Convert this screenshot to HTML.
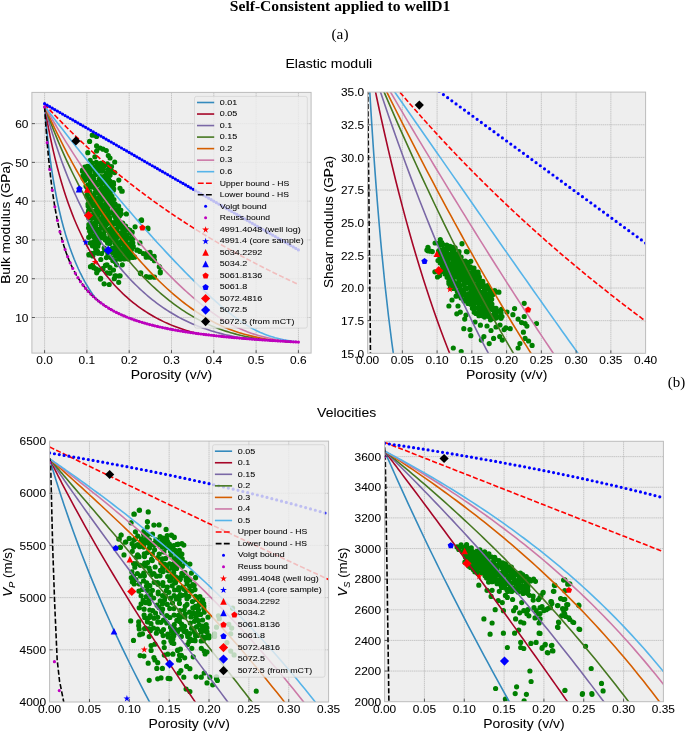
<!DOCTYPE html><html><head><meta charset="utf-8"><style>html,body{margin:0;padding:0;background:#fff;overflow:hidden}svg{display:block}text.s{stroke:#000;stroke-width:0.05px}svg{will-change:transform}</style></head><body><svg width="685" height="731" viewBox="0 0 685 731">
<rect width="685" height="731" fill="#fff"/>
<text x="229.80" y="10.80" font-size="15.5" font-family='"Liberation Serif", serif' text-anchor="start" fill="#000" font-weight="bold" textLength="220.50" lengthAdjust="spacingAndGlyphs">Self-Consistent applied to wellD1</text>
<text x="331.50" y="38.70" font-size="15.1" font-family='"Liberation Serif", serif' text-anchor="start" fill="#000" textLength="17.00" lengthAdjust="spacingAndGlyphs">(a)</text>
<text x="285.50" y="67.90" font-size="13.3" font-family='"Liberation Sans", sans-serif' text-anchor="start" fill="#000" textLength="86.70" lengthAdjust="spacingAndGlyphs" class="s">Elastic moduli</text>
<text x="667.70" y="386.50" font-size="15.1" font-family='"Liberation Serif", serif' text-anchor="start" fill="#000" textLength="17.50" lengthAdjust="spacingAndGlyphs">(b)</text>
<text x="317.10" y="416.80" font-size="13.3" font-family='"Liberation Sans", sans-serif' text-anchor="start" fill="#000" textLength="59.20" lengthAdjust="spacingAndGlyphs" class="s">Velocities</text>
<clipPath id="cTL"><rect x="31.9" y="92.4" width="279.20" height="260.70"/></clipPath>
<rect x="31.9" y="92.4" width="279.20" height="260.70" fill="#eeeeee"/>
<path d="M44.59 92.4V353.1M86.89 92.4V353.1M129.20 92.4V353.1M171.50 92.4V353.1M213.80 92.4V353.1M256.11 92.4V353.1M298.41 92.4V353.1M31.9 317.50H311.1M31.9 278.73H311.1M31.9 239.95H311.1M31.9 201.17H311.1M31.9 162.39H311.1M31.9 123.62H311.1" stroke="#b4b4b4" stroke-width="0.7" stroke-dasharray="1.5 0.6" fill="none"/>
<g clip-path="url(#cTL)">
<path d="M89.7 135.2a2.6 2.6 0 1 0 5.2 0a2.6 2.6 0 1 0 -5.2 0M94.0 136.4a2.6 2.6 0 1 0 5.2 0a2.6 2.6 0 1 0 -5.2 0M87.0 141.4a2.6 2.6 0 1 0 5.2 0a2.6 2.6 0 1 0 -5.2 0M94.0 145.9a2.6 2.6 0 1 0 5.2 0a2.6 2.6 0 1 0 -5.2 0M97.5 148.0a2.6 2.6 0 1 0 5.2 0a2.6 2.6 0 1 0 -5.2 0M100.4 149.2a2.6 2.6 0 1 0 5.2 0a2.6 2.6 0 1 0 -5.2 0M103.7 150.6a2.6 2.6 0 1 0 5.2 0a2.6 2.6 0 1 0 -5.2 0M85.2 152.7a2.6 2.6 0 1 0 5.2 0a2.6 2.6 0 1 0 -5.2 0M94.0 151.0a2.6 2.6 0 1 0 5.2 0a2.6 2.6 0 1 0 -5.2 0M105.7 155.6a2.6 2.6 0 1 0 5.2 0a2.6 2.6 0 1 0 -5.2 0M107.4 158.0a2.6 2.6 0 1 0 5.2 0a2.6 2.6 0 1 0 -5.2 0M92.3 156.8a2.6 2.6 0 1 0 5.2 0a2.6 2.6 0 1 0 -5.2 0M87.6 160.3a2.6 2.6 0 1 0 5.2 0a2.6 2.6 0 1 0 -5.2 0M112.1 162.0a2.6 2.6 0 1 0 5.2 0a2.6 2.6 0 1 0 -5.2 0M116.2 180.1a2.6 2.6 0 1 0 5.2 0a2.6 2.6 0 1 0 -5.2 0M117.4 188.3a2.6 2.6 0 1 0 5.2 0a2.6 2.6 0 1 0 -5.2 0M119.1 191.2a2.6 2.6 0 1 0 5.2 0a2.6 2.6 0 1 0 -5.2 0M112.1 172.6a2.6 2.6 0 1 0 5.2 0a2.6 2.6 0 1 0 -5.2 0M119.6 191.2a2.6 2.6 0 1 0 5.2 0a2.6 2.6 0 1 0 -5.2 0M123.7 214.0a2.6 2.6 0 1 0 5.2 0a2.6 2.6 0 1 0 -5.2 0M138.9 219.8a2.6 2.6 0 1 0 5.2 0a2.6 2.6 0 1 0 -5.2 0M145.3 228.0a2.6 2.6 0 1 0 5.2 0a2.6 2.6 0 1 0 -5.2 0M132.5 226.8a2.6 2.6 0 1 0 5.2 0a2.6 2.6 0 1 0 -5.2 0M86.4 254.9a2.6 2.6 0 1 0 5.2 0a2.6 2.6 0 1 0 -5.2 0M107.4 273.0a2.6 2.6 0 1 0 5.2 0a2.6 2.6 0 1 0 -5.2 0M113.3 275.9a2.6 2.6 0 1 0 5.2 0a2.6 2.6 0 1 0 -5.2 0M116.8 275.9a2.6 2.6 0 1 0 5.2 0a2.6 2.6 0 1 0 -5.2 0M137.8 273.0a2.6 2.6 0 1 0 5.2 0a2.6 2.6 0 1 0 -5.2 0M143.6 276.5a2.6 2.6 0 1 0 5.2 0a2.6 2.6 0 1 0 -5.2 0M148.3 277.1a2.6 2.6 0 1 0 5.2 0a2.6 2.6 0 1 0 -5.2 0M139.0 220.4a2.6 2.6 0 1 0 5.2 0a2.6 2.6 0 1 0 -5.2 0M123.8 214.0a2.6 2.6 0 1 0 5.2 0a2.6 2.6 0 1 0 -5.2 0M98.1 278.3a2.6 2.6 0 1 0 5.2 0a2.6 2.6 0 1 0 -5.2 0M94.6 271.2a2.6 2.6 0 1 0 5.2 0a2.6 2.6 0 1 0 -5.2 0M89.9 265.4a2.6 2.6 0 1 0 5.2 0a2.6 2.6 0 1 0 -5.2 0M93.4 268.9a2.6 2.6 0 1 0 5.2 0a2.6 2.6 0 1 0 -5.2 0M95.8 270.0a2.6 2.6 0 1 0 5.2 0a2.6 2.6 0 1 0 -5.2 0M100.4 268.9a2.6 2.6 0 1 0 5.2 0a2.6 2.6 0 1 0 -5.2 0M102.8 265.4a2.6 2.6 0 1 0 5.2 0a2.6 2.6 0 1 0 -5.2 0M107.4 267.7a2.6 2.6 0 1 0 5.2 0a2.6 2.6 0 1 0 -5.2 0M110.9 270.0a2.6 2.6 0 1 0 5.2 0a2.6 2.6 0 1 0 -5.2 0M91.1 267.7a2.6 2.6 0 1 0 5.2 0a2.6 2.6 0 1 0 -5.2 0M128.5 254.9a2.6 2.6 0 1 0 5.2 0a2.6 2.6 0 1 0 -5.2 0M132.0 257.2a2.6 2.6 0 1 0 5.2 0a2.6 2.6 0 1 0 -5.2 0M134.9 250.2a2.6 2.6 0 1 0 5.2 0a2.6 2.6 0 1 0 -5.2 0M137.2 251.4a2.6 2.6 0 1 0 5.2 0a2.6 2.6 0 1 0 -5.2 0M140.7 253.7a2.6 2.6 0 1 0 5.2 0a2.6 2.6 0 1 0 -5.2 0M143.6 257.2a2.6 2.6 0 1 0 5.2 0a2.6 2.6 0 1 0 -5.2 0M147.1 257.2a2.6 2.6 0 1 0 5.2 0a2.6 2.6 0 1 0 -5.2 0M149.5 258.4a2.6 2.6 0 1 0 5.2 0a2.6 2.6 0 1 0 -5.2 0M151.8 260.7a2.6 2.6 0 1 0 5.2 0a2.6 2.6 0 1 0 -5.2 0M147.5 252.3a2.6 2.6 0 1 0 5.2 0a2.6 2.6 0 1 0 -5.2 0M151.6 256.4a2.6 2.6 0 1 0 5.2 0a2.6 2.6 0 1 0 -5.2 0M156.7 266.7a2.6 2.6 0 1 0 5.2 0a2.6 2.6 0 1 0 -5.2 0M157.7 271.8a2.6 2.6 0 1 0 5.2 0a2.6 2.6 0 1 0 -5.2 0M138.2 272.8a2.6 2.6 0 1 0 5.2 0a2.6 2.6 0 1 0 -5.2 0M145.4 228.7a2.6 2.6 0 1 0 5.2 0a2.6 2.6 0 1 0 -5.2 0M138.2 220.5a2.6 2.6 0 1 0 5.2 0a2.6 2.6 0 1 0 -5.2 0M104.4 272.8a2.6 2.6 0 1 0 5.2 0a2.6 2.6 0 1 0 -5.2 0M94.1 272.8a2.6 2.6 0 1 0 5.2 0a2.6 2.6 0 1 0 -5.2 0M87.9 266.7a2.6 2.6 0 1 0 5.2 0a2.6 2.6 0 1 0 -5.2 0M86.9 254.4a2.6 2.6 0 1 0 5.2 0a2.6 2.6 0 1 0 -5.2 0M97.8 279.1a2.6 2.6 0 1 0 5.2 0a2.6 2.6 0 1 0 -5.2 0M101.5 283.8a2.6 2.6 0 1 0 5.2 0a2.6 2.6 0 1 0 -5.2 0M106.6 284.5a2.6 2.6 0 1 0 5.2 0a2.6 2.6 0 1 0 -5.2 0M116.1 282.3a2.6 2.6 0 1 0 5.2 0a2.6 2.6 0 1 0 -5.2 0M112.4 275.8a2.6 2.6 0 1 0 5.2 0a2.6 2.6 0 1 0 -5.2 0M117.5 275.8a2.6 2.6 0 1 0 5.2 0a2.6 2.6 0 1 0 -5.2 0M107.3 273.3a2.6 2.6 0 1 0 5.2 0a2.6 2.6 0 1 0 -5.2 0M111.7 278.7a2.6 2.6 0 1 0 5.2 0a2.6 2.6 0 1 0 -5.2 0M90.5 266.3a2.6 2.6 0 1 0 5.2 0a2.6 2.6 0 1 0 -5.2 0M94.9 270.7a2.6 2.6 0 1 0 5.2 0a2.6 2.6 0 1 0 -5.2 0M100.0 268.5a2.6 2.6 0 1 0 5.2 0a2.6 2.6 0 1 0 -5.2 0M104.4 264.8a2.6 2.6 0 1 0 5.2 0a2.6 2.6 0 1 0 -5.2 0M113.9 264.8a2.6 2.6 0 1 0 5.2 0a2.6 2.6 0 1 0 -5.2 0M119.7 264.8a2.6 2.6 0 1 0 5.2 0a2.6 2.6 0 1 0 -5.2 0M86.2 254.6a2.6 2.6 0 1 0 5.2 0a2.6 2.6 0 1 0 -5.2 0M89.8 245.8a2.6 2.6 0 1 0 5.2 0a2.6 2.6 0 1 0 -5.2 0M138.0 273.6a2.6 2.6 0 1 0 5.2 0a2.6 2.6 0 1 0 -5.2 0M146.7 277.2a2.6 2.6 0 1 0 5.2 0a2.6 2.6 0 1 0 -5.2 0M151.9 277.2a2.6 2.6 0 1 0 5.2 0a2.6 2.6 0 1 0 -5.2 0M157.7 272.8a2.6 2.6 0 1 0 5.2 0a2.6 2.6 0 1 0 -5.2 0M157.0 267.0a2.6 2.6 0 1 0 5.2 0a2.6 2.6 0 1 0 -5.2 0M151.9 260.4a2.6 2.6 0 1 0 5.2 0a2.6 2.6 0 1 0 -5.2 0M148.9 256.1a2.6 2.6 0 1 0 5.2 0a2.6 2.6 0 1 0 -5.2 0M144.6 253.1a2.6 2.6 0 1 0 5.2 0a2.6 2.6 0 1 0 -5.2 0M134.3 250.2a2.6 2.6 0 1 0 5.2 0a2.6 2.6 0 1 0 -5.2 0M137.3 242.9a2.6 2.6 0 1 0 5.2 0a2.6 2.6 0 1 0 -5.2 0M130.0 257.5a2.6 2.6 0 1 0 5.2 0a2.6 2.6 0 1 0 -5.2 0M125.6 259.0a2.6 2.6 0 1 0 5.2 0a2.6 2.6 0 1 0 -5.2 0M119.7 258.2a2.6 2.6 0 1 0 5.2 0a2.6 2.6 0 1 0 -5.2 0M116.8 254.6a2.6 2.6 0 1 0 5.2 0a2.6 2.6 0 1 0 -5.2 0M79.9 170.0a2.6 2.6 0 1 0 5.2 0a2.6 2.6 0 1 0 -5.2 0M80.4 178.0a2.6 2.6 0 1 0 5.2 0a2.6 2.6 0 1 0 -5.2 0M83.4 186.0a2.6 2.6 0 1 0 5.2 0a2.6 2.6 0 1 0 -5.2 0M84.4 195.0a2.6 2.6 0 1 0 5.2 0a2.6 2.6 0 1 0 -5.2 0M89.7 163.0a2.6 2.6 0 1 0 5.2 0a2.6 2.6 0 1 0 -5.2 0M93.7 162.3a2.6 2.6 0 1 0 5.2 0a2.6 2.6 0 1 0 -5.2 0M98.1 163.3a2.6 2.6 0 1 0 5.2 0a2.6 2.6 0 1 0 -5.2 0M100.4 163.0a2.6 2.6 0 1 0 5.2 0a2.6 2.6 0 1 0 -5.2 0M104.7 163.8a2.6 2.6 0 1 0 5.2 0a2.6 2.6 0 1 0 -5.2 0M82.1 167.1a2.6 2.6 0 1 0 5.2 0a2.6 2.6 0 1 0 -5.2 0M84.7 166.3a2.6 2.6 0 1 0 5.2 0a2.6 2.6 0 1 0 -5.2 0M87.3 166.4a2.6 2.6 0 1 0 5.2 0a2.6 2.6 0 1 0 -5.2 0M92.4 167.2a2.6 2.6 0 1 0 5.2 0a2.6 2.6 0 1 0 -5.2 0M96.4 165.4a2.6 2.6 0 1 0 5.2 0a2.6 2.6 0 1 0 -5.2 0M98.9 166.4a2.6 2.6 0 1 0 5.2 0a2.6 2.6 0 1 0 -5.2 0M101.6 165.8a2.6 2.6 0 1 0 5.2 0a2.6 2.6 0 1 0 -5.2 0M105.6 165.0a2.6 2.6 0 1 0 5.2 0a2.6 2.6 0 1 0 -5.2 0M108.9 166.6a2.6 2.6 0 1 0 5.2 0a2.6 2.6 0 1 0 -5.2 0M84.2 168.2a2.6 2.6 0 1 0 5.2 0a2.6 2.6 0 1 0 -5.2 0M85.8 168.4a2.6 2.6 0 1 0 5.2 0a2.6 2.6 0 1 0 -5.2 0M89.5 169.0a2.6 2.6 0 1 0 5.2 0a2.6 2.6 0 1 0 -5.2 0M94.0 168.5a2.6 2.6 0 1 0 5.2 0a2.6 2.6 0 1 0 -5.2 0M96.2 168.8a2.6 2.6 0 1 0 5.2 0a2.6 2.6 0 1 0 -5.2 0M100.7 169.2a2.6 2.6 0 1 0 5.2 0a2.6 2.6 0 1 0 -5.2 0M105.7 169.5a2.6 2.6 0 1 0 5.2 0a2.6 2.6 0 1 0 -5.2 0M108.2 169.3a2.6 2.6 0 1 0 5.2 0a2.6 2.6 0 1 0 -5.2 0M79.9 171.3a2.6 2.6 0 1 0 5.2 0a2.6 2.6 0 1 0 -5.2 0M83.8 171.8a2.6 2.6 0 1 0 5.2 0a2.6 2.6 0 1 0 -5.2 0M87.2 173.1a2.6 2.6 0 1 0 5.2 0a2.6 2.6 0 1 0 -5.2 0M92.3 171.3a2.6 2.6 0 1 0 5.2 0a2.6 2.6 0 1 0 -5.2 0M95.0 171.8a2.6 2.6 0 1 0 5.2 0a2.6 2.6 0 1 0 -5.2 0M98.9 171.2a2.6 2.6 0 1 0 5.2 0a2.6 2.6 0 1 0 -5.2 0M103.7 173.4a2.6 2.6 0 1 0 5.2 0a2.6 2.6 0 1 0 -5.2 0M106.3 172.1a2.6 2.6 0 1 0 5.2 0a2.6 2.6 0 1 0 -5.2 0M109.0 171.2a2.6 2.6 0 1 0 5.2 0a2.6 2.6 0 1 0 -5.2 0M80.3 175.8a2.6 2.6 0 1 0 5.2 0a2.6 2.6 0 1 0 -5.2 0M82.4 175.0a2.6 2.6 0 1 0 5.2 0a2.6 2.6 0 1 0 -5.2 0M85.8 176.0a2.6 2.6 0 1 0 5.2 0a2.6 2.6 0 1 0 -5.2 0M90.3 176.0a2.6 2.6 0 1 0 5.2 0a2.6 2.6 0 1 0 -5.2 0M93.4 174.6a2.6 2.6 0 1 0 5.2 0a2.6 2.6 0 1 0 -5.2 0M98.2 176.5a2.6 2.6 0 1 0 5.2 0a2.6 2.6 0 1 0 -5.2 0M101.9 176.1a2.6 2.6 0 1 0 5.2 0a2.6 2.6 0 1 0 -5.2 0M105.4 175.9a2.6 2.6 0 1 0 5.2 0a2.6 2.6 0 1 0 -5.2 0M107.5 175.3a2.6 2.6 0 1 0 5.2 0a2.6 2.6 0 1 0 -5.2 0M81.5 179.4a2.6 2.6 0 1 0 5.2 0a2.6 2.6 0 1 0 -5.2 0M85.7 178.4a2.6 2.6 0 1 0 5.2 0a2.6 2.6 0 1 0 -5.2 0M88.8 179.2a2.6 2.6 0 1 0 5.2 0a2.6 2.6 0 1 0 -5.2 0M91.0 178.8a2.6 2.6 0 1 0 5.2 0a2.6 2.6 0 1 0 -5.2 0M96.6 179.1a2.6 2.6 0 1 0 5.2 0a2.6 2.6 0 1 0 -5.2 0M99.8 178.4a2.6 2.6 0 1 0 5.2 0a2.6 2.6 0 1 0 -5.2 0M102.0 179.1a2.6 2.6 0 1 0 5.2 0a2.6 2.6 0 1 0 -5.2 0M106.0 179.2a2.6 2.6 0 1 0 5.2 0a2.6 2.6 0 1 0 -5.2 0M82.1 180.3a2.6 2.6 0 1 0 5.2 0a2.6 2.6 0 1 0 -5.2 0M87.8 181.9a2.6 2.6 0 1 0 5.2 0a2.6 2.6 0 1 0 -5.2 0M90.3 182.6a2.6 2.6 0 1 0 5.2 0a2.6 2.6 0 1 0 -5.2 0M93.6 182.5a2.6 2.6 0 1 0 5.2 0a2.6 2.6 0 1 0 -5.2 0M98.2 180.8a2.6 2.6 0 1 0 5.2 0a2.6 2.6 0 1 0 -5.2 0M100.4 181.0a2.6 2.6 0 1 0 5.2 0a2.6 2.6 0 1 0 -5.2 0M103.9 181.7a2.6 2.6 0 1 0 5.2 0a2.6 2.6 0 1 0 -5.2 0M107.6 181.3a2.6 2.6 0 1 0 5.2 0a2.6 2.6 0 1 0 -5.2 0M110.9 182.6a2.6 2.6 0 1 0 5.2 0a2.6 2.6 0 1 0 -5.2 0M85.4 184.8a2.6 2.6 0 1 0 5.2 0a2.6 2.6 0 1 0 -5.2 0M88.0 184.7a2.6 2.6 0 1 0 5.2 0a2.6 2.6 0 1 0 -5.2 0M92.1 185.4a2.6 2.6 0 1 0 5.2 0a2.6 2.6 0 1 0 -5.2 0M94.6 184.8a2.6 2.6 0 1 0 5.2 0a2.6 2.6 0 1 0 -5.2 0M98.6 184.1a2.6 2.6 0 1 0 5.2 0a2.6 2.6 0 1 0 -5.2 0M103.5 184.7a2.6 2.6 0 1 0 5.2 0a2.6 2.6 0 1 0 -5.2 0M106.6 185.3a2.6 2.6 0 1 0 5.2 0a2.6 2.6 0 1 0 -5.2 0M111.0 184.5a2.6 2.6 0 1 0 5.2 0a2.6 2.6 0 1 0 -5.2 0M83.9 186.8a2.6 2.6 0 1 0 5.2 0a2.6 2.6 0 1 0 -5.2 0M85.6 187.6a2.6 2.6 0 1 0 5.2 0a2.6 2.6 0 1 0 -5.2 0M89.1 187.1a2.6 2.6 0 1 0 5.2 0a2.6 2.6 0 1 0 -5.2 0M92.7 188.2a2.6 2.6 0 1 0 5.2 0a2.6 2.6 0 1 0 -5.2 0M98.1 188.8a2.6 2.6 0 1 0 5.2 0a2.6 2.6 0 1 0 -5.2 0M100.1 188.3a2.6 2.6 0 1 0 5.2 0a2.6 2.6 0 1 0 -5.2 0M105.0 186.9a2.6 2.6 0 1 0 5.2 0a2.6 2.6 0 1 0 -5.2 0M109.2 188.9a2.6 2.6 0 1 0 5.2 0a2.6 2.6 0 1 0 -5.2 0M111.1 188.9a2.6 2.6 0 1 0 5.2 0a2.6 2.6 0 1 0 -5.2 0M85.1 190.9a2.6 2.6 0 1 0 5.2 0a2.6 2.6 0 1 0 -5.2 0M87.3 192.1a2.6 2.6 0 1 0 5.2 0a2.6 2.6 0 1 0 -5.2 0M92.7 192.1a2.6 2.6 0 1 0 5.2 0a2.6 2.6 0 1 0 -5.2 0M94.6 190.3a2.6 2.6 0 1 0 5.2 0a2.6 2.6 0 1 0 -5.2 0M98.0 191.6a2.6 2.6 0 1 0 5.2 0a2.6 2.6 0 1 0 -5.2 0M102.2 189.9a2.6 2.6 0 1 0 5.2 0a2.6 2.6 0 1 0 -5.2 0M106.2 191.9a2.6 2.6 0 1 0 5.2 0a2.6 2.6 0 1 0 -5.2 0M110.8 190.3a2.6 2.6 0 1 0 5.2 0a2.6 2.6 0 1 0 -5.2 0M86.5 193.6a2.6 2.6 0 1 0 5.2 0a2.6 2.6 0 1 0 -5.2 0M90.3 195.1a2.6 2.6 0 1 0 5.2 0a2.6 2.6 0 1 0 -5.2 0M93.2 193.1a2.6 2.6 0 1 0 5.2 0a2.6 2.6 0 1 0 -5.2 0M97.5 193.3a2.6 2.6 0 1 0 5.2 0a2.6 2.6 0 1 0 -5.2 0M100.0 193.1a2.6 2.6 0 1 0 5.2 0a2.6 2.6 0 1 0 -5.2 0M103.5 193.2a2.6 2.6 0 1 0 5.2 0a2.6 2.6 0 1 0 -5.2 0M107.7 193.5a2.6 2.6 0 1 0 5.2 0a2.6 2.6 0 1 0 -5.2 0M84.5 197.1a2.6 2.6 0 1 0 5.2 0a2.6 2.6 0 1 0 -5.2 0M88.9 198.3a2.6 2.6 0 1 0 5.2 0a2.6 2.6 0 1 0 -5.2 0M91.6 197.9a2.6 2.6 0 1 0 5.2 0a2.6 2.6 0 1 0 -5.2 0M96.1 197.5a2.6 2.6 0 1 0 5.2 0a2.6 2.6 0 1 0 -5.2 0M99.0 196.7a2.6 2.6 0 1 0 5.2 0a2.6 2.6 0 1 0 -5.2 0M101.7 196.2a2.6 2.6 0 1 0 5.2 0a2.6 2.6 0 1 0 -5.2 0M105.3 197.7a2.6 2.6 0 1 0 5.2 0a2.6 2.6 0 1 0 -5.2 0M109.4 196.3a2.6 2.6 0 1 0 5.2 0a2.6 2.6 0 1 0 -5.2 0M86.1 199.9a2.6 2.6 0 1 0 5.2 0a2.6 2.6 0 1 0 -5.2 0M88.9 199.9a2.6 2.6 0 1 0 5.2 0a2.6 2.6 0 1 0 -5.2 0M93.7 200.2a2.6 2.6 0 1 0 5.2 0a2.6 2.6 0 1 0 -5.2 0M96.6 200.2a2.6 2.6 0 1 0 5.2 0a2.6 2.6 0 1 0 -5.2 0M99.8 199.6a2.6 2.6 0 1 0 5.2 0a2.6 2.6 0 1 0 -5.2 0M103.6 200.0a2.6 2.6 0 1 0 5.2 0a2.6 2.6 0 1 0 -5.2 0M107.0 199.0a2.6 2.6 0 1 0 5.2 0a2.6 2.6 0 1 0 -5.2 0M111.3 199.6a2.6 2.6 0 1 0 5.2 0a2.6 2.6 0 1 0 -5.2 0M85.4 204.1a2.6 2.6 0 1 0 5.2 0a2.6 2.6 0 1 0 -5.2 0M87.5 203.4a2.6 2.6 0 1 0 5.2 0a2.6 2.6 0 1 0 -5.2 0M92.0 204.2a2.6 2.6 0 1 0 5.2 0a2.6 2.6 0 1 0 -5.2 0M96.4 204.2a2.6 2.6 0 1 0 5.2 0a2.6 2.6 0 1 0 -5.2 0M99.4 204.3a2.6 2.6 0 1 0 5.2 0a2.6 2.6 0 1 0 -5.2 0M103.3 203.8a2.6 2.6 0 1 0 5.2 0a2.6 2.6 0 1 0 -5.2 0M105.7 202.2a2.6 2.6 0 1 0 5.2 0a2.6 2.6 0 1 0 -5.2 0M109.1 203.0a2.6 2.6 0 1 0 5.2 0a2.6 2.6 0 1 0 -5.2 0M112.6 204.2a2.6 2.6 0 1 0 5.2 0a2.6 2.6 0 1 0 -5.2 0M85.5 205.9a2.6 2.6 0 1 0 5.2 0a2.6 2.6 0 1 0 -5.2 0M90.8 205.7a2.6 2.6 0 1 0 5.2 0a2.6 2.6 0 1 0 -5.2 0M94.4 207.7a2.6 2.6 0 1 0 5.2 0a2.6 2.6 0 1 0 -5.2 0M97.4 206.2a2.6 2.6 0 1 0 5.2 0a2.6 2.6 0 1 0 -5.2 0M100.9 206.9a2.6 2.6 0 1 0 5.2 0a2.6 2.6 0 1 0 -5.2 0M105.3 206.8a2.6 2.6 0 1 0 5.2 0a2.6 2.6 0 1 0 -5.2 0M108.6 205.4a2.6 2.6 0 1 0 5.2 0a2.6 2.6 0 1 0 -5.2 0M110.9 205.8a2.6 2.6 0 1 0 5.2 0a2.6 2.6 0 1 0 -5.2 0M116.0 206.0a2.6 2.6 0 1 0 5.2 0a2.6 2.6 0 1 0 -5.2 0M86.0 210.7a2.6 2.6 0 1 0 5.2 0a2.6 2.6 0 1 0 -5.2 0M87.2 209.5a2.6 2.6 0 1 0 5.2 0a2.6 2.6 0 1 0 -5.2 0M92.8 210.8a2.6 2.6 0 1 0 5.2 0a2.6 2.6 0 1 0 -5.2 0M95.5 209.0a2.6 2.6 0 1 0 5.2 0a2.6 2.6 0 1 0 -5.2 0M98.5 210.7a2.6 2.6 0 1 0 5.2 0a2.6 2.6 0 1 0 -5.2 0M102.1 209.8a2.6 2.6 0 1 0 5.2 0a2.6 2.6 0 1 0 -5.2 0M105.5 209.6a2.6 2.6 0 1 0 5.2 0a2.6 2.6 0 1 0 -5.2 0M111.1 208.7a2.6 2.6 0 1 0 5.2 0a2.6 2.6 0 1 0 -5.2 0M114.4 209.6a2.6 2.6 0 1 0 5.2 0a2.6 2.6 0 1 0 -5.2 0M118.2 210.1a2.6 2.6 0 1 0 5.2 0a2.6 2.6 0 1 0 -5.2 0M85.3 213.3a2.6 2.6 0 1 0 5.2 0a2.6 2.6 0 1 0 -5.2 0M91.1 211.7a2.6 2.6 0 1 0 5.2 0a2.6 2.6 0 1 0 -5.2 0M94.9 213.2a2.6 2.6 0 1 0 5.2 0a2.6 2.6 0 1 0 -5.2 0M98.4 212.2a2.6 2.6 0 1 0 5.2 0a2.6 2.6 0 1 0 -5.2 0M100.7 212.4a2.6 2.6 0 1 0 5.2 0a2.6 2.6 0 1 0 -5.2 0M105.9 212.9a2.6 2.6 0 1 0 5.2 0a2.6 2.6 0 1 0 -5.2 0M107.8 212.5a2.6 2.6 0 1 0 5.2 0a2.6 2.6 0 1 0 -5.2 0M111.2 211.6a2.6 2.6 0 1 0 5.2 0a2.6 2.6 0 1 0 -5.2 0M114.4 213.5a2.6 2.6 0 1 0 5.2 0a2.6 2.6 0 1 0 -5.2 0M118.5 213.8a2.6 2.6 0 1 0 5.2 0a2.6 2.6 0 1 0 -5.2 0M85.4 214.7a2.6 2.6 0 1 0 5.2 0a2.6 2.6 0 1 0 -5.2 0M89.0 215.7a2.6 2.6 0 1 0 5.2 0a2.6 2.6 0 1 0 -5.2 0M92.6 216.2a2.6 2.6 0 1 0 5.2 0a2.6 2.6 0 1 0 -5.2 0M95.1 214.7a2.6 2.6 0 1 0 5.2 0a2.6 2.6 0 1 0 -5.2 0M100.3 214.9a2.6 2.6 0 1 0 5.2 0a2.6 2.6 0 1 0 -5.2 0M102.7 215.4a2.6 2.6 0 1 0 5.2 0a2.6 2.6 0 1 0 -5.2 0M105.9 216.4a2.6 2.6 0 1 0 5.2 0a2.6 2.6 0 1 0 -5.2 0M111.2 215.2a2.6 2.6 0 1 0 5.2 0a2.6 2.6 0 1 0 -5.2 0M114.0 215.3a2.6 2.6 0 1 0 5.2 0a2.6 2.6 0 1 0 -5.2 0M117.3 215.6a2.6 2.6 0 1 0 5.2 0a2.6 2.6 0 1 0 -5.2 0M86.2 217.9a2.6 2.6 0 1 0 5.2 0a2.6 2.6 0 1 0 -5.2 0M89.5 218.3a2.6 2.6 0 1 0 5.2 0a2.6 2.6 0 1 0 -5.2 0M94.0 219.9a2.6 2.6 0 1 0 5.2 0a2.6 2.6 0 1 0 -5.2 0M98.0 218.7a2.6 2.6 0 1 0 5.2 0a2.6 2.6 0 1 0 -5.2 0M100.8 219.0a2.6 2.6 0 1 0 5.2 0a2.6 2.6 0 1 0 -5.2 0M104.3 218.5a2.6 2.6 0 1 0 5.2 0a2.6 2.6 0 1 0 -5.2 0M107.1 218.4a2.6 2.6 0 1 0 5.2 0a2.6 2.6 0 1 0 -5.2 0M113.0 218.0a2.6 2.6 0 1 0 5.2 0a2.6 2.6 0 1 0 -5.2 0M115.4 219.3a2.6 2.6 0 1 0 5.2 0a2.6 2.6 0 1 0 -5.2 0M88.1 223.1a2.6 2.6 0 1 0 5.2 0a2.6 2.6 0 1 0 -5.2 0M92.8 222.9a2.6 2.6 0 1 0 5.2 0a2.6 2.6 0 1 0 -5.2 0M96.8 221.4a2.6 2.6 0 1 0 5.2 0a2.6 2.6 0 1 0 -5.2 0M98.2 221.2a2.6 2.6 0 1 0 5.2 0a2.6 2.6 0 1 0 -5.2 0M102.9 222.5a2.6 2.6 0 1 0 5.2 0a2.6 2.6 0 1 0 -5.2 0M107.5 222.6a2.6 2.6 0 1 0 5.2 0a2.6 2.6 0 1 0 -5.2 0M110.4 222.7a2.6 2.6 0 1 0 5.2 0a2.6 2.6 0 1 0 -5.2 0M113.5 222.2a2.6 2.6 0 1 0 5.2 0a2.6 2.6 0 1 0 -5.2 0M116.0 222.8a2.6 2.6 0 1 0 5.2 0a2.6 2.6 0 1 0 -5.2 0M120.1 223.1a2.6 2.6 0 1 0 5.2 0a2.6 2.6 0 1 0 -5.2 0M86.3 224.5a2.6 2.6 0 1 0 5.2 0a2.6 2.6 0 1 0 -5.2 0M90.5 223.9a2.6 2.6 0 1 0 5.2 0a2.6 2.6 0 1 0 -5.2 0M93.3 225.1a2.6 2.6 0 1 0 5.2 0a2.6 2.6 0 1 0 -5.2 0M98.6 225.5a2.6 2.6 0 1 0 5.2 0a2.6 2.6 0 1 0 -5.2 0M102.0 225.1a2.6 2.6 0 1 0 5.2 0a2.6 2.6 0 1 0 -5.2 0M103.9 224.5a2.6 2.6 0 1 0 5.2 0a2.6 2.6 0 1 0 -5.2 0M109.4 225.7a2.6 2.6 0 1 0 5.2 0a2.6 2.6 0 1 0 -5.2 0M111.3 224.0a2.6 2.6 0 1 0 5.2 0a2.6 2.6 0 1 0 -5.2 0M115.4 225.6a2.6 2.6 0 1 0 5.2 0a2.6 2.6 0 1 0 -5.2 0M118.8 224.6a2.6 2.6 0 1 0 5.2 0a2.6 2.6 0 1 0 -5.2 0M123.0 226.2a2.6 2.6 0 1 0 5.2 0a2.6 2.6 0 1 0 -5.2 0M86.0 227.8a2.6 2.6 0 1 0 5.2 0a2.6 2.6 0 1 0 -5.2 0M89.2 227.6a2.6 2.6 0 1 0 5.2 0a2.6 2.6 0 1 0 -5.2 0M91.3 228.9a2.6 2.6 0 1 0 5.2 0a2.6 2.6 0 1 0 -5.2 0M95.1 229.4a2.6 2.6 0 1 0 5.2 0a2.6 2.6 0 1 0 -5.2 0M99.2 227.5a2.6 2.6 0 1 0 5.2 0a2.6 2.6 0 1 0 -5.2 0M102.1 228.1a2.6 2.6 0 1 0 5.2 0a2.6 2.6 0 1 0 -5.2 0M106.8 229.4a2.6 2.6 0 1 0 5.2 0a2.6 2.6 0 1 0 -5.2 0M109.1 228.0a2.6 2.6 0 1 0 5.2 0a2.6 2.6 0 1 0 -5.2 0M112.9 229.5a2.6 2.6 0 1 0 5.2 0a2.6 2.6 0 1 0 -5.2 0M116.3 227.2a2.6 2.6 0 1 0 5.2 0a2.6 2.6 0 1 0 -5.2 0M119.7 228.0a2.6 2.6 0 1 0 5.2 0a2.6 2.6 0 1 0 -5.2 0M125.4 229.3a2.6 2.6 0 1 0 5.2 0a2.6 2.6 0 1 0 -5.2 0M87.0 231.1a2.6 2.6 0 1 0 5.2 0a2.6 2.6 0 1 0 -5.2 0M89.9 231.0a2.6 2.6 0 1 0 5.2 0a2.6 2.6 0 1 0 -5.2 0M93.0 230.2a2.6 2.6 0 1 0 5.2 0a2.6 2.6 0 1 0 -5.2 0M96.8 231.0a2.6 2.6 0 1 0 5.2 0a2.6 2.6 0 1 0 -5.2 0M102.1 230.5a2.6 2.6 0 1 0 5.2 0a2.6 2.6 0 1 0 -5.2 0M105.8 230.7a2.6 2.6 0 1 0 5.2 0a2.6 2.6 0 1 0 -5.2 0M107.8 232.2a2.6 2.6 0 1 0 5.2 0a2.6 2.6 0 1 0 -5.2 0M112.6 231.2a2.6 2.6 0 1 0 5.2 0a2.6 2.6 0 1 0 -5.2 0M114.3 231.3a2.6 2.6 0 1 0 5.2 0a2.6 2.6 0 1 0 -5.2 0M118.7 232.5a2.6 2.6 0 1 0 5.2 0a2.6 2.6 0 1 0 -5.2 0M121.8 231.1a2.6 2.6 0 1 0 5.2 0a2.6 2.6 0 1 0 -5.2 0M127.2 230.2a2.6 2.6 0 1 0 5.2 0a2.6 2.6 0 1 0 -5.2 0M129.6 232.2a2.6 2.6 0 1 0 5.2 0a2.6 2.6 0 1 0 -5.2 0M88.0 233.9a2.6 2.6 0 1 0 5.2 0a2.6 2.6 0 1 0 -5.2 0M93.2 234.8a2.6 2.6 0 1 0 5.2 0a2.6 2.6 0 1 0 -5.2 0M95.0 235.1a2.6 2.6 0 1 0 5.2 0a2.6 2.6 0 1 0 -5.2 0M98.7 234.0a2.6 2.6 0 1 0 5.2 0a2.6 2.6 0 1 0 -5.2 0M101.5 235.2a2.6 2.6 0 1 0 5.2 0a2.6 2.6 0 1 0 -5.2 0M107.4 234.9a2.6 2.6 0 1 0 5.2 0a2.6 2.6 0 1 0 -5.2 0M111.1 233.3a2.6 2.6 0 1 0 5.2 0a2.6 2.6 0 1 0 -5.2 0M112.9 234.5a2.6 2.6 0 1 0 5.2 0a2.6 2.6 0 1 0 -5.2 0M118.4 235.7a2.6 2.6 0 1 0 5.2 0a2.6 2.6 0 1 0 -5.2 0M120.5 233.9a2.6 2.6 0 1 0 5.2 0a2.6 2.6 0 1 0 -5.2 0M124.2 234.5a2.6 2.6 0 1 0 5.2 0a2.6 2.6 0 1 0 -5.2 0M129.1 233.7a2.6 2.6 0 1 0 5.2 0a2.6 2.6 0 1 0 -5.2 0M86.1 237.3a2.6 2.6 0 1 0 5.2 0a2.6 2.6 0 1 0 -5.2 0M90.9 236.6a2.6 2.6 0 1 0 5.2 0a2.6 2.6 0 1 0 -5.2 0M93.0 238.3a2.6 2.6 0 1 0 5.2 0a2.6 2.6 0 1 0 -5.2 0M96.8 236.5a2.6 2.6 0 1 0 5.2 0a2.6 2.6 0 1 0 -5.2 0M99.8 237.8a2.6 2.6 0 1 0 5.2 0a2.6 2.6 0 1 0 -5.2 0M104.2 238.9a2.6 2.6 0 1 0 5.2 0a2.6 2.6 0 1 0 -5.2 0M109.2 238.9a2.6 2.6 0 1 0 5.2 0a2.6 2.6 0 1 0 -5.2 0M111.2 236.6a2.6 2.6 0 1 0 5.2 0a2.6 2.6 0 1 0 -5.2 0M114.4 237.6a2.6 2.6 0 1 0 5.2 0a2.6 2.6 0 1 0 -5.2 0M119.5 237.5a2.6 2.6 0 1 0 5.2 0a2.6 2.6 0 1 0 -5.2 0M121.9 237.4a2.6 2.6 0 1 0 5.2 0a2.6 2.6 0 1 0 -5.2 0M126.5 238.1a2.6 2.6 0 1 0 5.2 0a2.6 2.6 0 1 0 -5.2 0M130.4 238.5a2.6 2.6 0 1 0 5.2 0a2.6 2.6 0 1 0 -5.2 0M91.1 241.7a2.6 2.6 0 1 0 5.2 0a2.6 2.6 0 1 0 -5.2 0M95.8 240.3a2.6 2.6 0 1 0 5.2 0a2.6 2.6 0 1 0 -5.2 0M102.8 240.1a2.6 2.6 0 1 0 5.2 0a2.6 2.6 0 1 0 -5.2 0M107.2 241.1a2.6 2.6 0 1 0 5.2 0a2.6 2.6 0 1 0 -5.2 0M111.2 239.8a2.6 2.6 0 1 0 5.2 0a2.6 2.6 0 1 0 -5.2 0M113.5 241.6a2.6 2.6 0 1 0 5.2 0a2.6 2.6 0 1 0 -5.2 0M118.1 241.8a2.6 2.6 0 1 0 5.2 0a2.6 2.6 0 1 0 -5.2 0M119.6 240.2a2.6 2.6 0 1 0 5.2 0a2.6 2.6 0 1 0 -5.2 0M123.4 240.0a2.6 2.6 0 1 0 5.2 0a2.6 2.6 0 1 0 -5.2 0M129.2 241.0a2.6 2.6 0 1 0 5.2 0a2.6 2.6 0 1 0 -5.2 0M87.7 242.9a2.6 2.6 0 1 0 5.2 0a2.6 2.6 0 1 0 -5.2 0M93.1 243.5a2.6 2.6 0 1 0 5.2 0a2.6 2.6 0 1 0 -5.2 0M96.5 243.1a2.6 2.6 0 1 0 5.2 0a2.6 2.6 0 1 0 -5.2 0M105.0 243.1a2.6 2.6 0 1 0 5.2 0a2.6 2.6 0 1 0 -5.2 0M107.0 243.4a2.6 2.6 0 1 0 5.2 0a2.6 2.6 0 1 0 -5.2 0M112.2 243.1a2.6 2.6 0 1 0 5.2 0a2.6 2.6 0 1 0 -5.2 0M114.9 243.1a2.6 2.6 0 1 0 5.2 0a2.6 2.6 0 1 0 -5.2 0M119.7 244.0a2.6 2.6 0 1 0 5.2 0a2.6 2.6 0 1 0 -5.2 0M121.5 242.9a2.6 2.6 0 1 0 5.2 0a2.6 2.6 0 1 0 -5.2 0M125.9 244.0a2.6 2.6 0 1 0 5.2 0a2.6 2.6 0 1 0 -5.2 0M130.2 242.8a2.6 2.6 0 1 0 5.2 0a2.6 2.6 0 1 0 -5.2 0M92.9 248.2a2.6 2.6 0 1 0 5.2 0a2.6 2.6 0 1 0 -5.2 0M95.3 246.2a2.6 2.6 0 1 0 5.2 0a2.6 2.6 0 1 0 -5.2 0M101.6 248.0a2.6 2.6 0 1 0 5.2 0a2.6 2.6 0 1 0 -5.2 0M109.8 248.0a2.6 2.6 0 1 0 5.2 0a2.6 2.6 0 1 0 -5.2 0M113.5 246.1a2.6 2.6 0 1 0 5.2 0a2.6 2.6 0 1 0 -5.2 0M116.0 247.1a2.6 2.6 0 1 0 5.2 0a2.6 2.6 0 1 0 -5.2 0M121.2 248.0a2.6 2.6 0 1 0 5.2 0a2.6 2.6 0 1 0 -5.2 0M123.4 247.3a2.6 2.6 0 1 0 5.2 0a2.6 2.6 0 1 0 -5.2 0M127.7 247.0a2.6 2.6 0 1 0 5.2 0a2.6 2.6 0 1 0 -5.2 0M130.7 246.4a2.6 2.6 0 1 0 5.2 0a2.6 2.6 0 1 0 -5.2 0M94.9 251.3a2.6 2.6 0 1 0 5.2 0a2.6 2.6 0 1 0 -5.2 0M102.1 249.8a2.6 2.6 0 1 0 5.2 0a2.6 2.6 0 1 0 -5.2 0M109.0 249.3a2.6 2.6 0 1 0 5.2 0a2.6 2.6 0 1 0 -5.2 0M112.5 249.4a2.6 2.6 0 1 0 5.2 0a2.6 2.6 0 1 0 -5.2 0M115.2 251.0a2.6 2.6 0 1 0 5.2 0a2.6 2.6 0 1 0 -5.2 0M119.8 249.3a2.6 2.6 0 1 0 5.2 0a2.6 2.6 0 1 0 -5.2 0M121.9 249.9a2.6 2.6 0 1 0 5.2 0a2.6 2.6 0 1 0 -5.2 0M126.2 249.8a2.6 2.6 0 1 0 5.2 0a2.6 2.6 0 1 0 -5.2 0M128.9 249.5a2.6 2.6 0 1 0 5.2 0a2.6 2.6 0 1 0 -5.2 0M88.7 253.4a2.6 2.6 0 1 0 5.2 0a2.6 2.6 0 1 0 -5.2 0M92.3 252.7a2.6 2.6 0 1 0 5.2 0a2.6 2.6 0 1 0 -5.2 0M95.4 253.4a2.6 2.6 0 1 0 5.2 0a2.6 2.6 0 1 0 -5.2 0M99.0 253.6a2.6 2.6 0 1 0 5.2 0a2.6 2.6 0 1 0 -5.2 0M105.2 253.5a2.6 2.6 0 1 0 5.2 0a2.6 2.6 0 1 0 -5.2 0M110.0 252.6a2.6 2.6 0 1 0 5.2 0a2.6 2.6 0 1 0 -5.2 0M114.3 253.9a2.6 2.6 0 1 0 5.2 0a2.6 2.6 0 1 0 -5.2 0M117.1 252.4a2.6 2.6 0 1 0 5.2 0a2.6 2.6 0 1 0 -5.2 0M120.7 252.2a2.6 2.6 0 1 0 5.2 0a2.6 2.6 0 1 0 -5.2 0M123.5 253.1a2.6 2.6 0 1 0 5.2 0a2.6 2.6 0 1 0 -5.2 0M127.0 253.1a2.6 2.6 0 1 0 5.2 0a2.6 2.6 0 1 0 -5.2 0M90.2 256.0a2.6 2.6 0 1 0 5.2 0a2.6 2.6 0 1 0 -5.2 0M103.8 257.6a2.6 2.6 0 1 0 5.2 0a2.6 2.6 0 1 0 -5.2 0M108.2 257.5a2.6 2.6 0 1 0 5.2 0a2.6 2.6 0 1 0 -5.2 0M112.8 255.5a2.6 2.6 0 1 0 5.2 0a2.6 2.6 0 1 0 -5.2 0M116.1 257.4a2.6 2.6 0 1 0 5.2 0a2.6 2.6 0 1 0 -5.2 0M117.9 256.0a2.6 2.6 0 1 0 5.2 0a2.6 2.6 0 1 0 -5.2 0M123.2 255.5a2.6 2.6 0 1 0 5.2 0a2.6 2.6 0 1 0 -5.2 0M127.2 255.8a2.6 2.6 0 1 0 5.2 0a2.6 2.6 0 1 0 -5.2 0M98.2 259.5a2.6 2.6 0 1 0 5.2 0a2.6 2.6 0 1 0 -5.2 0M110.2 260.4a2.6 2.6 0 1 0 5.2 0a2.6 2.6 0 1 0 -5.2 0M112.6 260.7a2.6 2.6 0 1 0 5.2 0a2.6 2.6 0 1 0 -5.2 0M117.5 259.2a2.6 2.6 0 1 0 5.2 0a2.6 2.6 0 1 0 -5.2 0M121.6 258.9a2.6 2.6 0 1 0 5.2 0a2.6 2.6 0 1 0 -5.2 0M112.2 261.4a2.6 2.6 0 1 0 5.2 0a2.6 2.6 0 1 0 -5.2 0" fill="#008000"/>
<path d="M44.59,106.17 L45.01,111.20 L45.44,116.02 L45.86,120.64 L46.28,125.07 L46.71,129.33 L47.13,133.43 L47.55,137.37 L47.98,141.17 L48.40,144.84 L48.82,148.39 L49.24,151.81 L49.67,155.13 L50.09,158.35 L50.51,161.46 L50.94,164.48 L51.36,167.42 L51.78,170.27 L52.21,173.04 L52.63,175.74 L53.05,178.36 L55.17,190.51 L57.28,201.30 L59.40,210.97 L61.51,219.72 L63.63,227.70 L65.74,235.01 L67.86,241.76 L69.97,248.01 L72.09,253.81 L74.20,259.23 L76.32,264.29 L78.43,269.03 L80.55,273.48 L82.66,277.66 L84.78,281.59 L86.89,285.28 L89.01,288.75 L91.12,292.01 L93.24,295.08 L95.35,297.96 L97.47,300.18 L99.58,301.87 L101.70,303.46 L103.82,304.96 L105.93,306.37 L108.05,307.71 L110.16,308.98 L112.28,310.19 L114.39,311.34 L116.51,312.43 L118.62,313.46 L120.74,314.45 L122.85,315.40 L124.97,316.30 L127.08,317.17 L129.20,318.00 L131.31,318.79 L133.43,319.55 L135.54,320.28 L137.66,320.99 L139.77,321.66 L141.89,322.31 L144.00,322.94 L146.12,323.54 L148.23,324.12 L150.35,324.69 L152.46,325.23 L154.58,325.75 L156.69,326.26 L158.81,326.75 L160.92,327.22 L163.04,327.68 L165.15,328.13 L167.27,328.56 L169.38,328.98 L171.50,329.39 L173.62,329.78 L175.73,330.16 L177.85,330.53 L179.96,330.90 L182.08,331.25 L184.19,331.59 L186.31,331.92 L188.42,332.25 L190.54,332.56 L192.65,332.87 L194.77,333.17 L196.88,333.46 L199.00,333.74 L201.11,334.02 L203.23,334.29 L205.34,334.56 L207.46,334.81 L209.57,335.07 L211.69,335.31 L213.80,335.55 L215.92,335.79 L218.03,336.02 L220.15,336.24 L222.26,336.46 L224.38,336.68 L226.49,336.89 L228.61,337.09 L230.72,337.29 L232.84,337.49 L234.95,337.68 L237.07,337.87 L239.18,338.06 L241.30,338.24 L243.42,338.42 L245.53,338.59 L247.65,338.76 L249.76,338.93 L251.88,339.10 L253.99,339.26 L256.11,339.42 L258.22,339.57 L260.34,339.73 L262.45,339.88 L264.57,340.02 L266.68,340.17 L268.80,340.31 L270.91,340.45 L273.03,340.59 L275.14,340.72 L277.26,340.86 L279.37,340.99 L281.49,341.12 L283.60,341.24 L285.72,341.37 L287.83,341.49 L289.95,341.61 L292.06,341.73 L294.18,341.84 L296.29,341.96 L298.41,342.07" stroke="#348ABD" stroke-width="1.6" fill="none" stroke-linejoin="round" stroke-linecap="butt"/>
<path d="M44.59,106.17 L45.01,108.71 L45.44,111.21 L45.86,113.66 L46.28,116.08 L46.71,118.45 L47.13,120.78 L47.55,123.08 L47.98,125.34 L48.40,127.56 L48.82,129.74 L49.24,131.90 L49.67,134.02 L50.09,136.10 L50.51,138.16 L50.94,140.18 L51.36,142.17 L51.78,144.14 L52.21,146.07 L52.63,147.98 L53.05,149.86 L55.17,158.86 L57.28,167.27 L59.40,175.14 L61.51,182.53 L63.63,189.49 L65.74,196.04 L67.86,202.24 L69.97,208.10 L72.09,213.66 L74.20,218.93 L76.32,223.95 L78.43,228.73 L80.55,233.28 L82.66,237.63 L84.78,241.78 L86.89,245.75 L89.01,249.55 L91.12,253.19 L93.24,256.68 L95.35,260.03 L97.47,263.25 L99.58,266.34 L101.70,269.31 L103.82,272.16 L105.93,274.91 L108.05,277.55 L110.16,280.10 L112.28,282.55 L114.39,284.92 L116.51,287.20 L118.62,289.40 L120.74,291.52 L122.85,293.57 L124.97,295.54 L127.08,297.45 L129.20,299.29 L131.31,301.07 L133.43,302.78 L135.54,304.44 L137.66,306.04 L139.77,307.58 L141.89,309.07 L144.00,310.51 L146.12,311.90 L148.23,313.24 L150.35,314.53 L152.46,315.77 L154.58,316.97 L156.69,318.13 L158.81,319.25 L160.92,320.32 L163.04,321.36 L165.15,322.35 L167.27,323.31 L169.38,324.24 L171.50,325.12 L173.62,325.98 L175.73,326.79 L177.85,327.58 L179.96,328.34 L182.08,329.06 L184.19,329.76 L186.31,330.43 L188.42,331.07 L190.54,331.68 L192.65,332.27 L194.77,332.83 L196.88,333.37 L199.00,333.74 L201.11,334.02 L203.23,334.29 L205.34,334.56 L207.46,334.81 L209.57,335.07 L211.69,335.31 L213.80,335.55 L215.92,335.79 L218.03,336.02 L220.15,336.24 L222.26,336.46 L224.38,336.68 L226.49,336.89 L228.61,337.09 L230.72,337.29 L232.84,337.49 L234.95,337.68 L237.07,337.87 L239.18,338.06 L241.30,338.24 L243.42,338.42 L245.53,338.59 L247.65,338.76 L249.76,338.93 L251.88,339.10 L253.99,339.26 L256.11,339.42 L258.22,339.57 L260.34,339.73 L262.45,339.88 L264.57,340.02 L266.68,340.17 L268.80,340.31 L270.91,340.45 L273.03,340.59 L275.14,340.72 L277.26,340.86 L279.37,340.99 L281.49,341.12 L283.60,341.24 L285.72,341.37 L287.83,341.49 L289.95,341.61 L292.06,341.73 L294.18,341.84 L296.29,341.96 L298.41,342.07" stroke="#A60628" stroke-width="1.6" fill="none" stroke-linejoin="round" stroke-linecap="butt"/>
<path d="M44.59,106.17 L45.01,107.76 L45.44,109.34 L45.86,110.91 L46.28,112.46 L46.71,114.00 L47.13,115.52 L47.55,117.04 L47.98,118.54 L48.40,120.03 L48.82,121.50 L49.24,122.96 L49.67,124.41 L50.09,125.85 L50.51,127.28 L50.94,128.69 L51.36,130.09 L51.78,131.49 L52.21,132.87 L52.63,134.24 L53.05,135.59 L55.17,142.23 L57.28,148.61 L59.40,154.75 L61.51,160.66 L63.63,166.37 L65.74,171.88 L67.86,177.20 L69.97,182.34 L72.09,187.31 L74.20,192.12 L76.32,196.78 L78.43,201.29 L80.55,205.66 L82.66,209.90 L84.78,214.01 L86.89,218.00 L89.01,221.88 L91.12,225.64 L93.24,229.30 L95.35,232.85 L97.47,236.30 L99.58,239.66 L101.70,242.92 L103.82,246.10 L105.93,249.19 L108.05,252.19 L110.16,255.12 L112.28,257.97 L114.39,260.74 L116.51,263.44 L118.62,266.07 L120.74,268.62 L122.85,271.11 L124.97,273.54 L127.08,275.90 L129.20,278.20 L131.31,280.44 L133.43,282.62 L135.54,284.74 L137.66,286.80 L139.77,288.81 L141.89,290.77 L144.00,292.67 L146.12,294.52 L148.23,296.32 L150.35,298.07 L152.46,299.77 L154.58,301.42 L156.69,303.02 L158.81,304.58 L160.92,306.10 L163.04,307.57 L165.15,309.00 L167.27,310.38 L169.38,311.72 L171.50,313.02 L173.62,314.28 L175.73,315.51 L177.85,316.69 L179.96,317.83 L182.08,318.94 L184.19,320.01 L186.31,321.05 L188.42,322.05 L190.54,323.01 L192.65,323.94 L194.77,324.84 L196.88,325.71 L199.00,326.55 L201.11,327.35 L203.23,328.13 L205.34,328.87 L207.46,329.59 L209.57,330.28 L211.69,330.95 L213.80,331.59 L215.92,332.20 L218.03,332.79 L220.15,333.36 L222.26,333.90 L224.38,334.42 L226.49,334.92 L228.61,335.40 L230.72,335.86 L232.84,336.31 L234.95,336.73 L237.07,337.14 L239.18,337.52 L241.30,337.90 L243.42,338.25 L245.53,338.59 L247.65,338.76 L249.76,338.93 L251.88,339.10 L253.99,339.26 L256.11,339.42 L258.22,339.57 L260.34,339.73 L262.45,339.88 L264.57,340.02 L266.68,340.17 L268.80,340.31 L270.91,340.45 L273.03,340.59 L275.14,340.72 L277.26,340.86 L279.37,340.99 L281.49,341.12 L283.60,341.24 L285.72,341.37 L287.83,341.49 L289.95,341.61 L292.06,341.73 L294.18,341.84 L296.29,341.96 L298.41,342.07" stroke="#7A68A6" stroke-width="1.6" fill="none" stroke-linejoin="round" stroke-linecap="butt"/>
<path d="M44.59,106.17 L45.01,107.35 L45.44,108.53 L45.86,109.70 L46.28,110.87 L46.71,112.03 L47.13,113.19 L47.55,114.33 L47.98,115.48 L48.40,116.61 L48.82,117.74 L49.24,118.87 L49.67,119.99 L50.09,121.10 L50.51,122.20 L50.94,123.31 L51.36,124.40 L51.78,125.49 L52.21,126.58 L52.63,127.65 L53.05,128.73 L55.17,134.01 L57.28,139.17 L59.40,144.20 L61.51,149.11 L63.63,153.90 L65.74,158.58 L67.86,163.15 L69.97,167.62 L72.09,171.99 L74.20,176.27 L76.32,180.45 L78.43,184.54 L80.55,188.54 L82.66,192.46 L84.78,196.29 L86.89,200.05 L89.01,203.73 L91.12,207.33 L93.24,210.86 L95.35,214.32 L97.47,217.71 L99.58,221.04 L101.70,224.29 L103.82,227.49 L105.93,230.62 L108.05,233.69 L110.16,236.70 L112.28,239.65 L114.39,242.55 L116.51,245.39 L118.62,248.17 L120.74,250.90 L122.85,253.58 L124.97,256.20 L127.08,258.78 L129.20,261.30 L131.31,263.78 L133.43,266.21 L135.54,268.59 L137.66,270.92 L139.77,273.21 L141.89,275.45 L144.00,277.64 L146.12,279.79 L148.23,281.90 L150.35,283.96 L152.46,285.97 L154.58,287.95 L156.69,289.88 L158.81,291.77 L160.92,293.62 L163.04,295.42 L165.15,297.18 L167.27,298.90 L169.38,300.58 L171.50,302.22 L173.62,303.82 L175.73,305.38 L177.85,306.89 L179.96,308.37 L182.08,309.81 L184.19,311.20 L186.31,312.56 L188.42,313.88 L190.54,315.16 L192.65,316.40 L194.77,317.60 L196.88,318.77 L199.00,319.89 L201.11,320.98 L203.23,322.03 L205.34,323.05 L207.46,324.03 L209.57,324.98 L211.69,325.89 L213.80,326.77 L215.92,327.62 L218.03,328.43 L220.15,329.21 L222.26,329.96 L224.38,330.68 L226.49,331.38 L228.61,332.04 L230.72,332.68 L232.84,333.29 L234.95,333.87 L237.07,334.43 L239.18,334.96 L241.30,335.48 L243.42,335.97 L245.53,336.43 L247.65,336.88 L249.76,337.31 L251.88,337.72 L253.99,338.11 L256.11,338.49 L258.22,338.84 L260.34,339.18 L262.45,339.51 L264.57,339.82 L266.68,340.12 L268.80,340.31 L270.91,340.45 L273.03,340.59 L275.14,340.72 L277.26,340.86 L279.37,340.99 L281.49,341.12 L283.60,341.24 L285.72,341.37 L287.83,341.49 L289.95,341.61 L292.06,341.73 L294.18,341.84 L296.29,341.96 L298.41,342.07" stroke="#467821" stroke-width="1.6" fill="none" stroke-linejoin="round" stroke-linecap="butt"/>
<path d="M44.59,106.17 L45.01,107.13 L45.44,108.09 L45.86,109.05 L46.28,110.00 L46.71,110.95 L47.13,111.90 L47.55,112.85 L47.98,113.79 L48.40,114.72 L48.82,115.66 L49.24,116.59 L49.67,117.51 L50.09,118.44 L50.51,119.36 L50.94,120.28 L51.36,121.19 L51.78,122.10 L52.21,123.01 L52.63,123.91 L53.05,124.82 L55.17,129.28 L57.28,133.66 L59.40,137.97 L61.51,142.21 L63.63,146.38 L65.74,150.48 L67.86,154.51 L69.97,158.48 L72.09,162.38 L74.20,166.23 L76.32,170.01 L78.43,173.73 L80.55,177.40 L82.66,181.01 L84.78,184.56 L86.89,188.06 L89.01,191.51 L91.12,194.90 L93.24,198.25 L95.35,201.54 L97.47,204.79 L99.58,207.98 L101.70,211.14 L103.82,214.24 L105.93,217.30 L108.05,220.32 L110.16,223.29 L112.28,226.21 L114.39,229.10 L116.51,231.94 L118.62,234.75 L120.74,237.51 L122.85,240.23 L124.97,242.91 L127.08,245.55 L129.20,248.16 L131.31,250.72 L133.43,253.25 L135.54,255.74 L137.66,258.19 L139.77,260.61 L141.89,262.99 L144.00,265.33 L146.12,267.64 L148.23,269.91 L150.35,272.14 L152.46,274.34 L154.58,276.50 L156.69,278.63 L158.81,280.72 L160.92,282.77 L163.04,284.79 L165.15,286.77 L167.27,288.72 L169.38,290.63 L171.50,292.51 L173.62,294.35 L175.73,296.15 L177.85,297.92 L179.96,299.65 L182.08,301.34 L184.19,303.00 L186.31,304.61 L188.42,306.20 L190.54,307.74 L192.65,309.24 L194.77,310.71 L196.88,312.13 L199.00,313.52 L201.11,314.87 L203.23,316.18 L205.34,317.45 L207.46,318.69 L209.57,319.88 L211.69,321.03 L213.80,322.15 L215.92,323.22 L218.03,324.26 L220.15,325.26 L222.26,326.22 L224.38,327.15 L226.49,328.03 L228.61,328.89 L230.72,329.70 L232.84,330.49 L234.95,331.24 L237.07,331.95 L239.18,332.64 L241.30,333.29 L243.42,333.92 L245.53,334.52 L247.65,335.08 L249.76,335.63 L251.88,336.14 L253.99,336.64 L256.11,337.11 L258.22,337.55 L260.34,337.98 L262.45,338.38 L264.57,338.77 L266.68,339.14 L268.80,339.49 L270.91,339.82 L273.03,340.14 L275.14,340.44 L277.26,340.73 L279.37,340.99 L281.49,341.12 L283.60,341.24 L285.72,341.37 L287.83,341.49 L289.95,341.61 L292.06,341.73 L294.18,341.84 L296.29,341.96 L298.41,342.07" stroke="#D55E00" stroke-width="1.6" fill="none" stroke-linejoin="round" stroke-linecap="butt"/>
<path d="M44.59,106.17 L45.01,106.91 L45.44,107.65 L45.86,108.39 L46.28,109.12 L46.71,109.86 L47.13,110.59 L47.55,111.32 L47.98,112.06 L48.40,112.79 L48.82,113.52 L49.24,114.24 L49.67,114.97 L50.09,115.69 L50.51,116.42 L50.94,117.14 L51.36,117.86 L51.78,118.58 L52.21,119.30 L52.63,120.01 L53.05,120.73 L55.17,124.28 L57.28,127.81 L59.40,131.30 L61.51,134.75 L63.63,138.18 L65.74,141.58 L67.86,144.94 L69.97,148.28 L72.09,151.58 L74.20,154.86 L76.32,158.10 L78.43,161.32 L80.55,164.50 L82.66,167.66 L84.78,170.80 L86.89,173.90 L89.01,176.97 L91.12,180.02 L93.24,183.04 L95.35,186.04 L97.47,189.01 L99.58,191.95 L101.70,194.87 L103.82,197.76 L105.93,200.62 L108.05,203.46 L110.16,206.28 L112.28,209.07 L114.39,211.83 L116.51,214.57 L118.62,217.29 L120.74,219.98 L122.85,222.65 L124.97,225.29 L127.08,227.91 L129.20,230.51 L131.31,233.08 L133.43,235.63 L135.54,238.15 L137.66,240.65 L139.77,243.13 L141.89,245.58 L144.00,248.01 L146.12,250.42 L148.23,252.80 L150.35,255.16 L152.46,257.49 L154.58,259.81 L156.69,262.09 L158.81,264.36 L160.92,266.60 L163.04,268.81 L165.15,271.00 L167.27,273.17 L169.38,275.31 L171.50,277.42 L173.62,279.51 L175.73,281.58 L177.85,283.62 L179.96,285.63 L182.08,287.61 L184.19,289.57 L186.31,291.49 L188.42,293.39 L190.54,295.26 L192.65,297.10 L194.77,298.91 L196.88,300.69 L199.00,302.44 L201.11,304.15 L203.23,305.83 L205.34,307.47 L207.46,309.08 L209.57,310.66 L211.69,312.19 L213.80,313.69 L215.92,315.15 L218.03,316.57 L220.15,317.94 L222.26,319.28 L224.38,320.57 L226.49,321.82 L228.61,323.03 L230.72,324.19 L232.84,325.31 L234.95,326.38 L237.07,327.41 L239.18,328.40 L241.30,329.34 L243.42,330.24 L245.53,331.10 L247.65,331.91 L249.76,332.69 L251.88,333.43 L253.99,334.12 L256.11,334.79 L258.22,335.41 L260.34,336.01 L262.45,336.57 L264.57,337.10 L266.68,337.60 L268.80,338.07 L270.91,338.52 L273.03,338.94 L275.14,339.34 L277.26,339.72 L279.37,340.08 L281.49,340.41 L283.60,340.73 L285.72,341.04 L287.83,341.32 L289.95,341.59 L292.06,341.73 L294.18,341.84 L296.29,341.96 L298.41,342.07" stroke="#CC79A7" stroke-width="1.6" fill="none" stroke-linejoin="round" stroke-linecap="butt"/>
<path d="M44.59,106.17 L45.01,106.72 L45.44,107.27 L45.86,107.83 L46.28,108.38 L46.71,108.94 L47.13,109.49 L47.55,110.04 L47.98,110.59 L48.40,111.15 L48.82,111.70 L49.24,112.25 L49.67,112.80 L50.09,113.35 L50.51,113.90 L50.94,114.45 L51.36,115.00 L51.78,115.55 L52.21,116.10 L52.63,116.65 L53.05,117.20 L55.17,119.94 L57.28,122.67 L59.40,125.40 L61.51,128.11 L63.63,130.82 L65.74,133.53 L67.86,136.22 L69.97,138.91 L72.09,141.59 L74.20,144.26 L76.32,146.92 L78.43,149.58 L80.55,152.23 L82.66,154.87 L84.78,157.50 L86.89,160.12 L89.01,162.74 L91.12,165.35 L93.24,167.95 L95.35,170.54 L97.47,173.13 L99.58,175.70 L101.70,178.27 L103.82,180.83 L105.93,183.38 L108.05,185.92 L110.16,188.46 L112.28,190.98 L114.39,193.50 L116.51,196.01 L118.62,198.51 L120.74,201.00 L122.85,203.48 L124.97,205.95 L127.08,208.42 L129.20,210.87 L131.31,213.32 L133.43,215.76 L135.54,218.18 L137.66,220.60 L139.77,223.01 L141.89,225.41 L144.00,227.80 L146.12,230.18 L148.23,232.54 L150.35,234.90 L152.46,237.25 L154.58,239.59 L156.69,241.92 L158.81,244.23 L160.92,246.54 L163.04,248.83 L165.15,251.11 L167.27,253.38 L169.38,255.64 L171.50,257.89 L173.62,260.12 L175.73,262.35 L177.85,264.56 L179.96,266.75 L182.08,268.93 L184.19,271.10 L186.31,273.26 L188.42,275.40 L190.54,277.52 L192.65,279.63 L194.77,281.72 L196.88,283.80 L199.00,285.85 L201.11,287.89 L203.23,289.91 L205.34,291.92 L207.46,293.90 L209.57,295.86 L211.69,297.79 L213.80,299.70 L215.92,301.59 L218.03,303.45 L220.15,305.29 L222.26,307.09 L224.38,308.87 L226.49,310.61 L228.61,312.32 L230.72,313.99 L232.84,315.62 L234.95,317.22 L237.07,318.77 L239.18,320.27 L241.30,321.73 L243.42,323.14 L245.53,324.49 L247.65,325.80 L249.76,327.05 L251.88,328.24 L253.99,329.37 L256.11,330.45 L258.22,331.47 L260.34,332.44 L262.45,333.34 L264.57,334.19 L266.68,334.99 L268.80,335.74 L270.91,336.43 L273.03,337.08 L275.14,337.69 L277.26,338.25 L279.37,338.77 L281.49,339.26 L283.60,339.71 L285.72,340.14 L287.83,340.53 L289.95,340.90 L292.06,341.24 L294.18,341.56 L296.29,341.86 L298.41,342.07" stroke="#56B4E9" stroke-width="1.6" fill="none" stroke-linejoin="round" stroke-linecap="butt"/>
<path d="M44.59,104.23 L45.87,105.62 L47.14,107.01 L48.42,108.39 L49.69,109.76 L50.97,111.13 L52.24,112.49 L53.52,113.84 L54.79,115.18 L56.07,116.52 L57.35,117.85 L58.62,119.17 L59.90,120.49 L61.17,121.79 L62.45,123.10 L63.72,124.39 L65.00,125.68 L66.27,126.96 L67.55,128.23 L68.82,129.50 L70.10,130.76 L71.38,132.02 L72.65,133.26 L73.93,134.51 L75.20,135.74 L76.48,136.97 L77.75,138.19 L79.03,139.41 L80.30,140.62 L81.58,141.82 L82.85,143.02 L84.13,144.21 L85.41,145.40 L86.68,146.58 L87.96,147.75 L89.23,148.92 L90.51,150.08 L91.78,151.24 L93.06,152.39 L94.33,153.54 L95.61,154.68 L96.89,155.81 L98.16,156.94 L99.44,158.06 L100.71,159.18 L101.99,160.29 L103.26,161.40 L104.54,162.50 L105.81,163.59 L107.09,164.68 L108.36,165.77 L109.64,166.85 L110.92,167.92 L112.19,168.99 L113.47,170.06 L114.74,171.12 L116.02,172.17 L117.29,173.22 L118.57,174.26 L119.84,175.30 L121.12,176.34 L122.39,177.37 L123.67,178.39 L124.95,179.41 L126.22,180.43 L127.50,181.44 L128.77,182.44 L130.05,183.44 L131.32,184.44 L132.60,185.43 L133.87,186.42 L135.15,187.40 L136.42,188.38 L137.70,189.36 L138.98,190.33 L140.25,191.29 L141.53,192.25 L142.80,193.21 L144.08,194.16 L145.35,195.11 L146.63,196.05 L147.90,196.99 L149.18,197.93 L150.45,198.86 L151.73,199.78 L153.01,200.71 L154.28,201.62 L155.56,202.54 L156.83,203.45 L158.11,204.36 L159.38,205.26 L160.66,206.16 L161.93,207.05 L163.21,207.94 L164.48,208.83 L165.76,209.71 L167.04,210.59 L168.31,211.47 L169.59,212.34 L170.86,213.20 L172.14,214.07 L173.41,214.93 L174.69,215.79 L175.96,216.64 L177.24,217.49 L178.52,218.33 L179.79,219.18 L181.07,220.01 L182.34,220.85 L183.62,221.68 L184.89,222.51 L186.17,223.33 L187.44,224.15 L188.72,224.97 L189.99,225.79 L191.27,226.60 L192.55,227.40 L193.82,228.21 L195.10,229.01 L196.37,229.81 L197.65,230.60 L198.92,231.39 L200.20,232.18 L201.47,232.96 L202.75,233.74 L204.02,234.52 L205.30,235.30 L206.58,236.07 L207.85,236.84 L209.13,237.60 L210.40,238.36 L211.68,239.12 L212.95,239.88 L214.23,240.63 L215.50,241.38 L216.78,242.13 L218.05,242.87 L219.33,243.62 L220.61,244.35 L221.88,245.09 L223.16,245.82 L224.43,246.55 L225.71,247.28 L226.98,248.00 L228.26,248.72 L229.53,249.44 L230.81,250.16 L232.08,250.87 L233.36,251.58 L234.64,252.28 L235.91,252.99 L237.19,253.69 L238.46,254.39 L239.74,255.08 L241.01,255.78 L242.29,256.47 L243.56,257.16 L244.84,257.84 L246.11,258.52 L247.39,259.20 L248.67,259.88 L249.94,260.56 L251.22,261.23 L252.49,261.90 L253.77,262.57 L255.04,263.23 L256.32,263.89 L257.59,264.55 L258.87,265.21 L260.15,265.87 L261.42,266.52 L262.70,267.17 L263.97,267.82 L265.25,268.46 L266.52,269.10 L267.80,269.74 L269.07,270.38 L270.35,271.02 L271.62,271.65 L272.90,272.28 L274.18,272.91 L275.45,273.54 L276.73,274.16 L278.00,274.78 L279.28,275.40 L280.55,276.02 L281.83,276.64 L283.10,277.25 L284.38,277.86 L285.65,278.47 L286.93,279.07 L288.21,279.68 L289.48,280.28 L290.76,280.88 L292.03,281.48 L293.31,282.07 L294.58,282.66 L295.86,283.26 L297.13,283.85 L298.41,284.43" stroke="#ff0000" stroke-width="1.6" fill="none" stroke-linejoin="round" stroke-linecap="butt" stroke-dasharray="5.1 2.2"/>
<path d="M44.59,106.94 L45.87,126.08 L47.14,142.49 L48.42,156.72 L49.69,169.17 L50.97,180.16 L52.24,189.93 L53.52,198.67 L54.79,206.54 L56.07,213.67 L57.35,220.14 L58.62,226.05 L59.90,231.47 L61.17,236.46 L62.45,241.06 L63.72,245.33 L65.00,249.29 L66.27,252.97 L67.55,256.41 L68.82,259.63 L70.10,262.65 L71.38,265.48 L72.65,268.15 L73.93,270.67 L75.20,273.04 L76.48,275.29 L77.75,277.42 L79.03,279.44 L80.30,281.36 L81.58,283.19 L82.85,284.93 L84.13,286.59 L85.41,288.17 L86.68,289.68 L87.96,291.13 L89.23,292.51 L90.51,293.84 L91.78,295.12 L93.06,296.34 L94.33,297.51 L95.61,298.64 L96.89,299.73 L98.16,300.78 L99.44,301.78 L100.71,302.76 L101.99,303.70 L103.26,304.60 L104.54,305.48 L105.81,306.32 L107.09,307.14 L108.36,307.93 L109.64,308.70 L110.92,309.44 L112.19,310.16 L113.47,310.86 L114.74,311.54 L116.02,312.20 L117.29,312.84 L118.57,313.46 L119.84,314.06 L121.12,314.65 L122.39,315.22 L123.67,315.77 L124.95,316.31 L126.22,316.84 L127.50,317.35 L128.77,317.85 L130.05,318.33 L131.32,318.81 L132.60,319.27 L133.87,319.72 L135.15,320.16 L136.42,320.59 L137.70,321.01 L138.98,321.42 L140.25,321.82 L141.53,322.21 L142.80,322.60 L144.08,322.97 L145.35,323.34 L146.63,323.69 L147.90,324.04 L149.18,324.39 L150.45,324.72 L151.73,325.05 L153.01,325.37 L154.28,325.69 L155.56,326.00 L156.83,326.30 L158.11,326.60 L159.38,326.89 L160.66,327.17 L161.93,327.45 L163.21,327.73 L164.48,328.00 L165.76,328.26 L167.04,328.52 L168.31,328.78 L169.59,329.03 L170.86,329.27 L172.14,329.51 L173.41,329.75 L174.69,329.98 L175.96,330.21 L177.24,330.43 L178.52,330.66 L179.79,330.87 L181.07,331.09 L182.34,331.30 L183.62,331.50 L184.89,331.71 L186.17,331.91 L187.44,332.10 L188.72,332.30 L189.99,332.49 L191.27,332.67 L192.55,332.86 L193.82,333.04 L195.10,333.22 L196.37,333.39 L197.65,333.57 L198.92,333.74 L200.20,333.91 L201.47,334.07 L202.75,334.23 L204.02,334.40 L205.30,334.55 L206.58,334.71 L207.85,334.86 L209.13,335.02 L210.40,335.17 L211.68,335.31 L212.95,335.46 L214.23,335.60 L215.50,335.74 L216.78,335.88 L218.05,336.02 L219.33,336.16 L220.61,336.29 L221.88,336.42 L223.16,336.55 L224.43,336.68 L225.71,336.81 L226.98,336.94 L228.26,337.06 L229.53,337.18 L230.81,337.30 L232.08,337.42 L233.36,337.54 L234.64,337.66 L235.91,337.77 L237.19,337.89 L238.46,338.00 L239.74,338.11 L241.01,338.22 L242.29,338.33 L243.56,338.43 L244.84,338.54 L246.11,338.64 L247.39,338.75 L248.67,338.85 L249.94,338.95 L251.22,339.05 L252.49,339.15 L253.77,339.24 L255.04,339.34 L256.32,339.44 L257.59,339.53 L258.87,339.62 L260.15,339.71 L261.42,339.81 L262.70,339.90 L263.97,339.98 L265.25,340.07 L266.52,340.16 L267.80,340.25 L269.07,340.33 L270.35,340.42 L271.62,340.50 L272.90,340.58 L274.18,340.66 L275.45,340.74 L276.73,340.82 L278.00,340.90 L279.28,340.98 L280.55,341.06 L281.83,341.14 L283.10,341.21 L284.38,341.29 L285.65,341.36 L286.93,341.44 L288.21,341.51 L289.48,341.58 L290.76,341.65 L292.03,341.72 L293.31,341.80 L294.58,341.86 L295.86,341.93 L297.13,342.00 L298.41,342.07" stroke="#000000" stroke-width="1.6" fill="none" stroke-linejoin="round" stroke-linecap="butt" stroke-dasharray="5.1 2.2"/>
<path d="M42.99 103.72a1.6 1.6 0 1 0 3.2 0a1.6 1.6 0 1 0 -3.2 0M45.55 105.20a1.6 1.6 0 1 0 3.2 0a1.6 1.6 0 1 0 -3.2 0M48.12 106.68a1.6 1.6 0 1 0 3.2 0a1.6 1.6 0 1 0 -3.2 0M50.68 108.15a1.6 1.6 0 1 0 3.2 0a1.6 1.6 0 1 0 -3.2 0M53.25 109.63a1.6 1.6 0 1 0 3.2 0a1.6 1.6 0 1 0 -3.2 0M55.81 111.11a1.6 1.6 0 1 0 3.2 0a1.6 1.6 0 1 0 -3.2 0M58.37 112.58a1.6 1.6 0 1 0 3.2 0a1.6 1.6 0 1 0 -3.2 0M60.94 114.06a1.6 1.6 0 1 0 3.2 0a1.6 1.6 0 1 0 -3.2 0M63.50 115.54a1.6 1.6 0 1 0 3.2 0a1.6 1.6 0 1 0 -3.2 0M66.07 117.01a1.6 1.6 0 1 0 3.2 0a1.6 1.6 0 1 0 -3.2 0M68.63 118.49a1.6 1.6 0 1 0 3.2 0a1.6 1.6 0 1 0 -3.2 0M71.19 119.97a1.6 1.6 0 1 0 3.2 0a1.6 1.6 0 1 0 -3.2 0M73.76 121.44a1.6 1.6 0 1 0 3.2 0a1.6 1.6 0 1 0 -3.2 0M76.32 122.92a1.6 1.6 0 1 0 3.2 0a1.6 1.6 0 1 0 -3.2 0M78.88 124.40a1.6 1.6 0 1 0 3.2 0a1.6 1.6 0 1 0 -3.2 0M81.45 125.87a1.6 1.6 0 1 0 3.2 0a1.6 1.6 0 1 0 -3.2 0M84.01 127.35a1.6 1.6 0 1 0 3.2 0a1.6 1.6 0 1 0 -3.2 0M86.58 128.83a1.6 1.6 0 1 0 3.2 0a1.6 1.6 0 1 0 -3.2 0M89.14 130.30a1.6 1.6 0 1 0 3.2 0a1.6 1.6 0 1 0 -3.2 0M91.70 131.78a1.6 1.6 0 1 0 3.2 0a1.6 1.6 0 1 0 -3.2 0M94.27 133.25a1.6 1.6 0 1 0 3.2 0a1.6 1.6 0 1 0 -3.2 0M96.83 134.73a1.6 1.6 0 1 0 3.2 0a1.6 1.6 0 1 0 -3.2 0M99.39 136.21a1.6 1.6 0 1 0 3.2 0a1.6 1.6 0 1 0 -3.2 0M101.96 137.68a1.6 1.6 0 1 0 3.2 0a1.6 1.6 0 1 0 -3.2 0M104.52 139.16a1.6 1.6 0 1 0 3.2 0a1.6 1.6 0 1 0 -3.2 0M107.09 140.64a1.6 1.6 0 1 0 3.2 0a1.6 1.6 0 1 0 -3.2 0M109.65 142.11a1.6 1.6 0 1 0 3.2 0a1.6 1.6 0 1 0 -3.2 0M112.21 143.59a1.6 1.6 0 1 0 3.2 0a1.6 1.6 0 1 0 -3.2 0M114.78 145.07a1.6 1.6 0 1 0 3.2 0a1.6 1.6 0 1 0 -3.2 0M117.34 146.54a1.6 1.6 0 1 0 3.2 0a1.6 1.6 0 1 0 -3.2 0M119.91 148.02a1.6 1.6 0 1 0 3.2 0a1.6 1.6 0 1 0 -3.2 0M122.47 149.50a1.6 1.6 0 1 0 3.2 0a1.6 1.6 0 1 0 -3.2 0M125.03 150.97a1.6 1.6 0 1 0 3.2 0a1.6 1.6 0 1 0 -3.2 0M127.60 152.45a1.6 1.6 0 1 0 3.2 0a1.6 1.6 0 1 0 -3.2 0M130.16 153.93a1.6 1.6 0 1 0 3.2 0a1.6 1.6 0 1 0 -3.2 0M132.72 155.40a1.6 1.6 0 1 0 3.2 0a1.6 1.6 0 1 0 -3.2 0M135.29 156.88a1.6 1.6 0 1 0 3.2 0a1.6 1.6 0 1 0 -3.2 0M137.85 158.36a1.6 1.6 0 1 0 3.2 0a1.6 1.6 0 1 0 -3.2 0M140.42 159.83a1.6 1.6 0 1 0 3.2 0a1.6 1.6 0 1 0 -3.2 0M142.98 161.31a1.6 1.6 0 1 0 3.2 0a1.6 1.6 0 1 0 -3.2 0M145.54 162.79a1.6 1.6 0 1 0 3.2 0a1.6 1.6 0 1 0 -3.2 0M148.11 164.26a1.6 1.6 0 1 0 3.2 0a1.6 1.6 0 1 0 -3.2 0M150.67 165.74a1.6 1.6 0 1 0 3.2 0a1.6 1.6 0 1 0 -3.2 0M153.24 167.22a1.6 1.6 0 1 0 3.2 0a1.6 1.6 0 1 0 -3.2 0M155.80 168.69a1.6 1.6 0 1 0 3.2 0a1.6 1.6 0 1 0 -3.2 0M158.36 170.17a1.6 1.6 0 1 0 3.2 0a1.6 1.6 0 1 0 -3.2 0M160.93 171.65a1.6 1.6 0 1 0 3.2 0a1.6 1.6 0 1 0 -3.2 0M163.49 173.12a1.6 1.6 0 1 0 3.2 0a1.6 1.6 0 1 0 -3.2 0M166.05 174.60a1.6 1.6 0 1 0 3.2 0a1.6 1.6 0 1 0 -3.2 0M168.62 176.08a1.6 1.6 0 1 0 3.2 0a1.6 1.6 0 1 0 -3.2 0M171.18 177.55a1.6 1.6 0 1 0 3.2 0a1.6 1.6 0 1 0 -3.2 0M173.75 179.03a1.6 1.6 0 1 0 3.2 0a1.6 1.6 0 1 0 -3.2 0M176.31 180.51a1.6 1.6 0 1 0 3.2 0a1.6 1.6 0 1 0 -3.2 0M178.87 181.98a1.6 1.6 0 1 0 3.2 0a1.6 1.6 0 1 0 -3.2 0M181.44 183.46a1.6 1.6 0 1 0 3.2 0a1.6 1.6 0 1 0 -3.2 0M184.00 184.94a1.6 1.6 0 1 0 3.2 0a1.6 1.6 0 1 0 -3.2 0M186.56 186.41a1.6 1.6 0 1 0 3.2 0a1.6 1.6 0 1 0 -3.2 0M189.13 187.89a1.6 1.6 0 1 0 3.2 0a1.6 1.6 0 1 0 -3.2 0M191.69 189.37a1.6 1.6 0 1 0 3.2 0a1.6 1.6 0 1 0 -3.2 0M194.26 190.84a1.6 1.6 0 1 0 3.2 0a1.6 1.6 0 1 0 -3.2 0M196.82 192.32a1.6 1.6 0 1 0 3.2 0a1.6 1.6 0 1 0 -3.2 0M199.38 193.80a1.6 1.6 0 1 0 3.2 0a1.6 1.6 0 1 0 -3.2 0M201.95 195.27a1.6 1.6 0 1 0 3.2 0a1.6 1.6 0 1 0 -3.2 0M204.51 196.75a1.6 1.6 0 1 0 3.2 0a1.6 1.6 0 1 0 -3.2 0M207.08 198.22a1.6 1.6 0 1 0 3.2 0a1.6 1.6 0 1 0 -3.2 0M209.64 199.70a1.6 1.6 0 1 0 3.2 0a1.6 1.6 0 1 0 -3.2 0M212.20 201.18a1.6 1.6 0 1 0 3.2 0a1.6 1.6 0 1 0 -3.2 0M214.77 202.65a1.6 1.6 0 1 0 3.2 0a1.6 1.6 0 1 0 -3.2 0M217.33 204.13a1.6 1.6 0 1 0 3.2 0a1.6 1.6 0 1 0 -3.2 0M219.89 205.61a1.6 1.6 0 1 0 3.2 0a1.6 1.6 0 1 0 -3.2 0M222.46 207.08a1.6 1.6 0 1 0 3.2 0a1.6 1.6 0 1 0 -3.2 0M225.02 208.56a1.6 1.6 0 1 0 3.2 0a1.6 1.6 0 1 0 -3.2 0M227.59 210.04a1.6 1.6 0 1 0 3.2 0a1.6 1.6 0 1 0 -3.2 0M230.15 211.51a1.6 1.6 0 1 0 3.2 0a1.6 1.6 0 1 0 -3.2 0M232.71 212.99a1.6 1.6 0 1 0 3.2 0a1.6 1.6 0 1 0 -3.2 0M235.28 214.47a1.6 1.6 0 1 0 3.2 0a1.6 1.6 0 1 0 -3.2 0M237.84 215.94a1.6 1.6 0 1 0 3.2 0a1.6 1.6 0 1 0 -3.2 0M240.41 217.42a1.6 1.6 0 1 0 3.2 0a1.6 1.6 0 1 0 -3.2 0M242.97 218.90a1.6 1.6 0 1 0 3.2 0a1.6 1.6 0 1 0 -3.2 0M245.53 220.37a1.6 1.6 0 1 0 3.2 0a1.6 1.6 0 1 0 -3.2 0M248.10 221.85a1.6 1.6 0 1 0 3.2 0a1.6 1.6 0 1 0 -3.2 0M250.66 223.33a1.6 1.6 0 1 0 3.2 0a1.6 1.6 0 1 0 -3.2 0M253.22 224.80a1.6 1.6 0 1 0 3.2 0a1.6 1.6 0 1 0 -3.2 0M255.79 226.28a1.6 1.6 0 1 0 3.2 0a1.6 1.6 0 1 0 -3.2 0M258.35 227.76a1.6 1.6 0 1 0 3.2 0a1.6 1.6 0 1 0 -3.2 0M260.92 229.23a1.6 1.6 0 1 0 3.2 0a1.6 1.6 0 1 0 -3.2 0M263.48 230.71a1.6 1.6 0 1 0 3.2 0a1.6 1.6 0 1 0 -3.2 0M266.04 232.19a1.6 1.6 0 1 0 3.2 0a1.6 1.6 0 1 0 -3.2 0M268.61 233.66a1.6 1.6 0 1 0 3.2 0a1.6 1.6 0 1 0 -3.2 0M271.17 235.14a1.6 1.6 0 1 0 3.2 0a1.6 1.6 0 1 0 -3.2 0M273.73 236.62a1.6 1.6 0 1 0 3.2 0a1.6 1.6 0 1 0 -3.2 0M276.30 238.09a1.6 1.6 0 1 0 3.2 0a1.6 1.6 0 1 0 -3.2 0M278.86 239.57a1.6 1.6 0 1 0 3.2 0a1.6 1.6 0 1 0 -3.2 0M281.43 241.05a1.6 1.6 0 1 0 3.2 0a1.6 1.6 0 1 0 -3.2 0M283.99 242.52a1.6 1.6 0 1 0 3.2 0a1.6 1.6 0 1 0 -3.2 0M286.55 244.00a1.6 1.6 0 1 0 3.2 0a1.6 1.6 0 1 0 -3.2 0M289.12 245.48a1.6 1.6 0 1 0 3.2 0a1.6 1.6 0 1 0 -3.2 0M291.68 246.95a1.6 1.6 0 1 0 3.2 0a1.6 1.6 0 1 0 -3.2 0M294.25 248.43a1.6 1.6 0 1 0 3.2 0a1.6 1.6 0 1 0 -3.2 0M296.81 249.91a1.6 1.6 0 1 0 3.2 0a1.6 1.6 0 1 0 -3.2 0" fill="#0000ff"/>
<path d="M42.99 106.94a1.6 1.6 0 1 0 3.2 0a1.6 1.6 0 1 0 -3.2 0M45.55 142.65a1.6 1.6 0 1 0 3.2 0a1.6 1.6 0 1 0 -3.2 0M48.12 169.41a1.6 1.6 0 1 0 3.2 0a1.6 1.6 0 1 0 -3.2 0M50.68 190.21a1.6 1.6 0 1 0 3.2 0a1.6 1.6 0 1 0 -3.2 0M53.25 206.85a1.6 1.6 0 1 0 3.2 0a1.6 1.6 0 1 0 -3.2 0M55.81 220.45a1.6 1.6 0 1 0 3.2 0a1.6 1.6 0 1 0 -3.2 0M58.37 231.79a1.6 1.6 0 1 0 3.2 0a1.6 1.6 0 1 0 -3.2 0M60.94 241.38a1.6 1.6 0 1 0 3.2 0a1.6 1.6 0 1 0 -3.2 0M63.50 249.59a1.6 1.6 0 1 0 3.2 0a1.6 1.6 0 1 0 -3.2 0M66.07 256.71a1.6 1.6 0 1 0 3.2 0a1.6 1.6 0 1 0 -3.2 0M68.63 262.94a1.6 1.6 0 1 0 3.2 0a1.6 1.6 0 1 0 -3.2 0M71.19 268.44a1.6 1.6 0 1 0 3.2 0a1.6 1.6 0 1 0 -3.2 0M73.76 273.32a1.6 1.6 0 1 0 3.2 0a1.6 1.6 0 1 0 -3.2 0M76.32 277.69a1.6 1.6 0 1 0 3.2 0a1.6 1.6 0 1 0 -3.2 0M78.88 281.63a1.6 1.6 0 1 0 3.2 0a1.6 1.6 0 1 0 -3.2 0M81.45 285.18a1.6 1.6 0 1 0 3.2 0a1.6 1.6 0 1 0 -3.2 0M84.01 288.42a1.6 1.6 0 1 0 3.2 0a1.6 1.6 0 1 0 -3.2 0M86.58 291.37a1.6 1.6 0 1 0 3.2 0a1.6 1.6 0 1 0 -3.2 0M89.14 294.08a1.6 1.6 0 1 0 3.2 0a1.6 1.6 0 1 0 -3.2 0M91.70 296.57a1.6 1.6 0 1 0 3.2 0a1.6 1.6 0 1 0 -3.2 0M94.27 298.87a1.6 1.6 0 1 0 3.2 0a1.6 1.6 0 1 0 -3.2 0M96.83 300.99a1.6 1.6 0 1 0 3.2 0a1.6 1.6 0 1 0 -3.2 0M99.39 302.97a1.6 1.6 0 1 0 3.2 0a1.6 1.6 0 1 0 -3.2 0M101.96 304.81a1.6 1.6 0 1 0 3.2 0a1.6 1.6 0 1 0 -3.2 0M104.52 306.52a1.6 1.6 0 1 0 3.2 0a1.6 1.6 0 1 0 -3.2 0M107.09 308.13a1.6 1.6 0 1 0 3.2 0a1.6 1.6 0 1 0 -3.2 0M109.65 309.64a1.6 1.6 0 1 0 3.2 0a1.6 1.6 0 1 0 -3.2 0M112.21 311.05a1.6 1.6 0 1 0 3.2 0a1.6 1.6 0 1 0 -3.2 0M114.78 312.38a1.6 1.6 0 1 0 3.2 0a1.6 1.6 0 1 0 -3.2 0M117.34 313.64a1.6 1.6 0 1 0 3.2 0a1.6 1.6 0 1 0 -3.2 0M119.91 314.82a1.6 1.6 0 1 0 3.2 0a1.6 1.6 0 1 0 -3.2 0M122.47 315.94a1.6 1.6 0 1 0 3.2 0a1.6 1.6 0 1 0 -3.2 0M125.03 317.00a1.6 1.6 0 1 0 3.2 0a1.6 1.6 0 1 0 -3.2 0M127.60 318.01a1.6 1.6 0 1 0 3.2 0a1.6 1.6 0 1 0 -3.2 0M130.16 318.97a1.6 1.6 0 1 0 3.2 0a1.6 1.6 0 1 0 -3.2 0M132.72 319.88a1.6 1.6 0 1 0 3.2 0a1.6 1.6 0 1 0 -3.2 0M135.29 320.75a1.6 1.6 0 1 0 3.2 0a1.6 1.6 0 1 0 -3.2 0M137.85 321.57a1.6 1.6 0 1 0 3.2 0a1.6 1.6 0 1 0 -3.2 0M140.42 322.36a1.6 1.6 0 1 0 3.2 0a1.6 1.6 0 1 0 -3.2 0M142.98 323.12a1.6 1.6 0 1 0 3.2 0a1.6 1.6 0 1 0 -3.2 0M145.54 323.84a1.6 1.6 0 1 0 3.2 0a1.6 1.6 0 1 0 -3.2 0M148.11 324.53a1.6 1.6 0 1 0 3.2 0a1.6 1.6 0 1 0 -3.2 0M150.67 325.19a1.6 1.6 0 1 0 3.2 0a1.6 1.6 0 1 0 -3.2 0M153.24 325.82a1.6 1.6 0 1 0 3.2 0a1.6 1.6 0 1 0 -3.2 0M155.80 326.43a1.6 1.6 0 1 0 3.2 0a1.6 1.6 0 1 0 -3.2 0M158.36 327.02a1.6 1.6 0 1 0 3.2 0a1.6 1.6 0 1 0 -3.2 0M160.93 327.58a1.6 1.6 0 1 0 3.2 0a1.6 1.6 0 1 0 -3.2 0M163.49 328.12a1.6 1.6 0 1 0 3.2 0a1.6 1.6 0 1 0 -3.2 0M166.05 328.64a1.6 1.6 0 1 0 3.2 0a1.6 1.6 0 1 0 -3.2 0M168.62 329.15a1.6 1.6 0 1 0 3.2 0a1.6 1.6 0 1 0 -3.2 0M171.18 329.63a1.6 1.6 0 1 0 3.2 0a1.6 1.6 0 1 0 -3.2 0M173.75 330.10a1.6 1.6 0 1 0 3.2 0a1.6 1.6 0 1 0 -3.2 0M176.31 330.55a1.6 1.6 0 1 0 3.2 0a1.6 1.6 0 1 0 -3.2 0M178.87 330.99a1.6 1.6 0 1 0 3.2 0a1.6 1.6 0 1 0 -3.2 0M181.44 331.41a1.6 1.6 0 1 0 3.2 0a1.6 1.6 0 1 0 -3.2 0M184.00 331.82a1.6 1.6 0 1 0 3.2 0a1.6 1.6 0 1 0 -3.2 0M186.56 332.21a1.6 1.6 0 1 0 3.2 0a1.6 1.6 0 1 0 -3.2 0M189.13 332.59a1.6 1.6 0 1 0 3.2 0a1.6 1.6 0 1 0 -3.2 0M191.69 332.96a1.6 1.6 0 1 0 3.2 0a1.6 1.6 0 1 0 -3.2 0M194.26 333.32a1.6 1.6 0 1 0 3.2 0a1.6 1.6 0 1 0 -3.2 0M196.82 333.67a1.6 1.6 0 1 0 3.2 0a1.6 1.6 0 1 0 -3.2 0M199.38 334.01a1.6 1.6 0 1 0 3.2 0a1.6 1.6 0 1 0 -3.2 0M201.95 334.34a1.6 1.6 0 1 0 3.2 0a1.6 1.6 0 1 0 -3.2 0M204.51 334.65a1.6 1.6 0 1 0 3.2 0a1.6 1.6 0 1 0 -3.2 0M207.08 334.96a1.6 1.6 0 1 0 3.2 0a1.6 1.6 0 1 0 -3.2 0M209.64 335.26a1.6 1.6 0 1 0 3.2 0a1.6 1.6 0 1 0 -3.2 0M212.20 335.56a1.6 1.6 0 1 0 3.2 0a1.6 1.6 0 1 0 -3.2 0M214.77 335.84a1.6 1.6 0 1 0 3.2 0a1.6 1.6 0 1 0 -3.2 0M217.33 336.12a1.6 1.6 0 1 0 3.2 0a1.6 1.6 0 1 0 -3.2 0M219.89 336.38a1.6 1.6 0 1 0 3.2 0a1.6 1.6 0 1 0 -3.2 0M222.46 336.65a1.6 1.6 0 1 0 3.2 0a1.6 1.6 0 1 0 -3.2 0M225.02 336.90a1.6 1.6 0 1 0 3.2 0a1.6 1.6 0 1 0 -3.2 0M227.59 337.15a1.6 1.6 0 1 0 3.2 0a1.6 1.6 0 1 0 -3.2 0M230.15 337.39a1.6 1.6 0 1 0 3.2 0a1.6 1.6 0 1 0 -3.2 0M232.71 337.63a1.6 1.6 0 1 0 3.2 0a1.6 1.6 0 1 0 -3.2 0M235.28 337.86a1.6 1.6 0 1 0 3.2 0a1.6 1.6 0 1 0 -3.2 0M237.84 338.08a1.6 1.6 0 1 0 3.2 0a1.6 1.6 0 1 0 -3.2 0M240.41 338.30a1.6 1.6 0 1 0 3.2 0a1.6 1.6 0 1 0 -3.2 0M242.97 338.52a1.6 1.6 0 1 0 3.2 0a1.6 1.6 0 1 0 -3.2 0M245.53 338.73a1.6 1.6 0 1 0 3.2 0a1.6 1.6 0 1 0 -3.2 0M248.10 338.93a1.6 1.6 0 1 0 3.2 0a1.6 1.6 0 1 0 -3.2 0M250.66 339.13a1.6 1.6 0 1 0 3.2 0a1.6 1.6 0 1 0 -3.2 0M253.22 339.32a1.6 1.6 0 1 0 3.2 0a1.6 1.6 0 1 0 -3.2 0M255.79 339.51a1.6 1.6 0 1 0 3.2 0a1.6 1.6 0 1 0 -3.2 0M258.35 339.70a1.6 1.6 0 1 0 3.2 0a1.6 1.6 0 1 0 -3.2 0M260.92 339.88a1.6 1.6 0 1 0 3.2 0a1.6 1.6 0 1 0 -3.2 0M263.48 340.06a1.6 1.6 0 1 0 3.2 0a1.6 1.6 0 1 0 -3.2 0M266.04 340.24a1.6 1.6 0 1 0 3.2 0a1.6 1.6 0 1 0 -3.2 0M268.61 340.41a1.6 1.6 0 1 0 3.2 0a1.6 1.6 0 1 0 -3.2 0M271.17 340.57a1.6 1.6 0 1 0 3.2 0a1.6 1.6 0 1 0 -3.2 0M273.73 340.74a1.6 1.6 0 1 0 3.2 0a1.6 1.6 0 1 0 -3.2 0M276.30 340.90a1.6 1.6 0 1 0 3.2 0a1.6 1.6 0 1 0 -3.2 0M278.86 341.05a1.6 1.6 0 1 0 3.2 0a1.6 1.6 0 1 0 -3.2 0M281.43 341.21a1.6 1.6 0 1 0 3.2 0a1.6 1.6 0 1 0 -3.2 0M283.99 341.36a1.6 1.6 0 1 0 3.2 0a1.6 1.6 0 1 0 -3.2 0M286.55 341.51a1.6 1.6 0 1 0 3.2 0a1.6 1.6 0 1 0 -3.2 0M289.12 341.65a1.6 1.6 0 1 0 3.2 0a1.6 1.6 0 1 0 -3.2 0M291.68 341.79a1.6 1.6 0 1 0 3.2 0a1.6 1.6 0 1 0 -3.2 0M294.25 341.93a1.6 1.6 0 1 0 3.2 0a1.6 1.6 0 1 0 -3.2 0M296.81 342.07a1.6 1.6 0 1 0 3.2 0a1.6 1.6 0 1 0 -3.2 0" fill="#bf00bf"/>
</g>
<rect x="31.9" y="92.4" width="279.20" height="260.70" fill="none" stroke="#bcbcbc" stroke-width="1"/>
<path d="M44.59 353.1v-3M86.89 353.1v-3M129.20 353.1v-3M171.50 353.1v-3M213.80 353.1v-3M256.11 353.1v-3M298.41 353.1v-3M31.9 317.50h3M31.9 278.73h3M31.9 239.95h3M31.9 201.17h3M31.9 162.39h3M31.9 123.62h3" stroke="#222" stroke-width="0.7" fill="none"/>
<text x="44.59" y="364.20" font-size="10.6" font-family='"Liberation Sans", sans-serif' text-anchor="middle" fill="#000" textLength="16.54" lengthAdjust="spacingAndGlyphs" class="s">0.0</text>
<text x="86.89" y="364.20" font-size="10.6" font-family='"Liberation Sans", sans-serif' text-anchor="middle" fill="#000" textLength="16.54" lengthAdjust="spacingAndGlyphs" class="s">0.1</text>
<text x="129.20" y="364.20" font-size="10.6" font-family='"Liberation Sans", sans-serif' text-anchor="middle" fill="#000" textLength="16.54" lengthAdjust="spacingAndGlyphs" class="s">0.2</text>
<text x="171.50" y="364.20" font-size="10.6" font-family='"Liberation Sans", sans-serif' text-anchor="middle" fill="#000" textLength="16.54" lengthAdjust="spacingAndGlyphs" class="s">0.3</text>
<text x="213.80" y="364.20" font-size="10.6" font-family='"Liberation Sans", sans-serif' text-anchor="middle" fill="#000" textLength="16.54" lengthAdjust="spacingAndGlyphs" class="s">0.4</text>
<text x="256.11" y="364.20" font-size="10.6" font-family='"Liberation Sans", sans-serif' text-anchor="middle" fill="#000" textLength="16.54" lengthAdjust="spacingAndGlyphs" class="s">0.5</text>
<text x="298.41" y="364.20" font-size="10.6" font-family='"Liberation Sans", sans-serif' text-anchor="middle" fill="#000" textLength="16.54" lengthAdjust="spacingAndGlyphs" class="s">0.6</text>
<text x="28.40" y="321.70" font-size="10.6" font-family='"Liberation Sans", sans-serif' text-anchor="end" fill="#000" textLength="13.23" lengthAdjust="spacingAndGlyphs" class="s">10</text>
<text x="28.40" y="282.93" font-size="10.6" font-family='"Liberation Sans", sans-serif' text-anchor="end" fill="#000" textLength="13.23" lengthAdjust="spacingAndGlyphs" class="s">20</text>
<text x="28.40" y="244.15" font-size="10.6" font-family='"Liberation Sans", sans-serif' text-anchor="end" fill="#000" textLength="13.23" lengthAdjust="spacingAndGlyphs" class="s">30</text>
<text x="28.40" y="205.37" font-size="10.6" font-family='"Liberation Sans", sans-serif' text-anchor="end" fill="#000" textLength="13.23" lengthAdjust="spacingAndGlyphs" class="s">40</text>
<text x="28.40" y="166.59" font-size="10.6" font-family='"Liberation Sans", sans-serif' text-anchor="end" fill="#000" textLength="13.23" lengthAdjust="spacingAndGlyphs" class="s">50</text>
<text x="28.40" y="127.82" font-size="10.6" font-family='"Liberation Sans", sans-serif' text-anchor="end" fill="#000" textLength="13.23" lengthAdjust="spacingAndGlyphs" class="s">60</text>
<rect x="194.5" y="96.4" width="112.80" height="231.70" rx="2" ry="2" fill="#eeeeee" fill-opacity="0.8" stroke="#cccccc" stroke-opacity="0.8" stroke-width="0.8"/>
<path d="M197.00 102.50H214.20" stroke="#348ABD" stroke-width="1.6"/>
<text x="219.80" y="104.80" font-size="7.95" font-family='"Liberation Sans", sans-serif' text-anchor="start" fill="#000" textLength="17.43" lengthAdjust="spacingAndGlyphs" class="s">0.01</text>
<path d="M197.00 114.03H214.20" stroke="#A60628" stroke-width="1.6"/>
<text x="219.80" y="116.33" font-size="7.95" font-family='"Liberation Sans", sans-serif' text-anchor="start" fill="#000" textLength="17.43" lengthAdjust="spacingAndGlyphs" class="s">0.05</text>
<path d="M197.00 125.56H214.20" stroke="#7A68A6" stroke-width="1.6"/>
<text x="219.80" y="127.86" font-size="7.95" font-family='"Liberation Sans", sans-serif' text-anchor="start" fill="#000" textLength="12.45" lengthAdjust="spacingAndGlyphs" class="s">0.1</text>
<path d="M197.00 137.09H214.20" stroke="#467821" stroke-width="1.6"/>
<text x="219.80" y="139.39" font-size="7.95" font-family='"Liberation Sans", sans-serif' text-anchor="start" fill="#000" textLength="17.43" lengthAdjust="spacingAndGlyphs" class="s">0.15</text>
<path d="M197.00 148.62H214.20" stroke="#D55E00" stroke-width="1.6"/>
<text x="219.80" y="150.92" font-size="7.95" font-family='"Liberation Sans", sans-serif' text-anchor="start" fill="#000" textLength="12.45" lengthAdjust="spacingAndGlyphs" class="s">0.2</text>
<path d="M197.00 160.15H214.20" stroke="#CC79A7" stroke-width="1.6"/>
<text x="219.80" y="162.45" font-size="7.95" font-family='"Liberation Sans", sans-serif' text-anchor="start" fill="#000" textLength="12.45" lengthAdjust="spacingAndGlyphs" class="s">0.3</text>
<path d="M197.00 171.68H214.20" stroke="#56B4E9" stroke-width="1.6"/>
<text x="219.80" y="173.98" font-size="7.95" font-family='"Liberation Sans", sans-serif' text-anchor="start" fill="#000" textLength="12.45" lengthAdjust="spacingAndGlyphs" class="s">0.6</text>
<path d="M197.80 183.21h5.85M205.95 183.21h5.85" stroke="#ff0000" stroke-width="1.6"/>
<text x="219.80" y="185.51" font-size="7.95" font-family='"Liberation Sans", sans-serif' text-anchor="start" fill="#000" textLength="69.52" lengthAdjust="spacingAndGlyphs" class="s">Upper bound - HS</text>
<path d="M197.80 194.74h5.85M205.95 194.74h5.85" stroke="#000000" stroke-width="1.6"/>
<text x="219.80" y="197.04" font-size="7.95" font-family='"Liberation Sans", sans-serif' text-anchor="start" fill="#000" textLength="69.26" lengthAdjust="spacingAndGlyphs" class="s">Lower bound - HS</text>
<circle cx="205.60" cy="206.27" r="1.5" fill="#0000ff"/>
<text x="219.80" y="208.57" font-size="7.95" font-family='"Liberation Sans", sans-serif' text-anchor="start" fill="#000" textLength="46.90" lengthAdjust="spacingAndGlyphs" class="s">Voigt bound</text>
<circle cx="205.60" cy="217.80" r="1.5" fill="#bf00bf"/>
<text x="219.80" y="220.10" font-size="7.95" font-family='"Liberation Sans", sans-serif' text-anchor="start" fill="#000" textLength="50.17" lengthAdjust="spacingAndGlyphs" class="s">Reuss bound</text>
<path d="M205.60,226.13 L206.41,228.62 L209.02,228.62 L206.91,230.15 L207.72,232.64 L205.60,231.11 L203.48,232.64 L204.29,230.15 L202.18,228.62 L204.79,228.62Z" fill="#ff0000"/>
<text x="219.80" y="231.63" font-size="7.95" font-family='"Liberation Sans", sans-serif' text-anchor="start" fill="#000" textLength="80.94" lengthAdjust="spacingAndGlyphs" class="s">4991.4048 (well log)</text>
<path d="M205.60,237.66 L206.41,240.15 L209.02,240.15 L206.91,241.68 L207.72,244.17 L205.60,242.64 L203.48,244.17 L204.29,241.68 L202.18,240.15 L204.79,240.15Z" fill="#0000ff"/>
<text x="219.80" y="243.16" font-size="7.95" font-family='"Liberation Sans", sans-serif' text-anchor="start" fill="#000" textLength="83.91" lengthAdjust="spacingAndGlyphs" class="s">4991.4 (core sample)</text>
<path d="M205.60,249.09 L202.30,255.69 L208.90,255.69Z" fill="#ff0000"/>
<text x="219.80" y="254.69" font-size="7.95" font-family='"Liberation Sans", sans-serif' text-anchor="start" fill="#000" textLength="42.34" lengthAdjust="spacingAndGlyphs" class="s">5034.2292</text>
<path d="M205.60,260.62 L202.30,267.22 L208.90,267.22Z" fill="#0000ff"/>
<text x="219.80" y="266.22" font-size="7.95" font-family='"Liberation Sans", sans-serif' text-anchor="start" fill="#000" textLength="27.40" lengthAdjust="spacingAndGlyphs" class="s">5034.2</text>
<path d="M205.60,272.45 L208.74,274.73 L207.54,278.42 L203.66,278.42 L202.46,274.73Z" fill="#ff0000"/>
<text x="219.80" y="277.75" font-size="7.95" font-family='"Liberation Sans", sans-serif' text-anchor="start" fill="#000" textLength="42.34" lengthAdjust="spacingAndGlyphs" class="s">5061.8136</text>
<path d="M205.60,283.98 L208.74,286.26 L207.54,289.95 L203.66,289.95 L202.46,286.26Z" fill="#0000ff"/>
<text x="219.80" y="289.28" font-size="7.95" font-family='"Liberation Sans", sans-serif' text-anchor="start" fill="#000" textLength="27.40" lengthAdjust="spacingAndGlyphs" class="s">5061.8</text>
<path d="M205.60,293.91 L210.20,298.51 L205.60,303.11 L201.00,298.51Z" fill="#ff0000"/>
<text x="219.80" y="300.81" font-size="7.95" font-family='"Liberation Sans", sans-serif' text-anchor="start" fill="#000" textLength="42.34" lengthAdjust="spacingAndGlyphs" class="s">5072.4816</text>
<path d="M205.60,305.44 L210.20,310.04 L205.60,314.64 L201.00,310.04Z" fill="#0000ff"/>
<text x="219.80" y="312.34" font-size="7.95" font-family='"Liberation Sans", sans-serif' text-anchor="start" fill="#000" textLength="27.40" lengthAdjust="spacingAndGlyphs" class="s">5072.5</text>
<path d="M205.60,316.97 L210.20,321.57 L205.60,326.17 L201.00,321.57Z" fill="#000000"/>
<text x="219.80" y="323.87" font-size="7.95" font-family='"Liberation Sans", sans-serif' text-anchor="start" fill="#000" textLength="74.58" lengthAdjust="spacingAndGlyphs" class="s">5072.5 (from mCT)</text>
<g clip-path="url(#cTL)">
<path d="M95.10,258.60 L95.91,261.09 L98.52,261.09 L96.41,262.62 L97.22,265.11 L95.10,263.58 L92.98,265.11 L93.79,262.62 L91.68,261.09 L94.29,261.09Z" fill="#ff0000"/>
<path d="M85.80,238.80 L86.61,241.29 L89.22,241.29 L87.11,242.82 L87.92,245.31 L85.80,243.78 L83.68,245.31 L84.49,242.82 L82.38,241.29 L84.99,241.29Z" fill="#0000ff"/>
<path d="M87.20,186.20 L83.90,192.80 L90.50,192.80Z" fill="#ff0000"/>
<path d="M79.00,186.00 L75.70,192.60 L82.30,192.60Z" fill="#0000ff"/>
<path d="M142.40,224.50 L145.54,226.78 L144.34,230.47 L140.46,230.47 L139.26,226.78Z" fill="#ff0000"/>
<path d="M79.40,185.60 L82.54,187.88 L81.34,191.57 L77.46,191.57 L76.26,187.88Z" fill="#0000ff"/>
<path d="M88.50,210.90 L93.10,215.50 L88.50,220.10 L83.90,215.50Z" fill="#ff0000"/>
<path d="M108.20,245.80 L112.80,250.40 L108.20,255.00 L103.60,250.40Z" fill="#0000ff"/>
<path d="M75.90,136.30 L80.50,140.90 L75.90,145.50 L71.30,140.90Z" fill="#000000"/>
</g>
<clipPath id="cTR"><rect x="367.6" y="92.1" width="278.00" height="261.20"/></clipPath>
<rect x="367.6" y="92.1" width="278.00" height="261.20" fill="#eeeeee"/>
<path d="M402.35 92.1V353.3M437.10 92.1V353.3M471.85 92.1V353.3M506.60 92.1V353.3M541.35 92.1V353.3M576.10 92.1V353.3M610.85 92.1V353.3M367.6 320.65H645.6M367.6 288.00H645.6M367.6 255.35H645.6M367.6 222.70H645.6M367.6 190.05H645.6M367.6 157.40H645.6M367.6 124.75H645.6" stroke="#b4b4b4" stroke-width="0.7" stroke-dasharray="1.5 0.6" fill="none"/>
<g clip-path="url(#cTR)">
<path d="M425.3 247.3a2.6 2.6 0 1 0 5.2 0a2.6 2.6 0 1 0 -5.2 0M425.3 250.8a2.6 2.6 0 1 0 5.2 0a2.6 2.6 0 1 0 -5.2 0M429.7 251.6a2.6 2.6 0 1 0 5.2 0a2.6 2.6 0 1 0 -5.2 0M459.4 243.8a2.6 2.6 0 1 0 5.2 0a2.6 2.6 0 1 0 -5.2 0M463.8 251.6a2.6 2.6 0 1 0 5.2 0a2.6 2.6 0 1 0 -5.2 0M468.2 261.3a2.6 2.6 0 1 0 5.2 0a2.6 2.6 0 1 0 -5.2 0M432.3 271.8a2.6 2.6 0 1 0 5.2 0a2.6 2.6 0 1 0 -5.2 0M434.9 277.0a2.6 2.6 0 1 0 5.2 0a2.6 2.6 0 1 0 -5.2 0M446.3 306.0a2.6 2.6 0 1 0 5.2 0a2.6 2.6 0 1 0 -5.2 0M454.2 313.8a2.6 2.6 0 1 0 5.2 0a2.6 2.6 0 1 0 -5.2 0M457.7 312.1a2.6 2.6 0 1 0 5.2 0a2.6 2.6 0 1 0 -5.2 0M462.1 319.1a2.6 2.6 0 1 0 5.2 0a2.6 2.6 0 1 0 -5.2 0M461.2 328.7a2.6 2.6 0 1 0 5.2 0a2.6 2.6 0 1 0 -5.2 0M467.3 329.6a2.6 2.6 0 1 0 5.2 0a2.6 2.6 0 1 0 -5.2 0M468.2 335.7a2.6 2.6 0 1 0 5.2 0a2.6 2.6 0 1 0 -5.2 0M477.8 325.2a2.6 2.6 0 1 0 5.2 0a2.6 2.6 0 1 0 -5.2 0M488.4 330.5a2.6 2.6 0 1 0 5.2 0a2.6 2.6 0 1 0 -5.2 0M481.3 336.6a2.6 2.6 0 1 0 5.2 0a2.6 2.6 0 1 0 -5.2 0M478.7 340.1a2.6 2.6 0 1 0 5.2 0a2.6 2.6 0 1 0 -5.2 0M486.6 343.6a2.6 2.6 0 1 0 5.2 0a2.6 2.6 0 1 0 -5.2 0M491.0 338.4a2.6 2.6 0 1 0 5.2 0a2.6 2.6 0 1 0 -5.2 0M497.1 336.6a2.6 2.6 0 1 0 5.2 0a2.6 2.6 0 1 0 -5.2 0M499.7 340.1a2.6 2.6 0 1 0 5.2 0a2.6 2.6 0 1 0 -5.2 0M503.2 327.9a2.6 2.6 0 1 0 5.2 0a2.6 2.6 0 1 0 -5.2 0M507.6 328.7a2.6 2.6 0 1 0 5.2 0a2.6 2.6 0 1 0 -5.2 0M510.3 314.7a2.6 2.6 0 1 0 5.2 0a2.6 2.6 0 1 0 -5.2 0M512.0 308.6a2.6 2.6 0 1 0 5.2 0a2.6 2.6 0 1 0 -5.2 0M515.5 319.1a2.6 2.6 0 1 0 5.2 0a2.6 2.6 0 1 0 -5.2 0M521.6 303.3a2.6 2.6 0 1 0 5.2 0a2.6 2.6 0 1 0 -5.2 0M521.6 316.5a2.6 2.6 0 1 0 5.2 0a2.6 2.6 0 1 0 -5.2 0M522.5 323.5a2.6 2.6 0 1 0 5.2 0a2.6 2.6 0 1 0 -5.2 0M519.0 322.6a2.6 2.6 0 1 0 5.2 0a2.6 2.6 0 1 0 -5.2 0M524.3 326.1a2.6 2.6 0 1 0 5.2 0a2.6 2.6 0 1 0 -5.2 0M533.9 323.5a2.6 2.6 0 1 0 5.2 0a2.6 2.6 0 1 0 -5.2 0M520.8 332.2a2.6 2.6 0 1 0 5.2 0a2.6 2.6 0 1 0 -5.2 0M522.5 338.4a2.6 2.6 0 1 0 5.2 0a2.6 2.6 0 1 0 -5.2 0M526.0 341.0a2.6 2.6 0 1 0 5.2 0a2.6 2.6 0 1 0 -5.2 0M529.5 345.4a2.6 2.6 0 1 0 5.2 0a2.6 2.6 0 1 0 -5.2 0M517.3 343.6a2.6 2.6 0 1 0 5.2 0a2.6 2.6 0 1 0 -5.2 0M515.5 348.0a2.6 2.6 0 1 0 5.2 0a2.6 2.6 0 1 0 -5.2 0M450.7 348.0a2.6 2.6 0 1 0 5.2 0a2.6 2.6 0 1 0 -5.2 0M458.6 351.5a2.6 2.6 0 1 0 5.2 0a2.6 2.6 0 1 0 -5.2 0M501.5 329.6a2.6 2.6 0 1 0 5.2 0a2.6 2.6 0 1 0 -5.2 0M425.5 247.7a2.6 2.6 0 1 0 5.2 0a2.6 2.6 0 1 0 -5.2 0M424.3 250.0a2.6 2.6 0 1 0 5.2 0a2.6 2.6 0 1 0 -5.2 0M427.8 251.2a2.6 2.6 0 1 0 5.2 0a2.6 2.6 0 1 0 -5.2 0M432.5 243.0a2.6 2.6 0 1 0 5.2 0a2.6 2.6 0 1 0 -5.2 0M464.6 251.8a2.6 2.6 0 1 0 5.2 0a2.6 2.6 0 1 0 -5.2 0M459.4 243.6a2.6 2.6 0 1 0 5.2 0a2.6 2.6 0 1 0 -5.2 0M435.4 260.5a2.6 2.6 0 1 0 5.2 0a2.6 2.6 0 1 0 -5.2 0M471.4 268.0a2.6 2.6 0 1 0 5.2 0a2.6 2.6 0 1 0 -5.2 0M475.4 272.0a2.6 2.6 0 1 0 5.2 0a2.6 2.6 0 1 0 -5.2 0M504.4 312.0a2.6 2.6 0 1 0 5.2 0a2.6 2.6 0 1 0 -5.2 0M497.4 325.0a2.6 2.6 0 1 0 5.2 0a2.6 2.6 0 1 0 -5.2 0M493.4 327.0a2.6 2.6 0 1 0 5.2 0a2.6 2.6 0 1 0 -5.2 0M484.4 326.0a2.6 2.6 0 1 0 5.2 0a2.6 2.6 0 1 0 -5.2 0M472.4 322.0a2.6 2.6 0 1 0 5.2 0a2.6 2.6 0 1 0 -5.2 0M463.4 315.0a2.6 2.6 0 1 0 5.2 0a2.6 2.6 0 1 0 -5.2 0M455.4 306.0a2.6 2.6 0 1 0 5.2 0a2.6 2.6 0 1 0 -5.2 0M449.4 300.0a2.6 2.6 0 1 0 5.2 0a2.6 2.6 0 1 0 -5.2 0M437.7 239.7a2.6 2.6 0 1 0 5.2 0a2.6 2.6 0 1 0 -5.2 0M436.3 243.4a2.6 2.6 0 1 0 5.2 0a2.6 2.6 0 1 0 -5.2 0M439.0 242.4a2.6 2.6 0 1 0 5.2 0a2.6 2.6 0 1 0 -5.2 0M437.9 244.4a2.6 2.6 0 1 0 5.2 0a2.6 2.6 0 1 0 -5.2 0M440.5 244.6a2.6 2.6 0 1 0 5.2 0a2.6 2.6 0 1 0 -5.2 0M444.2 245.1a2.6 2.6 0 1 0 5.2 0a2.6 2.6 0 1 0 -5.2 0M447.4 246.3a2.6 2.6 0 1 0 5.2 0a2.6 2.6 0 1 0 -5.2 0M437.3 249.5a2.6 2.6 0 1 0 5.2 0a2.6 2.6 0 1 0 -5.2 0M440.8 249.1a2.6 2.6 0 1 0 5.2 0a2.6 2.6 0 1 0 -5.2 0M444.2 248.9a2.6 2.6 0 1 0 5.2 0a2.6 2.6 0 1 0 -5.2 0M446.1 248.4a2.6 2.6 0 1 0 5.2 0a2.6 2.6 0 1 0 -5.2 0M449.9 247.3a2.6 2.6 0 1 0 5.2 0a2.6 2.6 0 1 0 -5.2 0M452.5 247.9a2.6 2.6 0 1 0 5.2 0a2.6 2.6 0 1 0 -5.2 0M436.0 251.1a2.6 2.6 0 1 0 5.2 0a2.6 2.6 0 1 0 -5.2 0M438.1 252.4a2.6 2.6 0 1 0 5.2 0a2.6 2.6 0 1 0 -5.2 0M442.2 250.5a2.6 2.6 0 1 0 5.2 0a2.6 2.6 0 1 0 -5.2 0M444.2 250.5a2.6 2.6 0 1 0 5.2 0a2.6 2.6 0 1 0 -5.2 0M449.5 252.1a2.6 2.6 0 1 0 5.2 0a2.6 2.6 0 1 0 -5.2 0M451.1 252.1a2.6 2.6 0 1 0 5.2 0a2.6 2.6 0 1 0 -5.2 0M456.4 251.7a2.6 2.6 0 1 0 5.2 0a2.6 2.6 0 1 0 -5.2 0M436.5 253.5a2.6 2.6 0 1 0 5.2 0a2.6 2.6 0 1 0 -5.2 0M438.8 255.0a2.6 2.6 0 1 0 5.2 0a2.6 2.6 0 1 0 -5.2 0M442.6 254.2a2.6 2.6 0 1 0 5.2 0a2.6 2.6 0 1 0 -5.2 0M447.3 254.4a2.6 2.6 0 1 0 5.2 0a2.6 2.6 0 1 0 -5.2 0M449.8 254.3a2.6 2.6 0 1 0 5.2 0a2.6 2.6 0 1 0 -5.2 0M453.7 254.9a2.6 2.6 0 1 0 5.2 0a2.6 2.6 0 1 0 -5.2 0M456.1 254.4a2.6 2.6 0 1 0 5.2 0a2.6 2.6 0 1 0 -5.2 0M437.3 257.6a2.6 2.6 0 1 0 5.2 0a2.6 2.6 0 1 0 -5.2 0M442.4 258.2a2.6 2.6 0 1 0 5.2 0a2.6 2.6 0 1 0 -5.2 0M444.3 257.7a2.6 2.6 0 1 0 5.2 0a2.6 2.6 0 1 0 -5.2 0M448.9 256.4a2.6 2.6 0 1 0 5.2 0a2.6 2.6 0 1 0 -5.2 0M452.8 258.3a2.6 2.6 0 1 0 5.2 0a2.6 2.6 0 1 0 -5.2 0M454.6 258.3a2.6 2.6 0 1 0 5.2 0a2.6 2.6 0 1 0 -5.2 0M458.5 257.2a2.6 2.6 0 1 0 5.2 0a2.6 2.6 0 1 0 -5.2 0M437.4 259.6a2.6 2.6 0 1 0 5.2 0a2.6 2.6 0 1 0 -5.2 0M439.2 261.2a2.6 2.6 0 1 0 5.2 0a2.6 2.6 0 1 0 -5.2 0M443.6 260.6a2.6 2.6 0 1 0 5.2 0a2.6 2.6 0 1 0 -5.2 0M445.8 259.1a2.6 2.6 0 1 0 5.2 0a2.6 2.6 0 1 0 -5.2 0M450.6 260.0a2.6 2.6 0 1 0 5.2 0a2.6 2.6 0 1 0 -5.2 0M452.6 261.2a2.6 2.6 0 1 0 5.2 0a2.6 2.6 0 1 0 -5.2 0M457.3 260.9a2.6 2.6 0 1 0 5.2 0a2.6 2.6 0 1 0 -5.2 0M459.4 261.0a2.6 2.6 0 1 0 5.2 0a2.6 2.6 0 1 0 -5.2 0M462.8 261.0a2.6 2.6 0 1 0 5.2 0a2.6 2.6 0 1 0 -5.2 0M437.6 263.0a2.6 2.6 0 1 0 5.2 0a2.6 2.6 0 1 0 -5.2 0M442.7 262.2a2.6 2.6 0 1 0 5.2 0a2.6 2.6 0 1 0 -5.2 0M445.9 262.9a2.6 2.6 0 1 0 5.2 0a2.6 2.6 0 1 0 -5.2 0M448.5 263.9a2.6 2.6 0 1 0 5.2 0a2.6 2.6 0 1 0 -5.2 0M451.6 263.1a2.6 2.6 0 1 0 5.2 0a2.6 2.6 0 1 0 -5.2 0M455.7 264.2a2.6 2.6 0 1 0 5.2 0a2.6 2.6 0 1 0 -5.2 0M458.3 263.9a2.6 2.6 0 1 0 5.2 0a2.6 2.6 0 1 0 -5.2 0M462.6 263.4a2.6 2.6 0 1 0 5.2 0a2.6 2.6 0 1 0 -5.2 0M465.3 262.7a2.6 2.6 0 1 0 5.2 0a2.6 2.6 0 1 0 -5.2 0M439.9 266.1a2.6 2.6 0 1 0 5.2 0a2.6 2.6 0 1 0 -5.2 0M442.7 266.1a2.6 2.6 0 1 0 5.2 0a2.6 2.6 0 1 0 -5.2 0M445.6 265.5a2.6 2.6 0 1 0 5.2 0a2.6 2.6 0 1 0 -5.2 0M449.2 265.8a2.6 2.6 0 1 0 5.2 0a2.6 2.6 0 1 0 -5.2 0M452.5 264.9a2.6 2.6 0 1 0 5.2 0a2.6 2.6 0 1 0 -5.2 0M456.5 265.4a2.6 2.6 0 1 0 5.2 0a2.6 2.6 0 1 0 -5.2 0M460.6 266.1a2.6 2.6 0 1 0 5.2 0a2.6 2.6 0 1 0 -5.2 0M464.4 266.4a2.6 2.6 0 1 0 5.2 0a2.6 2.6 0 1 0 -5.2 0M467.7 266.9a2.6 2.6 0 1 0 5.2 0a2.6 2.6 0 1 0 -5.2 0M440.8 268.7a2.6 2.6 0 1 0 5.2 0a2.6 2.6 0 1 0 -5.2 0M444.2 269.8a2.6 2.6 0 1 0 5.2 0a2.6 2.6 0 1 0 -5.2 0M448.6 269.3a2.6 2.6 0 1 0 5.2 0a2.6 2.6 0 1 0 -5.2 0M452.2 269.4a2.6 2.6 0 1 0 5.2 0a2.6 2.6 0 1 0 -5.2 0M455.3 267.8a2.6 2.6 0 1 0 5.2 0a2.6 2.6 0 1 0 -5.2 0M459.4 269.6a2.6 2.6 0 1 0 5.2 0a2.6 2.6 0 1 0 -5.2 0M462.1 269.1a2.6 2.6 0 1 0 5.2 0a2.6 2.6 0 1 0 -5.2 0M465.9 268.0a2.6 2.6 0 1 0 5.2 0a2.6 2.6 0 1 0 -5.2 0M469.5 268.4a2.6 2.6 0 1 0 5.2 0a2.6 2.6 0 1 0 -5.2 0M471.3 268.4a2.6 2.6 0 1 0 5.2 0a2.6 2.6 0 1 0 -5.2 0M437.0 272.4a2.6 2.6 0 1 0 5.2 0a2.6 2.6 0 1 0 -5.2 0M440.4 271.4a2.6 2.6 0 1 0 5.2 0a2.6 2.6 0 1 0 -5.2 0M443.4 271.8a2.6 2.6 0 1 0 5.2 0a2.6 2.6 0 1 0 -5.2 0M446.7 271.0a2.6 2.6 0 1 0 5.2 0a2.6 2.6 0 1 0 -5.2 0M451.1 271.2a2.6 2.6 0 1 0 5.2 0a2.6 2.6 0 1 0 -5.2 0M454.7 273.0a2.6 2.6 0 1 0 5.2 0a2.6 2.6 0 1 0 -5.2 0M455.9 271.8a2.6 2.6 0 1 0 5.2 0a2.6 2.6 0 1 0 -5.2 0M461.2 273.0a2.6 2.6 0 1 0 5.2 0a2.6 2.6 0 1 0 -5.2 0M463.7 271.4a2.6 2.6 0 1 0 5.2 0a2.6 2.6 0 1 0 -5.2 0M466.5 273.0a2.6 2.6 0 1 0 5.2 0a2.6 2.6 0 1 0 -5.2 0M469.9 272.1a2.6 2.6 0 1 0 5.2 0a2.6 2.6 0 1 0 -5.2 0M473.1 272.0a2.6 2.6 0 1 0 5.2 0a2.6 2.6 0 1 0 -5.2 0M437.1 275.5a2.6 2.6 0 1 0 5.2 0a2.6 2.6 0 1 0 -5.2 0M442.5 274.0a2.6 2.6 0 1 0 5.2 0a2.6 2.6 0 1 0 -5.2 0M446.1 275.4a2.6 2.6 0 1 0 5.2 0a2.6 2.6 0 1 0 -5.2 0M449.5 274.4a2.6 2.6 0 1 0 5.2 0a2.6 2.6 0 1 0 -5.2 0M451.6 274.6a2.6 2.6 0 1 0 5.2 0a2.6 2.6 0 1 0 -5.2 0M456.5 275.1a2.6 2.6 0 1 0 5.2 0a2.6 2.6 0 1 0 -5.2 0M458.4 274.7a2.6 2.6 0 1 0 5.2 0a2.6 2.6 0 1 0 -5.2 0M461.6 273.8a2.6 2.6 0 1 0 5.2 0a2.6 2.6 0 1 0 -5.2 0M464.6 275.7a2.6 2.6 0 1 0 5.2 0a2.6 2.6 0 1 0 -5.2 0M468.4 275.9a2.6 2.6 0 1 0 5.2 0a2.6 2.6 0 1 0 -5.2 0M471.7 274.3a2.6 2.6 0 1 0 5.2 0a2.6 2.6 0 1 0 -5.2 0M475.7 274.1a2.6 2.6 0 1 0 5.2 0a2.6 2.6 0 1 0 -5.2 0M444.5 277.3a2.6 2.6 0 1 0 5.2 0a2.6 2.6 0 1 0 -5.2 0M447.2 277.3a2.6 2.6 0 1 0 5.2 0a2.6 2.6 0 1 0 -5.2 0M450.3 277.6a2.6 2.6 0 1 0 5.2 0a2.6 2.6 0 1 0 -5.2 0M452.8 277.0a2.6 2.6 0 1 0 5.2 0a2.6 2.6 0 1 0 -5.2 0M456.3 278.8a2.6 2.6 0 1 0 5.2 0a2.6 2.6 0 1 0 -5.2 0M460.4 277.2a2.6 2.6 0 1 0 5.2 0a2.6 2.6 0 1 0 -5.2 0M464.8 279.0a2.6 2.6 0 1 0 5.2 0a2.6 2.6 0 1 0 -5.2 0M467.1 277.0a2.6 2.6 0 1 0 5.2 0a2.6 2.6 0 1 0 -5.2 0M469.9 276.8a2.6 2.6 0 1 0 5.2 0a2.6 2.6 0 1 0 -5.2 0M473.6 276.8a2.6 2.6 0 1 0 5.2 0a2.6 2.6 0 1 0 -5.2 0M476.8 277.2a2.6 2.6 0 1 0 5.2 0a2.6 2.6 0 1 0 -5.2 0M446.2 281.6a2.6 2.6 0 1 0 5.2 0a2.6 2.6 0 1 0 -5.2 0M449.4 279.6a2.6 2.6 0 1 0 5.2 0a2.6 2.6 0 1 0 -5.2 0M450.8 281.3a2.6 2.6 0 1 0 5.2 0a2.6 2.6 0 1 0 -5.2 0M456.2 280.7a2.6 2.6 0 1 0 5.2 0a2.6 2.6 0 1 0 -5.2 0M458.9 279.6a2.6 2.6 0 1 0 5.2 0a2.6 2.6 0 1 0 -5.2 0M461.8 281.8a2.6 2.6 0 1 0 5.2 0a2.6 2.6 0 1 0 -5.2 0M466.3 281.6a2.6 2.6 0 1 0 5.2 0a2.6 2.6 0 1 0 -5.2 0M470.0 280.2a2.6 2.6 0 1 0 5.2 0a2.6 2.6 0 1 0 -5.2 0M471.4 279.9a2.6 2.6 0 1 0 5.2 0a2.6 2.6 0 1 0 -5.2 0M475.8 281.2a2.6 2.6 0 1 0 5.2 0a2.6 2.6 0 1 0 -5.2 0M480.2 281.3a2.6 2.6 0 1 0 5.2 0a2.6 2.6 0 1 0 -5.2 0M446.3 283.6a2.6 2.6 0 1 0 5.2 0a2.6 2.6 0 1 0 -5.2 0M451.3 284.1a2.6 2.6 0 1 0 5.2 0a2.6 2.6 0 1 0 -5.2 0M454.5 283.7a2.6 2.6 0 1 0 5.2 0a2.6 2.6 0 1 0 -5.2 0M456.4 283.1a2.6 2.6 0 1 0 5.2 0a2.6 2.6 0 1 0 -5.2 0M461.5 284.2a2.6 2.6 0 1 0 5.2 0a2.6 2.6 0 1 0 -5.2 0M463.3 282.6a2.6 2.6 0 1 0 5.2 0a2.6 2.6 0 1 0 -5.2 0M467.2 284.1a2.6 2.6 0 1 0 5.2 0a2.6 2.6 0 1 0 -5.2 0M470.4 283.1a2.6 2.6 0 1 0 5.2 0a2.6 2.6 0 1 0 -5.2 0M474.4 284.7a2.6 2.6 0 1 0 5.2 0a2.6 2.6 0 1 0 -5.2 0M476.7 282.6a2.6 2.6 0 1 0 5.2 0a2.6 2.6 0 1 0 -5.2 0M480.4 283.5a2.6 2.6 0 1 0 5.2 0a2.6 2.6 0 1 0 -5.2 0M447.7 286.4a2.6 2.6 0 1 0 5.2 0a2.6 2.6 0 1 0 -5.2 0M451.2 287.8a2.6 2.6 0 1 0 5.2 0a2.6 2.6 0 1 0 -5.2 0M454.4 285.6a2.6 2.6 0 1 0 5.2 0a2.6 2.6 0 1 0 -5.2 0M457.7 286.4a2.6 2.6 0 1 0 5.2 0a2.6 2.6 0 1 0 -5.2 0M463.0 287.6a2.6 2.6 0 1 0 5.2 0a2.6 2.6 0 1 0 -5.2 0M466.1 287.8a2.6 2.6 0 1 0 5.2 0a2.6 2.6 0 1 0 -5.2 0M469.9 286.2a2.6 2.6 0 1 0 5.2 0a2.6 2.6 0 1 0 -5.2 0M471.6 287.7a2.6 2.6 0 1 0 5.2 0a2.6 2.6 0 1 0 -5.2 0M476.3 285.5a2.6 2.6 0 1 0 5.2 0a2.6 2.6 0 1 0 -5.2 0M479.5 286.4a2.6 2.6 0 1 0 5.2 0a2.6 2.6 0 1 0 -5.2 0M482.2 286.3a2.6 2.6 0 1 0 5.2 0a2.6 2.6 0 1 0 -5.2 0M485.1 285.5a2.6 2.6 0 1 0 5.2 0a2.6 2.6 0 1 0 -5.2 0M450.8 288.5a2.6 2.6 0 1 0 5.2 0a2.6 2.6 0 1 0 -5.2 0M452.5 288.6a2.6 2.6 0 1 0 5.2 0a2.6 2.6 0 1 0 -5.2 0M458.0 289.0a2.6 2.6 0 1 0 5.2 0a2.6 2.6 0 1 0 -5.2 0M461.0 290.5a2.6 2.6 0 1 0 5.2 0a2.6 2.6 0 1 0 -5.2 0M463.4 289.1a2.6 2.6 0 1 0 5.2 0a2.6 2.6 0 1 0 -5.2 0M468.3 289.9a2.6 2.6 0 1 0 5.2 0a2.6 2.6 0 1 0 -5.2 0M470.0 290.1a2.6 2.6 0 1 0 5.2 0a2.6 2.6 0 1 0 -5.2 0M473.6 289.1a2.6 2.6 0 1 0 5.2 0a2.6 2.6 0 1 0 -5.2 0M476.2 290.2a2.6 2.6 0 1 0 5.2 0a2.6 2.6 0 1 0 -5.2 0M481.8 289.9a2.6 2.6 0 1 0 5.2 0a2.6 2.6 0 1 0 -5.2 0M485.3 288.5a2.6 2.6 0 1 0 5.2 0a2.6 2.6 0 1 0 -5.2 0M487.0 289.5a2.6 2.6 0 1 0 5.2 0a2.6 2.6 0 1 0 -5.2 0M492.1 290.7a2.6 2.6 0 1 0 5.2 0a2.6 2.6 0 1 0 -5.2 0M454.7 291.5a2.6 2.6 0 1 0 5.2 0a2.6 2.6 0 1 0 -5.2 0M457.6 292.7a2.6 2.6 0 1 0 5.2 0a2.6 2.6 0 1 0 -5.2 0M461.7 293.7a2.6 2.6 0 1 0 5.2 0a2.6 2.6 0 1 0 -5.2 0M466.4 293.7a2.6 2.6 0 1 0 5.2 0a2.6 2.6 0 1 0 -5.2 0M468.3 291.6a2.6 2.6 0 1 0 5.2 0a2.6 2.6 0 1 0 -5.2 0M471.3 292.5a2.6 2.6 0 1 0 5.2 0a2.6 2.6 0 1 0 -5.2 0M476.2 292.4a2.6 2.6 0 1 0 5.2 0a2.6 2.6 0 1 0 -5.2 0M478.5 292.3a2.6 2.6 0 1 0 5.2 0a2.6 2.6 0 1 0 -5.2 0M482.8 293.0a2.6 2.6 0 1 0 5.2 0a2.6 2.6 0 1 0 -5.2 0M486.5 293.4a2.6 2.6 0 1 0 5.2 0a2.6 2.6 0 1 0 -5.2 0M489.7 291.6a2.6 2.6 0 1 0 5.2 0a2.6 2.6 0 1 0 -5.2 0M493.5 292.1a2.6 2.6 0 1 0 5.2 0a2.6 2.6 0 1 0 -5.2 0M496.3 292.2a2.6 2.6 0 1 0 5.2 0a2.6 2.6 0 1 0 -5.2 0M453.5 296.2a2.6 2.6 0 1 0 5.2 0a2.6 2.6 0 1 0 -5.2 0M457.8 296.5a2.6 2.6 0 1 0 5.2 0a2.6 2.6 0 1 0 -5.2 0M459.3 295.0a2.6 2.6 0 1 0 5.2 0a2.6 2.6 0 1 0 -5.2 0M462.9 294.7a2.6 2.6 0 1 0 5.2 0a2.6 2.6 0 1 0 -5.2 0M468.3 295.7a2.6 2.6 0 1 0 5.2 0a2.6 2.6 0 1 0 -5.2 0M471.6 295.2a2.6 2.6 0 1 0 5.2 0a2.6 2.6 0 1 0 -5.2 0M474.9 295.4a2.6 2.6 0 1 0 5.2 0a2.6 2.6 0 1 0 -5.2 0M476.8 296.1a2.6 2.6 0 1 0 5.2 0a2.6 2.6 0 1 0 -5.2 0M481.9 294.5a2.6 2.6 0 1 0 5.2 0a2.6 2.6 0 1 0 -5.2 0M484.4 295.8a2.6 2.6 0 1 0 5.2 0a2.6 2.6 0 1 0 -5.2 0M486.9 295.2a2.6 2.6 0 1 0 5.2 0a2.6 2.6 0 1 0 -5.2 0M490.1 294.8a2.6 2.6 0 1 0 5.2 0a2.6 2.6 0 1 0 -5.2 0M458.5 297.9a2.6 2.6 0 1 0 5.2 0a2.6 2.6 0 1 0 -5.2 0M461.6 299.5a2.6 2.6 0 1 0 5.2 0a2.6 2.6 0 1 0 -5.2 0M465.1 298.6a2.6 2.6 0 1 0 5.2 0a2.6 2.6 0 1 0 -5.2 0M468.6 298.2a2.6 2.6 0 1 0 5.2 0a2.6 2.6 0 1 0 -5.2 0M473.2 299.6a2.6 2.6 0 1 0 5.2 0a2.6 2.6 0 1 0 -5.2 0M475.4 297.7a2.6 2.6 0 1 0 5.2 0a2.6 2.6 0 1 0 -5.2 0M479.6 297.7a2.6 2.6 0 1 0 5.2 0a2.6 2.6 0 1 0 -5.2 0M481.3 299.4a2.6 2.6 0 1 0 5.2 0a2.6 2.6 0 1 0 -5.2 0M485.7 299.2a2.6 2.6 0 1 0 5.2 0a2.6 2.6 0 1 0 -5.2 0M489.1 299.3a2.6 2.6 0 1 0 5.2 0a2.6 2.6 0 1 0 -5.2 0M461.4 301.1a2.6 2.6 0 1 0 5.2 0a2.6 2.6 0 1 0 -5.2 0M464.8 301.7a2.6 2.6 0 1 0 5.2 0a2.6 2.6 0 1 0 -5.2 0M468.0 300.6a2.6 2.6 0 1 0 5.2 0a2.6 2.6 0 1 0 -5.2 0M471.3 300.7a2.6 2.6 0 1 0 5.2 0a2.6 2.6 0 1 0 -5.2 0M473.8 302.2a2.6 2.6 0 1 0 5.2 0a2.6 2.6 0 1 0 -5.2 0M478.2 300.6a2.6 2.6 0 1 0 5.2 0a2.6 2.6 0 1 0 -5.2 0M480.1 301.1a2.6 2.6 0 1 0 5.2 0a2.6 2.6 0 1 0 -5.2 0M484.2 301.1a2.6 2.6 0 1 0 5.2 0a2.6 2.6 0 1 0 -5.2 0M486.7 300.8a2.6 2.6 0 1 0 5.2 0a2.6 2.6 0 1 0 -5.2 0M465.4 303.4a2.6 2.6 0 1 0 5.2 0a2.6 2.6 0 1 0 -5.2 0M468.0 304.2a2.6 2.6 0 1 0 5.2 0a2.6 2.6 0 1 0 -5.2 0M471.3 304.2a2.6 2.6 0 1 0 5.2 0a2.6 2.6 0 1 0 -5.2 0M475.7 303.2a2.6 2.6 0 1 0 5.2 0a2.6 2.6 0 1 0 -5.2 0M479.4 303.3a2.6 2.6 0 1 0 5.2 0a2.6 2.6 0 1 0 -5.2 0M483.1 305.0a2.6 2.6 0 1 0 5.2 0a2.6 2.6 0 1 0 -5.2 0M485.9 303.3a2.6 2.6 0 1 0 5.2 0a2.6 2.6 0 1 0 -5.2 0M489.3 304.0a2.6 2.6 0 1 0 5.2 0a2.6 2.6 0 1 0 -5.2 0M469.8 308.3a2.6 2.6 0 1 0 5.2 0a2.6 2.6 0 1 0 -5.2 0M474.4 308.2a2.6 2.6 0 1 0 5.2 0a2.6 2.6 0 1 0 -5.2 0M476.6 307.9a2.6 2.6 0 1 0 5.2 0a2.6 2.6 0 1 0 -5.2 0M479.9 307.3a2.6 2.6 0 1 0 5.2 0a2.6 2.6 0 1 0 -5.2 0M484.5 306.9a2.6 2.6 0 1 0 5.2 0a2.6 2.6 0 1 0 -5.2 0M488.5 307.4a2.6 2.6 0 1 0 5.2 0a2.6 2.6 0 1 0 -5.2 0M491.2 308.2a2.6 2.6 0 1 0 5.2 0a2.6 2.6 0 1 0 -5.2 0M493.5 308.4a2.6 2.6 0 1 0 5.2 0a2.6 2.6 0 1 0 -5.2 0M471.4 309.6a2.6 2.6 0 1 0 5.2 0a2.6 2.6 0 1 0 -5.2 0M476.1 309.1a2.6 2.6 0 1 0 5.2 0a2.6 2.6 0 1 0 -5.2 0M477.9 309.9a2.6 2.6 0 1 0 5.2 0a2.6 2.6 0 1 0 -5.2 0M481.6 309.9a2.6 2.6 0 1 0 5.2 0a2.6 2.6 0 1 0 -5.2 0M485.2 310.4a2.6 2.6 0 1 0 5.2 0a2.6 2.6 0 1 0 -5.2 0M489.5 309.5a2.6 2.6 0 1 0 5.2 0a2.6 2.6 0 1 0 -5.2 0M493.0 310.2a2.6 2.6 0 1 0 5.2 0a2.6 2.6 0 1 0 -5.2 0M495.2 311.2a2.6 2.6 0 1 0 5.2 0a2.6 2.6 0 1 0 -5.2 0M498.9 309.4a2.6 2.6 0 1 0 5.2 0a2.6 2.6 0 1 0 -5.2 0M471.6 312.3a2.6 2.6 0 1 0 5.2 0a2.6 2.6 0 1 0 -5.2 0M473.3 313.4a2.6 2.6 0 1 0 5.2 0a2.6 2.6 0 1 0 -5.2 0M477.4 313.5a2.6 2.6 0 1 0 5.2 0a2.6 2.6 0 1 0 -5.2 0M481.5 312.4a2.6 2.6 0 1 0 5.2 0a2.6 2.6 0 1 0 -5.2 0M483.7 312.7a2.6 2.6 0 1 0 5.2 0a2.6 2.6 0 1 0 -5.2 0M486.5 314.1a2.6 2.6 0 1 0 5.2 0a2.6 2.6 0 1 0 -5.2 0M491.7 313.7a2.6 2.6 0 1 0 5.2 0a2.6 2.6 0 1 0 -5.2 0M493.2 314.0a2.6 2.6 0 1 0 5.2 0a2.6 2.6 0 1 0 -5.2 0M498.4 313.1a2.6 2.6 0 1 0 5.2 0a2.6 2.6 0 1 0 -5.2 0M476.3 315.7a2.6 2.6 0 1 0 5.2 0a2.6 2.6 0 1 0 -5.2 0M480.0 315.7a2.6 2.6 0 1 0 5.2 0a2.6 2.6 0 1 0 -5.2 0M481.9 317.1a2.6 2.6 0 1 0 5.2 0a2.6 2.6 0 1 0 -5.2 0M486.2 316.6a2.6 2.6 0 1 0 5.2 0a2.6 2.6 0 1 0 -5.2 0M489.7 317.2a2.6 2.6 0 1 0 5.2 0a2.6 2.6 0 1 0 -5.2 0M492.6 316.9a2.6 2.6 0 1 0 5.2 0a2.6 2.6 0 1 0 -5.2 0M496.6 316.9a2.6 2.6 0 1 0 5.2 0a2.6 2.6 0 1 0 -5.2 0M499.4 316.6a2.6 2.6 0 1 0 5.2 0a2.6 2.6 0 1 0 -5.2 0M487.9 319.8a2.6 2.6 0 1 0 5.2 0a2.6 2.6 0 1 0 -5.2 0M491.3 318.5a2.6 2.6 0 1 0 5.2 0a2.6 2.6 0 1 0 -5.2 0M493.4 318.1a2.6 2.6 0 1 0 5.2 0a2.6 2.6 0 1 0 -5.2 0M498.4 318.3a2.6 2.6 0 1 0 5.2 0a2.6 2.6 0 1 0 -5.2 0" fill="#008000"/>
<path d="M367.60,52.92 L368.30,65.71 L368.99,78.11 L369.69,90.14 L370.38,101.80 L371.08,113.13 L371.77,124.12 L372.47,134.80 L373.16,145.18 L373.86,155.27 L374.55,165.07 L375.25,174.61 L375.94,183.89 L376.64,192.92 L377.33,201.71 L378.03,210.27 L378.72,218.60 L379.42,226.72 L380.11,234.64 L380.81,242.35 L381.50,249.87 L384.98,284.81 L388.45,315.78 L391.93,343.36 L395.40,368.01 L398.88,390.11 L402.35,409.97 L405.83,427.85 L409.30,443.96 L412.77,458.48 L416.25,471.58 L419.73,483.39 L423.20,494.02 L426.68,503.59 L430.15,512.18 L433.62,519.87 L437.10,526.76 L440.58,532.89 L444.05,538.35 L447.53,543.18 L451.00,547.44 L454.48,549.20 L457.95,549.20 L461.43,549.20 L464.90,549.20 L468.38,549.20 L471.85,549.20 L475.32,549.20 L478.80,549.20 L482.27,549.20 L485.75,549.20 L489.23,549.20 L492.70,549.20 L496.18,549.20 L499.65,549.20 L503.12,549.20 L506.60,549.20 L510.07,549.20 L513.55,549.20 L517.02,549.20 L520.50,549.20 L523.98,549.20 L527.45,549.20 L530.92,549.20 L534.40,549.20 L537.88,549.20 L541.35,549.20 L544.83,549.20 L548.30,549.20 L551.77,549.20 L555.25,549.20 L558.73,549.20 L562.20,549.20 L565.67,549.20 L569.15,549.20 L572.62,549.20 L576.10,549.20 L579.58,549.20 L583.05,549.20 L586.52,549.20 L590.00,549.20 L593.48,549.20 L596.95,549.20 L600.42,549.20 L603.90,549.20 L607.38,549.20 L610.85,549.20 L614.33,549.20 L617.80,549.20 L621.27,549.20 L624.75,549.20 L628.22,549.20 L631.70,549.20 L635.17,549.20 L638.65,549.20 L642.12,549.20 L645.60,549.20 L649.08,549.20 L652.55,549.20 L656.02,549.20 L659.50,549.20 L662.97,549.20 L666.45,549.20 L669.92,549.20 L673.40,549.20 L676.88,549.20 L680.35,549.20 L683.82,549.20 L687.30,549.20 L690.77,549.20 L694.25,549.20 L697.72,549.20 L701.20,549.20 L704.67,549.20 L708.15,549.20 L711.62,549.20 L715.10,549.20 L718.57,549.20 L722.05,549.20 L725.52,549.20 L729.00,549.20 L732.47,549.20 L735.95,549.20 L739.42,549.20 L742.90,549.20 L746.38,549.20 L749.85,549.20 L753.32,549.20 L756.80,549.20 L760.27,549.20 L763.75,549.20 L767.22,549.20 L770.70,549.20 L774.17,549.20 L777.65,549.20 L781.12,549.20 L784.60,549.20" stroke="#348ABD" stroke-width="1.6" fill="none" stroke-linejoin="round" stroke-linecap="butt"/>
<path d="M367.60,52.92 L368.30,56.44 L368.99,59.95 L369.69,63.43 L370.38,66.90 L371.08,70.34 L371.77,73.77 L372.47,77.18 L373.16,80.57 L373.86,83.94 L374.55,87.29 L375.25,90.62 L375.94,93.93 L376.64,97.22 L377.33,100.50 L378.03,103.75 L378.72,106.99 L379.42,110.21 L380.11,113.41 L380.81,116.59 L381.50,119.75 L384.98,135.28 L388.45,150.37 L391.93,165.01 L395.40,179.22 L398.88,193.02 L402.35,206.40 L405.83,219.39 L409.30,231.99 L412.77,244.22 L416.25,256.08 L419.73,267.59 L423.20,278.75 L426.68,289.58 L430.15,300.08 L433.62,310.26 L437.10,320.14 L440.58,329.72 L444.05,339.00 L447.53,348.01 L451.00,356.73 L454.48,365.19 L457.95,373.39 L461.43,381.33 L464.90,389.02 L468.38,396.46 L471.85,403.67 L475.32,410.65 L478.80,417.41 L482.27,423.94 L485.75,430.25 L489.23,436.36 L492.70,442.25 L496.18,447.95 L499.65,453.44 L503.12,458.74 L506.60,463.85 L510.07,468.78 L513.55,473.52 L517.02,478.08 L520.50,482.47 L523.98,486.68 L527.45,490.73 L530.92,494.61 L534.40,498.33 L537.88,501.89 L541.35,505.30 L544.83,508.56 L548.30,511.67 L551.77,514.63 L555.25,517.46 L558.73,520.14 L562.20,522.70 L565.67,525.13 L569.15,527.43 L572.62,529.61 L576.10,531.67 L579.58,533.62 L583.05,535.47 L586.52,537.21 L590.00,538.84 L593.48,540.39 L596.95,541.84 L600.42,543.20 L603.90,544.49 L607.38,545.69 L610.85,546.82 L614.33,547.87 L617.80,548.86 L621.27,549.20 L624.75,549.20 L628.22,549.20 L631.70,549.20 L635.17,549.20 L638.65,549.20 L642.12,549.20 L645.60,549.20 L649.08,549.20 L652.55,549.20 L656.02,549.20 L659.50,549.20 L662.97,549.20 L666.45,549.20 L669.92,549.20 L673.40,549.20 L676.88,549.20 L680.35,549.20 L683.82,549.20 L687.30,549.20 L690.77,549.20 L694.25,549.20 L697.72,549.20 L701.20,549.20 L704.67,549.20 L708.15,549.20 L711.62,549.20 L715.10,549.20 L718.57,549.20 L722.05,549.20 L725.52,549.20 L729.00,549.20 L732.47,549.20 L735.95,549.20 L739.42,549.20 L742.90,549.20 L746.38,549.20 L749.85,549.20 L753.32,549.20 L756.80,549.20 L760.27,549.20 L763.75,549.20 L767.22,549.20 L770.70,549.20 L774.17,549.20 L777.65,549.20 L781.12,549.20 L784.60,549.20" stroke="#A60628" stroke-width="1.6" fill="none" stroke-linejoin="round" stroke-linecap="butt"/>
<path d="M367.60,52.92 L368.30,55.07 L368.99,57.22 L369.69,59.37 L370.38,61.51 L371.08,63.64 L371.77,65.77 L372.47,67.89 L373.16,70.01 L373.86,72.13 L374.55,74.24 L375.25,76.34 L375.94,78.44 L376.64,80.54 L377.33,82.63 L378.03,84.71 L378.72,86.79 L379.42,88.87 L380.11,90.94 L380.81,93.00 L381.50,95.07 L384.98,105.29 L388.45,115.40 L391.93,125.38 L395.40,135.23 L398.88,144.96 L402.35,154.56 L405.83,164.04 L409.30,173.39 L412.77,182.62 L416.25,191.73 L419.73,200.71 L423.20,209.57 L426.68,218.30 L430.15,226.91 L433.62,235.40 L437.10,243.77 L440.58,252.01 L444.05,260.13 L447.53,268.14 L451.00,276.02 L454.48,283.78 L457.95,291.43 L461.43,298.95 L464.90,306.35 L468.38,313.64 L471.85,320.81 L475.32,327.85 L478.80,334.79 L482.27,341.60 L485.75,348.29 L489.23,354.87 L492.70,361.33 L496.18,367.68 L499.65,373.90 L503.12,380.01 L506.60,386.01 L510.07,391.88 L513.55,397.64 L517.02,403.28 L520.50,408.81 L523.98,414.22 L527.45,419.51 L530.92,424.68 L534.40,429.74 L537.88,434.68 L541.35,439.51 L544.83,444.22 L548.30,448.81 L551.77,453.28 L555.25,457.64 L558.73,461.88 L562.20,466.01 L565.67,470.02 L569.15,473.92 L572.62,477.70 L576.10,481.37 L579.58,484.92 L583.05,488.36 L586.52,491.69 L590.00,494.91 L593.48,498.02 L596.95,501.02 L600.42,503.91 L603.90,506.70 L607.38,509.38 L610.85,511.95 L614.33,514.43 L617.80,516.81 L621.27,519.08 L624.75,521.26 L628.22,523.35 L631.70,525.35 L635.17,527.25 L638.65,529.07 L642.12,530.81 L645.60,532.46 L649.08,534.03 L652.55,535.53 L656.02,536.95 L659.50,538.30 L662.97,539.58 L666.45,540.80 L669.92,541.95 L673.40,543.05 L676.88,544.08 L680.35,545.06 L683.82,545.99 L687.30,546.86 L690.77,547.69 L694.25,548.48 L697.72,549.17 L701.20,549.20 L704.67,549.20 L708.15,549.20 L711.62,549.20 L715.10,549.20 L718.57,549.20 L722.05,549.20 L725.52,549.20 L729.00,549.20 L732.47,549.20 L735.95,549.20 L739.42,549.20 L742.90,549.20 L746.38,549.20 L749.85,549.20 L753.32,549.20 L756.80,549.20 L760.27,549.20 L763.75,549.20 L767.22,549.20 L770.70,549.20 L774.17,549.20 L777.65,549.20 L781.12,549.20 L784.60,549.20" stroke="#7A68A6" stroke-width="1.6" fill="none" stroke-linejoin="round" stroke-linecap="butt"/>
<path d="M367.60,52.92 L368.30,54.59 L368.99,56.26 L369.69,57.93 L370.38,59.60 L371.08,61.26 L371.77,62.92 L372.47,64.58 L373.16,66.24 L373.86,67.90 L374.55,69.55 L375.25,71.20 L375.94,72.85 L376.64,74.50 L377.33,76.14 L378.03,77.79 L378.72,79.43 L379.42,81.07 L380.11,82.70 L380.81,84.34 L381.50,85.97 L384.98,94.10 L388.45,102.17 L391.93,110.19 L395.40,118.15 L398.88,126.06 L402.35,133.91 L405.83,141.70 L409.30,149.44 L412.77,157.12 L416.25,164.74 L419.73,172.31 L423.20,179.82 L426.68,187.26 L430.15,194.65 L433.62,201.99 L437.10,209.26 L440.58,216.47 L444.05,223.62 L447.53,230.71 L451.00,237.75 L454.48,244.72 L457.95,251.63 L461.43,258.48 L464.90,265.26 L468.38,271.99 L471.85,278.65 L475.32,285.25 L478.80,291.78 L482.27,298.25 L485.75,304.66 L489.23,311.00 L492.70,317.28 L496.18,323.49 L499.65,329.63 L503.12,335.70 L506.60,341.70 L510.07,347.64 L513.55,353.51 L517.02,359.30 L520.50,365.02 L523.98,370.67 L527.45,376.25 L530.92,381.75 L534.40,387.17 L537.88,392.52 L541.35,397.79 L544.83,402.98 L548.30,408.09 L551.77,413.12 L555.25,418.06 L558.73,422.92 L562.20,427.70 L565.67,432.38 L569.15,436.98 L572.62,441.49 L576.10,445.91 L579.58,450.24 L583.05,454.47 L586.52,458.61 L590.00,462.65 L593.48,466.60 L596.95,470.45 L600.42,474.19 L603.90,477.84 L607.38,481.39 L610.85,484.84 L614.33,488.18 L617.80,491.43 L621.27,494.57 L624.75,497.61 L628.22,500.55 L631.70,503.38 L635.17,506.12 L638.65,508.76 L642.12,511.29 L645.60,513.73 L649.08,516.08 L652.55,518.32 L656.02,520.48 L659.50,522.54 L662.97,524.51 L666.45,526.40 L669.92,528.20 L673.40,529.92 L676.88,531.56 L680.35,533.12 L683.82,534.60 L687.30,536.01 L690.77,537.36 L694.25,538.63 L697.72,539.84 L701.20,540.99 L704.67,542.08 L708.15,543.12 L711.62,544.10 L715.10,545.03 L718.57,545.91 L722.05,546.74 L725.52,547.53 L729.00,548.28 L732.47,548.98 L735.95,549.20 L739.42,549.20 L742.90,549.20 L746.38,549.20 L749.85,549.20 L753.32,549.20 L756.80,549.20 L760.27,549.20 L763.75,549.20 L767.22,549.20 L770.70,549.20 L774.17,549.20 L777.65,549.20 L781.12,549.20 L784.60,549.20" stroke="#467821" stroke-width="1.6" fill="none" stroke-linejoin="round" stroke-linecap="butt"/>
<path d="M367.60,52.92 L368.30,54.35 L368.99,55.78 L369.69,57.21 L370.38,58.64 L371.08,60.06 L371.77,61.49 L372.47,62.91 L373.16,64.33 L373.86,65.76 L374.55,67.18 L375.25,68.60 L375.94,70.01 L376.64,71.43 L377.33,72.85 L378.03,74.26 L378.72,75.68 L379.42,77.09 L380.11,78.50 L380.81,79.91 L381.50,81.32 L384.98,88.35 L388.45,95.34 L391.93,102.31 L395.40,109.25 L398.88,116.15 L402.35,123.03 L405.83,129.87 L409.30,136.69 L412.77,143.47 L416.25,150.22 L419.73,156.94 L423.20,163.63 L426.68,170.28 L430.15,176.90 L433.62,183.49 L437.10,190.05 L440.58,196.57 L444.05,203.06 L447.53,209.52 L451.00,215.94 L454.48,222.32 L457.95,228.68 L461.43,234.99 L464.90,241.27 L468.38,247.52 L471.85,253.72 L475.32,259.90 L478.80,266.03 L482.27,272.13 L485.75,278.18 L489.23,284.20 L492.70,290.18 L496.18,296.12 L499.65,302.03 L503.12,307.88 L506.60,313.70 L510.07,319.48 L513.55,325.21 L517.02,330.90 L520.50,336.54 L523.98,342.14 L527.45,347.69 L530.92,353.20 L534.40,358.65 L537.88,364.06 L541.35,369.42 L544.83,374.72 L548.30,379.97 L551.77,385.17 L555.25,390.31 L558.73,395.40 L562.20,400.42 L565.67,405.39 L569.15,410.29 L572.62,415.13 L576.10,419.90 L579.58,424.61 L583.05,429.25 L586.52,433.82 L590.00,438.31 L593.48,442.73 L596.95,447.07 L600.42,451.33 L603.90,455.51 L607.38,459.60 L610.85,463.61 L614.33,467.53 L617.80,471.36 L621.27,475.10 L624.75,478.75 L628.22,482.30 L631.70,485.75 L635.17,489.10 L638.65,492.36 L642.12,495.51 L645.60,498.56 L649.08,501.51 L652.55,504.36 L656.02,507.10 L659.50,509.74 L662.97,512.28 L666.45,514.72 L669.92,517.06 L673.40,519.30 L676.88,521.44 L680.35,523.49 L683.82,525.45 L687.30,527.31 L690.77,529.09 L694.25,530.78 L697.72,532.39 L701.20,533.92 L704.67,535.37 L708.15,536.75 L711.62,538.06 L715.10,539.30 L718.57,540.48 L722.05,541.59 L725.52,542.65 L729.00,543.64 L732.47,544.59 L735.95,545.48 L739.42,546.33 L742.90,547.13 L746.38,547.89 L749.85,548.61 L753.32,549.19 L756.80,549.20 L760.27,549.20 L763.75,549.20 L767.22,549.20 L770.70,549.20 L774.17,549.20 L777.65,549.20 L781.12,549.20 L784.60,549.20" stroke="#D55E00" stroke-width="1.6" fill="none" stroke-linejoin="round" stroke-linecap="butt"/>
<path d="M367.60,52.92 L368.30,54.12 L368.99,55.31 L369.69,56.51 L370.38,57.70 L371.08,58.90 L371.77,60.09 L372.47,61.28 L373.16,62.48 L373.86,63.67 L374.55,64.86 L375.25,66.05 L375.94,67.25 L376.64,68.44 L377.33,69.63 L378.03,70.82 L378.72,72.01 L379.42,73.20 L380.11,74.38 L380.81,75.57 L381.50,76.76 L384.98,82.69 L388.45,88.61 L391.93,94.52 L395.40,100.42 L398.88,106.30 L402.35,112.17 L405.83,118.04 L409.30,123.88 L412.77,129.72 L416.25,135.54 L419.73,141.35 L423.20,147.15 L426.68,152.94 L430.15,158.71 L433.62,164.47 L437.10,170.22 L440.58,175.95 L444.05,181.67 L447.53,187.37 L451.00,193.07 L454.48,198.74 L457.95,204.41 L461.43,210.06 L464.90,215.69 L468.38,221.31 L471.85,226.92 L475.32,232.51 L478.80,238.08 L482.27,243.64 L485.75,249.19 L489.23,254.71 L492.70,260.22 L496.18,265.72 L499.65,271.19 L503.12,276.65 L506.60,282.09 L510.07,287.52 L513.55,292.92 L517.02,298.30 L520.50,303.67 L523.98,309.02 L527.45,314.34 L530.92,319.64 L534.40,324.93 L537.88,330.19 L541.35,335.42 L544.83,340.64 L548.30,345.82 L551.77,350.99 L555.25,356.12 L558.73,361.23 L562.20,366.32 L565.67,371.37 L569.15,376.39 L572.62,381.38 L576.10,386.34 L579.58,391.26 L583.05,396.15 L586.52,401.00 L590.00,405.81 L593.48,410.58 L596.95,415.31 L600.42,419.99 L603.90,424.63 L607.38,429.21 L610.85,433.75 L614.33,438.23 L617.80,442.65 L621.27,447.01 L624.75,451.31 L628.22,455.55 L631.70,459.71 L635.17,463.80 L638.65,467.82 L642.12,471.76 L645.60,475.61 L649.08,479.37 L652.55,483.05 L656.02,486.63 L659.50,490.11 L662.97,493.50 L666.45,496.78 L669.92,499.95 L673.40,503.02 L676.88,505.98 L680.35,508.82 L683.82,511.56 L687.30,514.18 L690.77,516.69 L694.25,519.08 L697.72,521.37 L701.20,523.55 L704.67,525.62 L708.15,527.58 L711.62,529.44 L715.10,531.21 L718.57,532.88 L722.05,534.46 L725.52,535.95 L729.00,537.36 L732.47,538.69 L735.95,539.94 L739.42,541.12 L742.90,542.23 L746.38,543.28 L749.85,544.27 L753.32,545.21 L756.80,546.09 L760.27,546.92 L763.75,547.70 L767.22,548.44 L770.70,549.12 L774.17,549.20 L777.65,549.20 L781.12,549.20 L784.60,549.20" stroke="#CC79A7" stroke-width="1.6" fill="none" stroke-linejoin="round" stroke-linecap="butt"/>
<path d="M367.60,52.92 L368.30,53.92 L368.99,54.92 L369.69,55.92 L370.38,56.93 L371.08,57.93 L371.77,58.93 L372.47,59.93 L373.16,60.93 L373.86,61.93 L374.55,62.94 L375.25,63.94 L375.94,64.94 L376.64,65.94 L377.33,66.94 L378.03,67.94 L378.72,68.94 L379.42,69.94 L380.11,70.95 L380.81,71.95 L381.50,72.95 L384.98,77.95 L388.45,82.96 L391.93,87.96 L395.40,92.96 L398.88,97.96 L402.35,102.96 L405.83,107.96 L409.30,112.96 L412.77,117.96 L416.25,122.96 L419.73,127.95 L423.20,132.95 L426.68,137.94 L430.15,142.93 L433.62,147.93 L437.10,152.92 L440.58,157.91 L444.05,162.89 L447.53,167.88 L451.00,172.86 L454.48,177.85 L457.95,182.83 L461.43,187.81 L464.90,192.79 L468.38,197.77 L471.85,202.74 L475.32,207.72 L478.80,212.69 L482.27,217.66 L485.75,222.63 L489.23,227.60 L492.70,232.56 L496.18,237.52 L499.65,242.48 L503.12,247.44 L506.60,252.40 L510.07,257.35 L513.55,262.30 L517.02,267.24 L520.50,272.18 L523.98,277.12 L527.45,282.06 L530.92,286.99 L534.40,291.92 L537.88,296.84 L541.35,301.76 L544.83,306.68 L548.30,311.59 L551.77,316.49 L555.25,321.39 L558.73,326.29 L562.20,331.17 L565.67,336.06 L569.15,340.93 L572.62,345.79 L576.10,350.65 L579.58,355.50 L583.05,360.34 L586.52,365.17 L590.00,369.99 L593.48,374.80 L596.95,379.59 L600.42,384.38 L603.90,389.14 L607.38,393.90 L610.85,398.63 L614.33,403.35 L617.80,408.05 L621.27,412.73 L624.75,417.39 L628.22,422.02 L631.70,426.63 L635.17,431.20 L638.65,435.75 L642.12,440.26 L645.60,444.74 L649.08,449.18 L652.55,453.57 L656.02,457.92 L659.50,462.21 L662.97,466.45 L666.45,470.63 L669.92,474.75 L673.40,478.79 L676.88,482.75 L680.35,486.64 L683.82,490.43 L687.30,494.13 L690.77,497.72 L694.25,501.21 L697.72,504.58 L701.20,507.83 L704.67,510.96 L708.15,513.95 L711.62,516.81 L715.10,519.53 L718.57,522.11 L722.05,524.56 L725.52,526.86 L729.00,529.03 L732.47,531.07 L735.95,532.98 L739.42,534.76 L742.90,536.43 L746.38,537.99 L749.85,539.44 L753.32,540.79 L756.80,542.05 L760.27,543.22 L763.75,544.31 L767.22,545.33 L770.70,546.28 L774.17,547.16 L777.65,547.99 L781.12,548.76 L784.60,549.20" stroke="#56B4E9" stroke-width="1.6" fill="none" stroke-linejoin="round" stroke-linecap="butt"/>
<path d="M367.60,52.92 L369.70,55.55 L371.79,58.17 L373.89,60.78 L375.98,63.38 L378.08,65.97 L380.17,68.54 L382.27,71.10 L384.36,73.65 L386.46,76.19 L388.55,78.72 L390.65,81.23 L392.75,83.74 L394.84,86.23 L396.94,88.72 L399.03,91.19 L401.13,93.65 L403.22,96.10 L405.32,98.54 L407.41,100.96 L409.51,103.38 L411.61,105.79 L413.70,108.18 L415.80,110.57 L417.89,112.94 L419.99,115.31 L422.08,117.66 L424.18,120.01 L426.27,122.34 L428.37,124.67 L430.46,126.98 L432.56,129.28 L434.66,131.58 L436.75,133.86 L438.85,136.14 L440.94,138.40 L443.04,140.66 L445.13,142.90 L447.23,145.14 L449.32,147.37 L451.42,149.58 L453.51,151.79 L455.61,153.99 L457.71,156.18 L459.80,158.36 L461.90,160.53 L463.99,162.70 L466.09,164.85 L468.18,166.99 L470.28,169.13 L472.37,171.26 L474.47,173.37 L476.56,175.48 L478.66,177.58 L480.76,179.68 L482.85,181.76 L484.95,183.83 L487.04,185.90 L489.14,187.96 L491.23,190.01 L493.33,192.05 L495.42,194.08 L497.52,196.11 L499.62,198.12 L501.71,200.13 L503.81,202.13 L505.90,204.13 L508.00,206.11 L510.09,208.09 L512.19,210.06 L514.28,212.02 L516.38,213.97 L518.47,215.92 L520.57,217.86 L522.67,219.79 L524.76,221.71 L526.86,223.62 L528.95,225.53 L531.05,227.43 L533.14,229.33 L535.24,231.21 L537.33,233.09 L539.43,234.96 L541.52,236.82 L543.62,238.68 L545.72,240.53 L547.81,242.37 L549.91,244.21 L552.00,246.04 L554.10,247.86 L556.19,249.67 L558.29,251.48 L560.38,253.28 L562.48,255.07 L564.57,256.86 L566.67,258.64 L568.77,260.41 L570.86,262.18 L572.96,263.94 L575.05,265.69 L577.15,267.44 L579.24,269.18 L581.34,270.91 L583.43,272.64 L585.53,274.36 L587.63,276.08 L589.72,277.79 L591.82,279.49 L593.91,281.18 L596.01,282.87 L598.10,284.56 L600.20,286.23 L602.29,287.90 L604.39,289.57 L606.48,291.23 L608.58,292.88 L610.68,294.53 L612.77,296.17 L614.87,297.80 L616.96,299.43 L619.06,301.06 L621.15,302.67 L623.25,304.28 L625.34,305.89 L627.44,307.49 L629.53,309.08 L631.63,310.67 L633.73,312.25 L635.82,313.83 L637.92,315.40 L640.01,316.97 L642.11,318.53 L644.20,320.08 L646.30,321.63 L648.39,323.18 L650.49,324.72 L652.58,326.25 L654.68,327.78 L656.78,329.30 L658.87,330.82 L660.97,332.33 L663.06,333.83 L665.16,335.34 L667.25,336.83 L669.35,338.32 L671.44,339.81 L673.54,341.29 L675.64,342.77 L677.73,344.24 L679.83,345.70 L681.92,347.16 L684.02,348.62 L686.11,350.07 L688.21,351.51 L690.30,352.95 L692.40,354.39 L694.49,355.82 L696.59,357.25 L698.69,358.67 L700.78,360.08 L702.88,361.50 L704.97,362.90 L707.07,364.31 L709.16,365.70 L711.26,367.10 L713.35,368.48 L715.45,369.87 L717.54,371.25 L719.64,372.62 L721.74,373.99 L723.83,375.36 L725.93,376.72 L728.02,378.07 L730.12,379.42 L732.21,380.77 L734.31,382.11 L736.40,383.45 L738.50,384.79 L740.59,386.12 L742.69,387.44 L744.79,388.76 L746.88,390.08 L748.98,391.39 L751.07,392.70 L753.17,394.01 L755.26,395.31 L757.36,396.60 L759.45,397.89 L761.55,399.18 L763.65,400.46 L765.74,401.74 L767.84,403.02 L769.93,404.29 L772.03,405.56 L774.12,406.82 L776.22,408.08 L778.31,409.33 L780.41,410.58 L782.50,411.83 L784.60,413.07" stroke="#ff0000" stroke-width="1.6" fill="none" stroke-linejoin="round" stroke-linecap="butt" stroke-dasharray="5.1 2.2"/>
<path d="M367.60,52.92 L367.81,92.10 L368.43,157.40 L369.13,222.70 L369.82,288.00 L370.24,327.18 L370.45,353.30 L370.59,379.42" stroke="#000000" stroke-width="1.6" fill="none" stroke-linejoin="round" stroke-linecap="butt" stroke-dasharray="5.1 2.2"/>
<path d="M366.00 38.95a1.6 1.6 0 1 0 3.2 0a1.6 1.6 0 1 0 -3.2 0M370.21 42.04a1.6 1.6 0 1 0 3.2 0a1.6 1.6 0 1 0 -3.2 0M374.42 45.13a1.6 1.6 0 1 0 3.2 0a1.6 1.6 0 1 0 -3.2 0M378.64 48.22a1.6 1.6 0 1 0 3.2 0a1.6 1.6 0 1 0 -3.2 0M382.85 51.32a1.6 1.6 0 1 0 3.2 0a1.6 1.6 0 1 0 -3.2 0M387.06 54.41a1.6 1.6 0 1 0 3.2 0a1.6 1.6 0 1 0 -3.2 0M391.27 57.50a1.6 1.6 0 1 0 3.2 0a1.6 1.6 0 1 0 -3.2 0M395.48 60.59a1.6 1.6 0 1 0 3.2 0a1.6 1.6 0 1 0 -3.2 0M399.70 63.69a1.6 1.6 0 1 0 3.2 0a1.6 1.6 0 1 0 -3.2 0M403.91 66.78a1.6 1.6 0 1 0 3.2 0a1.6 1.6 0 1 0 -3.2 0M408.12 69.87a1.6 1.6 0 1 0 3.2 0a1.6 1.6 0 1 0 -3.2 0M412.33 72.96a1.6 1.6 0 1 0 3.2 0a1.6 1.6 0 1 0 -3.2 0M416.55 76.06a1.6 1.6 0 1 0 3.2 0a1.6 1.6 0 1 0 -3.2 0M420.76 79.15a1.6 1.6 0 1 0 3.2 0a1.6 1.6 0 1 0 -3.2 0M424.97 82.24a1.6 1.6 0 1 0 3.2 0a1.6 1.6 0 1 0 -3.2 0M429.18 85.33a1.6 1.6 0 1 0 3.2 0a1.6 1.6 0 1 0 -3.2 0M433.39 88.42a1.6 1.6 0 1 0 3.2 0a1.6 1.6 0 1 0 -3.2 0M437.61 91.52a1.6 1.6 0 1 0 3.2 0a1.6 1.6 0 1 0 -3.2 0M441.82 94.61a1.6 1.6 0 1 0 3.2 0a1.6 1.6 0 1 0 -3.2 0M446.03 97.70a1.6 1.6 0 1 0 3.2 0a1.6 1.6 0 1 0 -3.2 0M450.24 100.79a1.6 1.6 0 1 0 3.2 0a1.6 1.6 0 1 0 -3.2 0M454.45 103.89a1.6 1.6 0 1 0 3.2 0a1.6 1.6 0 1 0 -3.2 0M458.67 106.98a1.6 1.6 0 1 0 3.2 0a1.6 1.6 0 1 0 -3.2 0M462.88 110.07a1.6 1.6 0 1 0 3.2 0a1.6 1.6 0 1 0 -3.2 0M467.09 113.16a1.6 1.6 0 1 0 3.2 0a1.6 1.6 0 1 0 -3.2 0M471.30 116.26a1.6 1.6 0 1 0 3.2 0a1.6 1.6 0 1 0 -3.2 0M475.52 119.35a1.6 1.6 0 1 0 3.2 0a1.6 1.6 0 1 0 -3.2 0M479.73 122.44a1.6 1.6 0 1 0 3.2 0a1.6 1.6 0 1 0 -3.2 0M483.94 125.53a1.6 1.6 0 1 0 3.2 0a1.6 1.6 0 1 0 -3.2 0M488.15 128.63a1.6 1.6 0 1 0 3.2 0a1.6 1.6 0 1 0 -3.2 0M492.36 131.72a1.6 1.6 0 1 0 3.2 0a1.6 1.6 0 1 0 -3.2 0M496.58 134.81a1.6 1.6 0 1 0 3.2 0a1.6 1.6 0 1 0 -3.2 0M500.79 137.90a1.6 1.6 0 1 0 3.2 0a1.6 1.6 0 1 0 -3.2 0M505.00 141.00a1.6 1.6 0 1 0 3.2 0a1.6 1.6 0 1 0 -3.2 0M509.21 144.09a1.6 1.6 0 1 0 3.2 0a1.6 1.6 0 1 0 -3.2 0M513.42 147.18a1.6 1.6 0 1 0 3.2 0a1.6 1.6 0 1 0 -3.2 0M517.64 150.27a1.6 1.6 0 1 0 3.2 0a1.6 1.6 0 1 0 -3.2 0M521.85 153.37a1.6 1.6 0 1 0 3.2 0a1.6 1.6 0 1 0 -3.2 0M526.06 156.46a1.6 1.6 0 1 0 3.2 0a1.6 1.6 0 1 0 -3.2 0M530.27 159.55a1.6 1.6 0 1 0 3.2 0a1.6 1.6 0 1 0 -3.2 0M534.48 162.64a1.6 1.6 0 1 0 3.2 0a1.6 1.6 0 1 0 -3.2 0M538.70 165.74a1.6 1.6 0 1 0 3.2 0a1.6 1.6 0 1 0 -3.2 0M542.91 168.83a1.6 1.6 0 1 0 3.2 0a1.6 1.6 0 1 0 -3.2 0M547.12 171.92a1.6 1.6 0 1 0 3.2 0a1.6 1.6 0 1 0 -3.2 0M551.33 175.01a1.6 1.6 0 1 0 3.2 0a1.6 1.6 0 1 0 -3.2 0M555.55 178.11a1.6 1.6 0 1 0 3.2 0a1.6 1.6 0 1 0 -3.2 0M559.76 181.20a1.6 1.6 0 1 0 3.2 0a1.6 1.6 0 1 0 -3.2 0M563.97 184.29a1.6 1.6 0 1 0 3.2 0a1.6 1.6 0 1 0 -3.2 0M568.18 187.38a1.6 1.6 0 1 0 3.2 0a1.6 1.6 0 1 0 -3.2 0M572.39 190.48a1.6 1.6 0 1 0 3.2 0a1.6 1.6 0 1 0 -3.2 0M576.61 193.57a1.6 1.6 0 1 0 3.2 0a1.6 1.6 0 1 0 -3.2 0M580.82 196.66a1.6 1.6 0 1 0 3.2 0a1.6 1.6 0 1 0 -3.2 0M585.03 199.75a1.6 1.6 0 1 0 3.2 0a1.6 1.6 0 1 0 -3.2 0M589.24 202.85a1.6 1.6 0 1 0 3.2 0a1.6 1.6 0 1 0 -3.2 0M593.45 205.94a1.6 1.6 0 1 0 3.2 0a1.6 1.6 0 1 0 -3.2 0M597.67 209.03a1.6 1.6 0 1 0 3.2 0a1.6 1.6 0 1 0 -3.2 0M601.88 212.12a1.6 1.6 0 1 0 3.2 0a1.6 1.6 0 1 0 -3.2 0M606.09 215.22a1.6 1.6 0 1 0 3.2 0a1.6 1.6 0 1 0 -3.2 0M610.30 218.31a1.6 1.6 0 1 0 3.2 0a1.6 1.6 0 1 0 -3.2 0M614.52 221.40a1.6 1.6 0 1 0 3.2 0a1.6 1.6 0 1 0 -3.2 0M618.73 224.49a1.6 1.6 0 1 0 3.2 0a1.6 1.6 0 1 0 -3.2 0M622.94 227.59a1.6 1.6 0 1 0 3.2 0a1.6 1.6 0 1 0 -3.2 0M627.15 230.68a1.6 1.6 0 1 0 3.2 0a1.6 1.6 0 1 0 -3.2 0M631.36 233.77a1.6 1.6 0 1 0 3.2 0a1.6 1.6 0 1 0 -3.2 0M635.58 236.86a1.6 1.6 0 1 0 3.2 0a1.6 1.6 0 1 0 -3.2 0M639.79 239.96a1.6 1.6 0 1 0 3.2 0a1.6 1.6 0 1 0 -3.2 0M644.00 243.05a1.6 1.6 0 1 0 3.2 0a1.6 1.6 0 1 0 -3.2 0M648.21 246.14a1.6 1.6 0 1 0 3.2 0a1.6 1.6 0 1 0 -3.2 0M652.42 249.23a1.6 1.6 0 1 0 3.2 0a1.6 1.6 0 1 0 -3.2 0M656.64 252.32a1.6 1.6 0 1 0 3.2 0a1.6 1.6 0 1 0 -3.2 0M660.85 255.42a1.6 1.6 0 1 0 3.2 0a1.6 1.6 0 1 0 -3.2 0M665.06 258.51a1.6 1.6 0 1 0 3.2 0a1.6 1.6 0 1 0 -3.2 0M669.27 261.60a1.6 1.6 0 1 0 3.2 0a1.6 1.6 0 1 0 -3.2 0M673.48 264.69a1.6 1.6 0 1 0 3.2 0a1.6 1.6 0 1 0 -3.2 0M677.70 267.79a1.6 1.6 0 1 0 3.2 0a1.6 1.6 0 1 0 -3.2 0M681.91 270.88a1.6 1.6 0 1 0 3.2 0a1.6 1.6 0 1 0 -3.2 0M686.12 273.97a1.6 1.6 0 1 0 3.2 0a1.6 1.6 0 1 0 -3.2 0M690.33 277.06a1.6 1.6 0 1 0 3.2 0a1.6 1.6 0 1 0 -3.2 0M694.55 280.16a1.6 1.6 0 1 0 3.2 0a1.6 1.6 0 1 0 -3.2 0M698.76 283.25a1.6 1.6 0 1 0 3.2 0a1.6 1.6 0 1 0 -3.2 0M702.97 286.34a1.6 1.6 0 1 0 3.2 0a1.6 1.6 0 1 0 -3.2 0M707.18 289.43a1.6 1.6 0 1 0 3.2 0a1.6 1.6 0 1 0 -3.2 0M711.39 292.53a1.6 1.6 0 1 0 3.2 0a1.6 1.6 0 1 0 -3.2 0M715.61 295.62a1.6 1.6 0 1 0 3.2 0a1.6 1.6 0 1 0 -3.2 0M719.82 298.71a1.6 1.6 0 1 0 3.2 0a1.6 1.6 0 1 0 -3.2 0M724.03 301.80a1.6 1.6 0 1 0 3.2 0a1.6 1.6 0 1 0 -3.2 0M728.24 304.90a1.6 1.6 0 1 0 3.2 0a1.6 1.6 0 1 0 -3.2 0M732.45 307.99a1.6 1.6 0 1 0 3.2 0a1.6 1.6 0 1 0 -3.2 0M736.67 311.08a1.6 1.6 0 1 0 3.2 0a1.6 1.6 0 1 0 -3.2 0M740.88 314.17a1.6 1.6 0 1 0 3.2 0a1.6 1.6 0 1 0 -3.2 0M745.09 317.27a1.6 1.6 0 1 0 3.2 0a1.6 1.6 0 1 0 -3.2 0M749.30 320.36a1.6 1.6 0 1 0 3.2 0a1.6 1.6 0 1 0 -3.2 0M753.52 323.45a1.6 1.6 0 1 0 3.2 0a1.6 1.6 0 1 0 -3.2 0M757.73 326.54a1.6 1.6 0 1 0 3.2 0a1.6 1.6 0 1 0 -3.2 0M761.94 329.64a1.6 1.6 0 1 0 3.2 0a1.6 1.6 0 1 0 -3.2 0M766.15 332.73a1.6 1.6 0 1 0 3.2 0a1.6 1.6 0 1 0 -3.2 0M770.36 335.82a1.6 1.6 0 1 0 3.2 0a1.6 1.6 0 1 0 -3.2 0M774.58 338.91a1.6 1.6 0 1 0 3.2 0a1.6 1.6 0 1 0 -3.2 0M778.79 342.01a1.6 1.6 0 1 0 3.2 0a1.6 1.6 0 1 0 -3.2 0M783.00 345.10a1.6 1.6 0 1 0 3.2 0a1.6 1.6 0 1 0 -3.2 0" fill="#0000ff"/>
</g>
<rect x="367.6" y="92.1" width="278.00" height="261.20" fill="none" stroke="#bcbcbc" stroke-width="1"/>
<path d="M402.35 353.3v-3M437.10 353.3v-3M471.85 353.3v-3M506.60 353.3v-3M541.35 353.3v-3M576.10 353.3v-3M610.85 353.3v-3M367.6 320.65h3M367.6 288.00h3M367.6 255.35h3M367.6 222.70h3M367.6 190.05h3M367.6 157.40h3M367.6 124.75h3" stroke="#222" stroke-width="0.7" fill="none"/>
<text x="367.60" y="364.40" font-size="10.6" font-family='"Liberation Sans", sans-serif' text-anchor="middle" fill="#000" textLength="23.16" lengthAdjust="spacingAndGlyphs" class="s">0.00</text>
<text x="402.35" y="364.40" font-size="10.6" font-family='"Liberation Sans", sans-serif' text-anchor="middle" fill="#000" textLength="23.16" lengthAdjust="spacingAndGlyphs" class="s">0.05</text>
<text x="437.10" y="364.40" font-size="10.6" font-family='"Liberation Sans", sans-serif' text-anchor="middle" fill="#000" textLength="23.16" lengthAdjust="spacingAndGlyphs" class="s">0.10</text>
<text x="471.85" y="364.40" font-size="10.6" font-family='"Liberation Sans", sans-serif' text-anchor="middle" fill="#000" textLength="23.16" lengthAdjust="spacingAndGlyphs" class="s">0.15</text>
<text x="506.60" y="364.40" font-size="10.6" font-family='"Liberation Sans", sans-serif' text-anchor="middle" fill="#000" textLength="23.16" lengthAdjust="spacingAndGlyphs" class="s">0.20</text>
<text x="541.35" y="364.40" font-size="10.6" font-family='"Liberation Sans", sans-serif' text-anchor="middle" fill="#000" textLength="23.16" lengthAdjust="spacingAndGlyphs" class="s">0.25</text>
<text x="576.10" y="364.40" font-size="10.6" font-family='"Liberation Sans", sans-serif' text-anchor="middle" fill="#000" textLength="23.16" lengthAdjust="spacingAndGlyphs" class="s">0.30</text>
<text x="610.85" y="364.40" font-size="10.6" font-family='"Liberation Sans", sans-serif' text-anchor="middle" fill="#000" textLength="23.16" lengthAdjust="spacingAndGlyphs" class="s">0.35</text>
<text x="645.60" y="364.40" font-size="10.6" font-family='"Liberation Sans", sans-serif' text-anchor="middle" fill="#000" textLength="23.16" lengthAdjust="spacingAndGlyphs" class="s">0.40</text>
<text x="364.10" y="357.50" font-size="10.6" font-family='"Liberation Sans", sans-serif' text-anchor="end" fill="#000" textLength="23.16" lengthAdjust="spacingAndGlyphs" class="s">15.0</text>
<text x="364.10" y="324.85" font-size="10.6" font-family='"Liberation Sans", sans-serif' text-anchor="end" fill="#000" textLength="23.16" lengthAdjust="spacingAndGlyphs" class="s">17.5</text>
<text x="364.10" y="292.20" font-size="10.6" font-family='"Liberation Sans", sans-serif' text-anchor="end" fill="#000" textLength="23.16" lengthAdjust="spacingAndGlyphs" class="s">20.0</text>
<text x="364.10" y="259.55" font-size="10.6" font-family='"Liberation Sans", sans-serif' text-anchor="end" fill="#000" textLength="23.16" lengthAdjust="spacingAndGlyphs" class="s">22.5</text>
<text x="364.10" y="226.90" font-size="10.6" font-family='"Liberation Sans", sans-serif' text-anchor="end" fill="#000" textLength="23.16" lengthAdjust="spacingAndGlyphs" class="s">25.0</text>
<text x="364.10" y="194.25" font-size="10.6" font-family='"Liberation Sans", sans-serif' text-anchor="end" fill="#000" textLength="23.16" lengthAdjust="spacingAndGlyphs" class="s">27.5</text>
<text x="364.10" y="161.60" font-size="10.6" font-family='"Liberation Sans", sans-serif' text-anchor="end" fill="#000" textLength="23.16" lengthAdjust="spacingAndGlyphs" class="s">30.0</text>
<text x="364.10" y="128.95" font-size="10.6" font-family='"Liberation Sans", sans-serif' text-anchor="end" fill="#000" textLength="23.16" lengthAdjust="spacingAndGlyphs" class="s">32.5</text>
<text x="364.10" y="96.30" font-size="10.6" font-family='"Liberation Sans", sans-serif' text-anchor="end" fill="#000" textLength="23.16" lengthAdjust="spacingAndGlyphs" class="s">35.0</text>
<g clip-path="url(#cTR)">
<path d="M436.80,250.40 L433.50,257.00 L440.10,257.00Z" fill="#ff0000"/>
<path d="M528.10,306.50 L531.24,308.78 L530.04,312.47 L526.16,312.47 L524.96,308.78Z" fill="#ff0000"/>
<path d="M424.50,258.00 L427.64,260.28 L426.44,263.97 L422.56,263.97 L421.36,260.28Z" fill="#0000ff"/>
<path d="M449.90,285.80 L450.71,288.29 L453.32,288.29 L451.21,289.82 L452.02,292.31 L449.90,290.78 L447.78,292.31 L448.59,289.82 L446.48,288.29 L449.09,288.29Z" fill="#ff0000"/>
<path d="M438.80,266.10 L443.40,270.70 L438.80,275.30 L434.20,270.70Z" fill="#ff0000"/>
<path d="M419.30,100.50 L423.90,105.10 L419.30,109.70 L414.70,105.10Z" fill="#000000"/>
</g>
<clipPath id="cBL"><rect x="49.6" y="441.1" width="279.00" height="260.90"/></clipPath>
<rect x="49.6" y="441.1" width="279.00" height="260.90" fill="#eeeeee"/>
<path d="M89.46 441.1V702.0M129.31 441.1V702.0M169.17 441.1V702.0M209.03 441.1V702.0M248.89 441.1V702.0M288.74 441.1V702.0M49.6 649.82H328.6M49.6 597.64H328.6M49.6 545.46H328.6M49.6 493.28H328.6" stroke="#b4b4b4" stroke-width="0.7" stroke-dasharray="1.5 0.6" fill="none"/>
<g clip-path="url(#cBL)">
<path d="M136.9 510.2a2.6 2.6 0 1 0 5.2 0a2.6 2.6 0 1 0 -5.2 0M145.6 511.9a2.6 2.6 0 1 0 5.2 0a2.6 2.6 0 1 0 -5.2 0M131.7 514.2a2.6 2.6 0 1 0 5.2 0a2.6 2.6 0 1 0 -5.2 0M144.9 521.8a2.6 2.6 0 1 0 5.2 0a2.6 2.6 0 1 0 -5.2 0M128.5 522.8a2.6 2.6 0 1 0 5.2 0a2.6 2.6 0 1 0 -5.2 0M151.3 525.1a2.6 2.6 0 1 0 5.2 0a2.6 2.6 0 1 0 -5.2 0M156.5 524.9a2.6 2.6 0 1 0 5.2 0a2.6 2.6 0 1 0 -5.2 0M144.7 527.0a2.6 2.6 0 1 0 5.2 0a2.6 2.6 0 1 0 -5.2 0M163.5 529.4a2.6 2.6 0 1 0 5.2 0a2.6 2.6 0 1 0 -5.2 0M132.8 531.8a2.6 2.6 0 1 0 5.2 0a2.6 2.6 0 1 0 -5.2 0M118.6 535.1a2.6 2.6 0 1 0 5.2 0a2.6 2.6 0 1 0 -5.2 0M141.3 531.3a2.6 2.6 0 1 0 5.2 0a2.6 2.6 0 1 0 -5.2 0M149.9 534.2a2.6 2.6 0 1 0 5.2 0a2.6 2.6 0 1 0 -5.2 0M135.2 536.1a2.6 2.6 0 1 0 5.2 0a2.6 2.6 0 1 0 -5.2 0M143.7 535.6a2.6 2.6 0 1 0 5.2 0a2.6 2.6 0 1 0 -5.2 0M157.5 536.5a2.6 2.6 0 1 0 5.2 0a2.6 2.6 0 1 0 -5.2 0M164.6 535.6a2.6 2.6 0 1 0 5.2 0a2.6 2.6 0 1 0 -5.2 0M169.3 535.6a2.6 2.6 0 1 0 5.2 0a2.6 2.6 0 1 0 -5.2 0M171.7 537.5a2.6 2.6 0 1 0 5.2 0a2.6 2.6 0 1 0 -5.2 0M116.7 538.9a2.6 2.6 0 1 0 5.2 0a2.6 2.6 0 1 0 -5.2 0M126.6 538.4a2.6 2.6 0 1 0 5.2 0a2.6 2.6 0 1 0 -5.2 0M122.8 542.2a2.6 2.6 0 1 0 5.2 0a2.6 2.6 0 1 0 -5.2 0M131.4 539.9a2.6 2.6 0 1 0 5.2 0a2.6 2.6 0 1 0 -5.2 0M139.0 538.9a2.6 2.6 0 1 0 5.2 0a2.6 2.6 0 1 0 -5.2 0M139.9 541.8a2.6 2.6 0 1 0 5.2 0a2.6 2.6 0 1 0 -5.2 0M144.7 540.8a2.6 2.6 0 1 0 5.2 0a2.6 2.6 0 1 0 -5.2 0M153.2 539.9a2.6 2.6 0 1 0 5.2 0a2.6 2.6 0 1 0 -5.2 0M159.4 538.9a2.6 2.6 0 1 0 5.2 0a2.6 2.6 0 1 0 -5.2 0M161.7 541.8a2.6 2.6 0 1 0 5.2 0a2.6 2.6 0 1 0 -5.2 0M165.1 541.8a2.6 2.6 0 1 0 5.2 0a2.6 2.6 0 1 0 -5.2 0M117.6 547.4a2.6 2.6 0 1 0 5.2 0a2.6 2.6 0 1 0 -5.2 0M129.5 543.7a2.6 2.6 0 1 0 5.2 0a2.6 2.6 0 1 0 -5.2 0M135.2 544.6a2.6 2.6 0 1 0 5.2 0a2.6 2.6 0 1 0 -5.2 0M140.9 544.6a2.6 2.6 0 1 0 5.2 0a2.6 2.6 0 1 0 -5.2 0M146.6 543.7a2.6 2.6 0 1 0 5.2 0a2.6 2.6 0 1 0 -5.2 0M151.3 545.1a2.6 2.6 0 1 0 5.2 0a2.6 2.6 0 1 0 -5.2 0M156.1 544.6a2.6 2.6 0 1 0 5.2 0a2.6 2.6 0 1 0 -5.2 0M161.7 544.6a2.6 2.6 0 1 0 5.2 0a2.6 2.6 0 1 0 -5.2 0M167.4 547.4a2.6 2.6 0 1 0 5.2 0a2.6 2.6 0 1 0 -5.2 0M171.2 545.5a2.6 2.6 0 1 0 5.2 0a2.6 2.6 0 1 0 -5.2 0M175.0 544.6a2.6 2.6 0 1 0 5.2 0a2.6 2.6 0 1 0 -5.2 0M121.4 555.0a2.6 2.6 0 1 0 5.2 0a2.6 2.6 0 1 0 -5.2 0M168.8 535.2a2.6 2.6 0 1 0 5.2 0a2.6 2.6 0 1 0 -5.2 0M171.7 537.1a2.6 2.6 0 1 0 5.2 0a2.6 2.6 0 1 0 -5.2 0M175.5 544.2a2.6 2.6 0 1 0 5.2 0a2.6 2.6 0 1 0 -5.2 0M179.3 543.7a2.6 2.6 0 1 0 5.2 0a2.6 2.6 0 1 0 -5.2 0M181.2 545.1a2.6 2.6 0 1 0 5.2 0a2.6 2.6 0 1 0 -5.2 0M172.6 550.4a2.6 2.6 0 1 0 5.2 0a2.6 2.6 0 1 0 -5.2 0M167.9 551.3a2.6 2.6 0 1 0 5.2 0a2.6 2.6 0 1 0 -5.2 0M178.3 553.7a2.6 2.6 0 1 0 5.2 0a2.6 2.6 0 1 0 -5.2 0M175.0 559.9a2.6 2.6 0 1 0 5.2 0a2.6 2.6 0 1 0 -5.2 0M187.3 564.1a2.6 2.6 0 1 0 5.2 0a2.6 2.6 0 1 0 -5.2 0M176.9 564.6a2.6 2.6 0 1 0 5.2 0a2.6 2.6 0 1 0 -5.2 0M171.2 563.7a2.6 2.6 0 1 0 5.2 0a2.6 2.6 0 1 0 -5.2 0M169.3 567.4a2.6 2.6 0 1 0 5.2 0a2.6 2.6 0 1 0 -5.2 0M174.0 568.4a2.6 2.6 0 1 0 5.2 0a2.6 2.6 0 1 0 -5.2 0M188.8 573.1a2.6 2.6 0 1 0 5.2 0a2.6 2.6 0 1 0 -5.2 0M193.0 577.4a2.6 2.6 0 1 0 5.2 0a2.6 2.6 0 1 0 -5.2 0M179.7 575.0a2.6 2.6 0 1 0 5.2 0a2.6 2.6 0 1 0 -5.2 0M183.5 577.9a2.6 2.6 0 1 0 5.2 0a2.6 2.6 0 1 0 -5.2 0M177.8 578.8a2.6 2.6 0 1 0 5.2 0a2.6 2.6 0 1 0 -5.2 0M173.1 576.9a2.6 2.6 0 1 0 5.2 0a2.6 2.6 0 1 0 -5.2 0M169.3 575.0a2.6 2.6 0 1 0 5.2 0a2.6 2.6 0 1 0 -5.2 0M184.5 582.6a2.6 2.6 0 1 0 5.2 0a2.6 2.6 0 1 0 -5.2 0M190.2 584.5a2.6 2.6 0 1 0 5.2 0a2.6 2.6 0 1 0 -5.2 0M172.1 581.7a2.6 2.6 0 1 0 5.2 0a2.6 2.6 0 1 0 -5.2 0M167.4 580.7a2.6 2.6 0 1 0 5.2 0a2.6 2.6 0 1 0 -5.2 0M193.0 577.8a2.6 2.6 0 1 0 5.2 0a2.6 2.6 0 1 0 -5.2 0M190.2 585.4a2.6 2.6 0 1 0 5.2 0a2.6 2.6 0 1 0 -5.2 0M191.6 585.0a2.6 2.6 0 1 0 5.2 0a2.6 2.6 0 1 0 -5.2 0M184.5 584.0a2.6 2.6 0 1 0 5.2 0a2.6 2.6 0 1 0 -5.2 0M181.6 589.2a2.6 2.6 0 1 0 5.2 0a2.6 2.6 0 1 0 -5.2 0M183.1 594.9a2.6 2.6 0 1 0 5.2 0a2.6 2.6 0 1 0 -5.2 0M177.8 594.5a2.6 2.6 0 1 0 5.2 0a2.6 2.6 0 1 0 -5.2 0M189.2 591.1a2.6 2.6 0 1 0 5.2 0a2.6 2.6 0 1 0 -5.2 0M200.1 600.1a2.6 2.6 0 1 0 5.2 0a2.6 2.6 0 1 0 -5.2 0M201.1 603.5a2.6 2.6 0 1 0 5.2 0a2.6 2.6 0 1 0 -5.2 0M192.1 607.3a2.6 2.6 0 1 0 5.2 0a2.6 2.6 0 1 0 -5.2 0M195.9 605.4a2.6 2.6 0 1 0 5.2 0a2.6 2.6 0 1 0 -5.2 0M191.1 608.2a2.6 2.6 0 1 0 5.2 0a2.6 2.6 0 1 0 -5.2 0M194.9 614.9a2.6 2.6 0 1 0 5.2 0a2.6 2.6 0 1 0 -5.2 0M190.2 613.0a2.6 2.6 0 1 0 5.2 0a2.6 2.6 0 1 0 -5.2 0M205.4 617.2a2.6 2.6 0 1 0 5.2 0a2.6 2.6 0 1 0 -5.2 0M195.9 620.5a2.6 2.6 0 1 0 5.2 0a2.6 2.6 0 1 0 -5.2 0M203.5 625.3a2.6 2.6 0 1 0 5.2 0a2.6 2.6 0 1 0 -5.2 0M201.6 628.1a2.6 2.6 0 1 0 5.2 0a2.6 2.6 0 1 0 -5.2 0M204.4 631.9a2.6 2.6 0 1 0 5.2 0a2.6 2.6 0 1 0 -5.2 0M197.8 630.0a2.6 2.6 0 1 0 5.2 0a2.6 2.6 0 1 0 -5.2 0M193.0 634.8a2.6 2.6 0 1 0 5.2 0a2.6 2.6 0 1 0 -5.2 0M206.3 635.7a2.6 2.6 0 1 0 5.2 0a2.6 2.6 0 1 0 -5.2 0M179.7 628.1a2.6 2.6 0 1 0 5.2 0a2.6 2.6 0 1 0 -5.2 0M183.5 631.0a2.6 2.6 0 1 0 5.2 0a2.6 2.6 0 1 0 -5.2 0M177.8 629.1a2.6 2.6 0 1 0 5.2 0a2.6 2.6 0 1 0 -5.2 0M184.5 633.8a2.6 2.6 0 1 0 5.2 0a2.6 2.6 0 1 0 -5.2 0M171.2 635.7a2.6 2.6 0 1 0 5.2 0a2.6 2.6 0 1 0 -5.2 0M215.8 615.8a2.6 2.6 0 1 0 5.2 0a2.6 2.6 0 1 0 -5.2 0M216.7 618.7a2.6 2.6 0 1 0 5.2 0a2.6 2.6 0 1 0 -5.2 0M213.9 627.2a2.6 2.6 0 1 0 5.2 0a2.6 2.6 0 1 0 -5.2 0M226.2 624.3a2.6 2.6 0 1 0 5.2 0a2.6 2.6 0 1 0 -5.2 0M229.1 628.1a2.6 2.6 0 1 0 5.2 0a2.6 2.6 0 1 0 -5.2 0M212.0 633.8a2.6 2.6 0 1 0 5.2 0a2.6 2.6 0 1 0 -5.2 0M228.1 633.8a2.6 2.6 0 1 0 5.2 0a2.6 2.6 0 1 0 -5.2 0M230.0 608.2a2.6 2.6 0 1 0 5.2 0a2.6 2.6 0 1 0 -5.2 0M128.1 620.9a2.6 2.6 0 1 0 5.2 0a2.6 2.6 0 1 0 -5.2 0M136.1 621.9a2.6 2.6 0 1 0 5.2 0a2.6 2.6 0 1 0 -5.2 0M136.1 625.7a2.6 2.6 0 1 0 5.2 0a2.6 2.6 0 1 0 -5.2 0M136.6 629.0a2.6 2.6 0 1 0 5.2 0a2.6 2.6 0 1 0 -5.2 0M142.8 628.1a2.6 2.6 0 1 0 5.2 0a2.6 2.6 0 1 0 -5.2 0M137.1 634.7a2.6 2.6 0 1 0 5.2 0a2.6 2.6 0 1 0 -5.2 0M139.9 633.8a2.6 2.6 0 1 0 5.2 0a2.6 2.6 0 1 0 -5.2 0M130.9 640.4a2.6 2.6 0 1 0 5.2 0a2.6 2.6 0 1 0 -5.2 0M146.6 636.6a2.6 2.6 0 1 0 5.2 0a2.6 2.6 0 1 0 -5.2 0M148.5 645.6a2.6 2.6 0 1 0 5.2 0a2.6 2.6 0 1 0 -5.2 0M148.5 650.4a2.6 2.6 0 1 0 5.2 0a2.6 2.6 0 1 0 -5.2 0M152.3 644.2a2.6 2.6 0 1 0 5.2 0a2.6 2.6 0 1 0 -5.2 0M137.5 655.6a2.6 2.6 0 1 0 5.2 0a2.6 2.6 0 1 0 -5.2 0M141.3 656.1a2.6 2.6 0 1 0 5.2 0a2.6 2.6 0 1 0 -5.2 0M151.3 657.5a2.6 2.6 0 1 0 5.2 0a2.6 2.6 0 1 0 -5.2 0M152.3 659.9a2.6 2.6 0 1 0 5.2 0a2.6 2.6 0 1 0 -5.2 0M145.6 663.2a2.6 2.6 0 1 0 5.2 0a2.6 2.6 0 1 0 -5.2 0M155.1 662.7a2.6 2.6 0 1 0 5.2 0a2.6 2.6 0 1 0 -5.2 0M154.2 668.4a2.6 2.6 0 1 0 5.2 0a2.6 2.6 0 1 0 -5.2 0M159.8 668.4a2.6 2.6 0 1 0 5.2 0a2.6 2.6 0 1 0 -5.2 0M146.6 680.3a2.6 2.6 0 1 0 5.2 0a2.6 2.6 0 1 0 -5.2 0M155.1 678.8a2.6 2.6 0 1 0 5.2 0a2.6 2.6 0 1 0 -5.2 0M158.4 677.9a2.6 2.6 0 1 0 5.2 0a2.6 2.6 0 1 0 -5.2 0M165.5 678.4a2.6 2.6 0 1 0 5.2 0a2.6 2.6 0 1 0 -5.2 0M161.7 655.1a2.6 2.6 0 1 0 5.2 0a2.6 2.6 0 1 0 -5.2 0M165.1 654.2a2.6 2.6 0 1 0 5.2 0a2.6 2.6 0 1 0 -5.2 0M170.3 654.2a2.6 2.6 0 1 0 5.2 0a2.6 2.6 0 1 0 -5.2 0M175.0 650.4a2.6 2.6 0 1 0 5.2 0a2.6 2.6 0 1 0 -5.2 0M176.9 655.1a2.6 2.6 0 1 0 5.2 0a2.6 2.6 0 1 0 -5.2 0M176.0 659.9a2.6 2.6 0 1 0 5.2 0a2.6 2.6 0 1 0 -5.2 0M161.3 642.3a2.6 2.6 0 1 0 5.2 0a2.6 2.6 0 1 0 -5.2 0M161.7 647.5a2.6 2.6 0 1 0 5.2 0a2.6 2.6 0 1 0 -5.2 0M169.3 642.8a2.6 2.6 0 1 0 5.2 0a2.6 2.6 0 1 0 -5.2 0M170.3 639.0a2.6 2.6 0 1 0 5.2 0a2.6 2.6 0 1 0 -5.2 0M173.1 629.5a2.6 2.6 0 1 0 5.2 0a2.6 2.6 0 1 0 -5.2 0M170.3 634.2a2.6 2.6 0 1 0 5.2 0a2.6 2.6 0 1 0 -5.2 0M169.3 637.8a2.6 2.6 0 1 0 5.2 0a2.6 2.6 0 1 0 -5.2 0M171.2 643.5a2.6 2.6 0 1 0 5.2 0a2.6 2.6 0 1 0 -5.2 0M168.3 640.7a2.6 2.6 0 1 0 5.2 0a2.6 2.6 0 1 0 -5.2 0M178.8 636.4a2.6 2.6 0 1 0 5.2 0a2.6 2.6 0 1 0 -5.2 0M186.4 641.6a2.6 2.6 0 1 0 5.2 0a2.6 2.6 0 1 0 -5.2 0M185.0 644.5a2.6 2.6 0 1 0 5.2 0a2.6 2.6 0 1 0 -5.2 0M192.5 640.7a2.6 2.6 0 1 0 5.2 0a2.6 2.6 0 1 0 -5.2 0M193.0 635.9a2.6 2.6 0 1 0 5.2 0a2.6 2.6 0 1 0 -5.2 0M200.6 640.7a2.6 2.6 0 1 0 5.2 0a2.6 2.6 0 1 0 -5.2 0M203.5 637.8a2.6 2.6 0 1 0 5.2 0a2.6 2.6 0 1 0 -5.2 0M206.3 637.8a2.6 2.6 0 1 0 5.2 0a2.6 2.6 0 1 0 -5.2 0M189.2 648.3a2.6 2.6 0 1 0 5.2 0a2.6 2.6 0 1 0 -5.2 0M198.7 648.3a2.6 2.6 0 1 0 5.2 0a2.6 2.6 0 1 0 -5.2 0M201.6 651.1a2.6 2.6 0 1 0 5.2 0a2.6 2.6 0 1 0 -5.2 0M202.5 654.0a2.6 2.6 0 1 0 5.2 0a2.6 2.6 0 1 0 -5.2 0M204.4 652.1a2.6 2.6 0 1 0 5.2 0a2.6 2.6 0 1 0 -5.2 0M175.0 650.2a2.6 2.6 0 1 0 5.2 0a2.6 2.6 0 1 0 -5.2 0M177.8 649.2a2.6 2.6 0 1 0 5.2 0a2.6 2.6 0 1 0 -5.2 0M170.2 654.0a2.6 2.6 0 1 0 5.2 0a2.6 2.6 0 1 0 -5.2 0M178.8 655.4a2.6 2.6 0 1 0 5.2 0a2.6 2.6 0 1 0 -5.2 0M182.1 657.8a2.6 2.6 0 1 0 5.2 0a2.6 2.6 0 1 0 -5.2 0M176.9 660.1a2.6 2.6 0 1 0 5.2 0a2.6 2.6 0 1 0 -5.2 0M190.6 656.8a2.6 2.6 0 1 0 5.2 0a2.6 2.6 0 1 0 -5.2 0M184.0 666.3a2.6 2.6 0 1 0 5.2 0a2.6 2.6 0 1 0 -5.2 0M187.3 668.7a2.6 2.6 0 1 0 5.2 0a2.6 2.6 0 1 0 -5.2 0M178.3 670.6a2.6 2.6 0 1 0 5.2 0a2.6 2.6 0 1 0 -5.2 0M176.4 673.0a2.6 2.6 0 1 0 5.2 0a2.6 2.6 0 1 0 -5.2 0M181.2 677.2a2.6 2.6 0 1 0 5.2 0a2.6 2.6 0 1 0 -5.2 0M193.5 676.8a2.6 2.6 0 1 0 5.2 0a2.6 2.6 0 1 0 -5.2 0M198.7 677.2a2.6 2.6 0 1 0 5.2 0a2.6 2.6 0 1 0 -5.2 0M201.6 673.0a2.6 2.6 0 1 0 5.2 0a2.6 2.6 0 1 0 -5.2 0M207.3 677.2a2.6 2.6 0 1 0 5.2 0a2.6 2.6 0 1 0 -5.2 0M214.8 680.5a2.6 2.6 0 1 0 5.2 0a2.6 2.6 0 1 0 -5.2 0M213.9 678.7a2.6 2.6 0 1 0 5.2 0a2.6 2.6 0 1 0 -5.2 0M204.4 682.9a2.6 2.6 0 1 0 5.2 0a2.6 2.6 0 1 0 -5.2 0M210.1 684.8a2.6 2.6 0 1 0 5.2 0a2.6 2.6 0 1 0 -5.2 0M183.5 689.1a2.6 2.6 0 1 0 5.2 0a2.6 2.6 0 1 0 -5.2 0M187.3 691.5a2.6 2.6 0 1 0 5.2 0a2.6 2.6 0 1 0 -5.2 0M167.4 678.7a2.6 2.6 0 1 0 5.2 0a2.6 2.6 0 1 0 -5.2 0M212.0 636.4a2.6 2.6 0 1 0 5.2 0a2.6 2.6 0 1 0 -5.2 0M224.3 642.6a2.6 2.6 0 1 0 5.2 0a2.6 2.6 0 1 0 -5.2 0M228.1 651.1a2.6 2.6 0 1 0 5.2 0a2.6 2.6 0 1 0 -5.2 0M231.5 654.9a2.6 2.6 0 1 0 5.2 0a2.6 2.6 0 1 0 -5.2 0M213.9 676.8a2.6 2.6 0 1 0 5.2 0a2.6 2.6 0 1 0 -5.2 0M253.6 691.2a2.6 2.6 0 1 0 5.2 0a2.6 2.6 0 1 0 -5.2 0M136.6 510.3a2.6 2.6 0 1 0 5.2 0a2.6 2.6 0 1 0 -5.2 0M131.3 514.2a2.6 2.6 0 1 0 5.2 0a2.6 2.6 0 1 0 -5.2 0M145.7 512.0a2.6 2.6 0 1 0 5.2 0a2.6 2.6 0 1 0 -5.2 0M128.4 522.8a2.6 2.6 0 1 0 5.2 0a2.6 2.6 0 1 0 -5.2 0M144.8 521.6a2.6 2.6 0 1 0 5.2 0a2.6 2.6 0 1 0 -5.2 0M118.5 535.0a2.6 2.6 0 1 0 5.2 0a2.6 2.6 0 1 0 -5.2 0M116.2 539.1a2.6 2.6 0 1 0 5.2 0a2.6 2.6 0 1 0 -5.2 0M117.9 547.3a2.6 2.6 0 1 0 5.2 0a2.6 2.6 0 1 0 -5.2 0M121.4 554.9a2.6 2.6 0 1 0 5.2 0a2.6 2.6 0 1 0 -5.2 0M123.2 542.0a2.6 2.6 0 1 0 5.2 0a2.6 2.6 0 1 0 -5.2 0M141.0 534.1a2.6 2.6 0 1 0 5.2 0a2.6 2.6 0 1 0 -5.2 0M145.0 534.7a2.6 2.6 0 1 0 5.2 0a2.6 2.6 0 1 0 -5.2 0M132.5 538.9a2.6 2.6 0 1 0 5.2 0a2.6 2.6 0 1 0 -5.2 0M138.9 540.7a2.6 2.6 0 1 0 5.2 0a2.6 2.6 0 1 0 -5.2 0M142.9 539.7a2.6 2.6 0 1 0 5.2 0a2.6 2.6 0 1 0 -5.2 0M146.7 539.8a2.6 2.6 0 1 0 5.2 0a2.6 2.6 0 1 0 -5.2 0M154.4 540.9a2.6 2.6 0 1 0 5.2 0a2.6 2.6 0 1 0 -5.2 0M160.4 538.2a2.6 2.6 0 1 0 5.2 0a2.6 2.6 0 1 0 -5.2 0M164.2 539.7a2.6 2.6 0 1 0 5.2 0a2.6 2.6 0 1 0 -5.2 0M134.4 545.2a2.6 2.6 0 1 0 5.2 0a2.6 2.6 0 1 0 -5.2 0M142.0 542.4a2.6 2.6 0 1 0 5.2 0a2.6 2.6 0 1 0 -5.2 0M144.5 542.7a2.6 2.6 0 1 0 5.2 0a2.6 2.6 0 1 0 -5.2 0M150.1 543.7a2.6 2.6 0 1 0 5.2 0a2.6 2.6 0 1 0 -5.2 0M156.8 542.8a2.6 2.6 0 1 0 5.2 0a2.6 2.6 0 1 0 -5.2 0M160.0 543.4a2.6 2.6 0 1 0 5.2 0a2.6 2.6 0 1 0 -5.2 0M166.8 544.0a2.6 2.6 0 1 0 5.2 0a2.6 2.6 0 1 0 -5.2 0M174.4 544.4a2.6 2.6 0 1 0 5.2 0a2.6 2.6 0 1 0 -5.2 0M131.1 547.1a2.6 2.6 0 1 0 5.2 0a2.6 2.6 0 1 0 -5.2 0M137.0 546.7a2.6 2.6 0 1 0 5.2 0a2.6 2.6 0 1 0 -5.2 0M141.1 547.1a2.6 2.6 0 1 0 5.2 0a2.6 2.6 0 1 0 -5.2 0M146.9 547.9a2.6 2.6 0 1 0 5.2 0a2.6 2.6 0 1 0 -5.2 0M152.0 549.8a2.6 2.6 0 1 0 5.2 0a2.6 2.6 0 1 0 -5.2 0M159.6 547.1a2.6 2.6 0 1 0 5.2 0a2.6 2.6 0 1 0 -5.2 0M163.7 547.8a2.6 2.6 0 1 0 5.2 0a2.6 2.6 0 1 0 -5.2 0M169.5 547.0a2.6 2.6 0 1 0 5.2 0a2.6 2.6 0 1 0 -5.2 0M176.7 550.3a2.6 2.6 0 1 0 5.2 0a2.6 2.6 0 1 0 -5.2 0M129.7 551.3a2.6 2.6 0 1 0 5.2 0a2.6 2.6 0 1 0 -5.2 0M135.0 554.9a2.6 2.6 0 1 0 5.2 0a2.6 2.6 0 1 0 -5.2 0M141.7 553.8a2.6 2.6 0 1 0 5.2 0a2.6 2.6 0 1 0 -5.2 0M144.8 552.6a2.6 2.6 0 1 0 5.2 0a2.6 2.6 0 1 0 -5.2 0M149.8 554.1a2.6 2.6 0 1 0 5.2 0a2.6 2.6 0 1 0 -5.2 0M156.6 554.1a2.6 2.6 0 1 0 5.2 0a2.6 2.6 0 1 0 -5.2 0M161.3 552.0a2.6 2.6 0 1 0 5.2 0a2.6 2.6 0 1 0 -5.2 0M168.5 554.9a2.6 2.6 0 1 0 5.2 0a2.6 2.6 0 1 0 -5.2 0M174.0 554.2a2.6 2.6 0 1 0 5.2 0a2.6 2.6 0 1 0 -5.2 0M179.3 554.0a2.6 2.6 0 1 0 5.2 0a2.6 2.6 0 1 0 -5.2 0M133.9 557.2a2.6 2.6 0 1 0 5.2 0a2.6 2.6 0 1 0 -5.2 0M136.5 556.7a2.6 2.6 0 1 0 5.2 0a2.6 2.6 0 1 0 -5.2 0M141.9 556.6a2.6 2.6 0 1 0 5.2 0a2.6 2.6 0 1 0 -5.2 0M148.9 559.3a2.6 2.6 0 1 0 5.2 0a2.6 2.6 0 1 0 -5.2 0M155.1 557.7a2.6 2.6 0 1 0 5.2 0a2.6 2.6 0 1 0 -5.2 0M159.8 558.9a2.6 2.6 0 1 0 5.2 0a2.6 2.6 0 1 0 -5.2 0M163.0 558.4a2.6 2.6 0 1 0 5.2 0a2.6 2.6 0 1 0 -5.2 0M171.5 558.8a2.6 2.6 0 1 0 5.2 0a2.6 2.6 0 1 0 -5.2 0M176.3 557.7a2.6 2.6 0 1 0 5.2 0a2.6 2.6 0 1 0 -5.2 0M179.6 558.9a2.6 2.6 0 1 0 5.2 0a2.6 2.6 0 1 0 -5.2 0M131.0 563.6a2.6 2.6 0 1 0 5.2 0a2.6 2.6 0 1 0 -5.2 0M133.6 563.7a2.6 2.6 0 1 0 5.2 0a2.6 2.6 0 1 0 -5.2 0M142.1 563.0a2.6 2.6 0 1 0 5.2 0a2.6 2.6 0 1 0 -5.2 0M145.1 562.6a2.6 2.6 0 1 0 5.2 0a2.6 2.6 0 1 0 -5.2 0M149.7 560.6a2.6 2.6 0 1 0 5.2 0a2.6 2.6 0 1 0 -5.2 0M158.3 563.0a2.6 2.6 0 1 0 5.2 0a2.6 2.6 0 1 0 -5.2 0M162.0 564.1a2.6 2.6 0 1 0 5.2 0a2.6 2.6 0 1 0 -5.2 0M167.0 563.8a2.6 2.6 0 1 0 5.2 0a2.6 2.6 0 1 0 -5.2 0M173.9 561.3a2.6 2.6 0 1 0 5.2 0a2.6 2.6 0 1 0 -5.2 0M177.2 561.7a2.6 2.6 0 1 0 5.2 0a2.6 2.6 0 1 0 -5.2 0M182.5 562.8a2.6 2.6 0 1 0 5.2 0a2.6 2.6 0 1 0 -5.2 0M132.2 567.2a2.6 2.6 0 1 0 5.2 0a2.6 2.6 0 1 0 -5.2 0M137.7 565.3a2.6 2.6 0 1 0 5.2 0a2.6 2.6 0 1 0 -5.2 0M142.8 565.9a2.6 2.6 0 1 0 5.2 0a2.6 2.6 0 1 0 -5.2 0M146.5 568.2a2.6 2.6 0 1 0 5.2 0a2.6 2.6 0 1 0 -5.2 0M152.6 567.0a2.6 2.6 0 1 0 5.2 0a2.6 2.6 0 1 0 -5.2 0M160.1 567.3a2.6 2.6 0 1 0 5.2 0a2.6 2.6 0 1 0 -5.2 0M163.9 567.2a2.6 2.6 0 1 0 5.2 0a2.6 2.6 0 1 0 -5.2 0M170.2 568.2a2.6 2.6 0 1 0 5.2 0a2.6 2.6 0 1 0 -5.2 0M173.9 567.3a2.6 2.6 0 1 0 5.2 0a2.6 2.6 0 1 0 -5.2 0M179.8 566.3a2.6 2.6 0 1 0 5.2 0a2.6 2.6 0 1 0 -5.2 0M129.3 571.9a2.6 2.6 0 1 0 5.2 0a2.6 2.6 0 1 0 -5.2 0M134.8 573.5a2.6 2.6 0 1 0 5.2 0a2.6 2.6 0 1 0 -5.2 0M141.1 573.2a2.6 2.6 0 1 0 5.2 0a2.6 2.6 0 1 0 -5.2 0M147.4 570.9a2.6 2.6 0 1 0 5.2 0a2.6 2.6 0 1 0 -5.2 0M151.3 573.5a2.6 2.6 0 1 0 5.2 0a2.6 2.6 0 1 0 -5.2 0M157.8 570.4a2.6 2.6 0 1 0 5.2 0a2.6 2.6 0 1 0 -5.2 0M160.5 571.6a2.6 2.6 0 1 0 5.2 0a2.6 2.6 0 1 0 -5.2 0M165.7 570.8a2.6 2.6 0 1 0 5.2 0a2.6 2.6 0 1 0 -5.2 0M171.1 572.4a2.6 2.6 0 1 0 5.2 0a2.6 2.6 0 1 0 -5.2 0M179.2 573.3a2.6 2.6 0 1 0 5.2 0a2.6 2.6 0 1 0 -5.2 0M182.2 572.6a2.6 2.6 0 1 0 5.2 0a2.6 2.6 0 1 0 -5.2 0M128.7 577.7a2.6 2.6 0 1 0 5.2 0a2.6 2.6 0 1 0 -5.2 0M130.9 576.2a2.6 2.6 0 1 0 5.2 0a2.6 2.6 0 1 0 -5.2 0M137.7 575.9a2.6 2.6 0 1 0 5.2 0a2.6 2.6 0 1 0 -5.2 0M141.8 575.8a2.6 2.6 0 1 0 5.2 0a2.6 2.6 0 1 0 -5.2 0M149.2 574.6a2.6 2.6 0 1 0 5.2 0a2.6 2.6 0 1 0 -5.2 0M154.0 576.2a2.6 2.6 0 1 0 5.2 0a2.6 2.6 0 1 0 -5.2 0M157.4 575.8a2.6 2.6 0 1 0 5.2 0a2.6 2.6 0 1 0 -5.2 0M165.1 576.5a2.6 2.6 0 1 0 5.2 0a2.6 2.6 0 1 0 -5.2 0M168.4 578.3a2.6 2.6 0 1 0 5.2 0a2.6 2.6 0 1 0 -5.2 0M176.5 578.2a2.6 2.6 0 1 0 5.2 0a2.6 2.6 0 1 0 -5.2 0M179.3 575.6a2.6 2.6 0 1 0 5.2 0a2.6 2.6 0 1 0 -5.2 0M184.5 577.5a2.6 2.6 0 1 0 5.2 0a2.6 2.6 0 1 0 -5.2 0M129.8 581.9a2.6 2.6 0 1 0 5.2 0a2.6 2.6 0 1 0 -5.2 0M133.3 579.5a2.6 2.6 0 1 0 5.2 0a2.6 2.6 0 1 0 -5.2 0M141.0 580.9a2.6 2.6 0 1 0 5.2 0a2.6 2.6 0 1 0 -5.2 0M144.1 582.8a2.6 2.6 0 1 0 5.2 0a2.6 2.6 0 1 0 -5.2 0M151.6 582.3a2.6 2.6 0 1 0 5.2 0a2.6 2.6 0 1 0 -5.2 0M154.9 582.5a2.6 2.6 0 1 0 5.2 0a2.6 2.6 0 1 0 -5.2 0M160.3 582.5a2.6 2.6 0 1 0 5.2 0a2.6 2.6 0 1 0 -5.2 0M167.1 580.5a2.6 2.6 0 1 0 5.2 0a2.6 2.6 0 1 0 -5.2 0M172.9 582.8a2.6 2.6 0 1 0 5.2 0a2.6 2.6 0 1 0 -5.2 0M177.2 579.7a2.6 2.6 0 1 0 5.2 0a2.6 2.6 0 1 0 -5.2 0M183.6 580.2a2.6 2.6 0 1 0 5.2 0a2.6 2.6 0 1 0 -5.2 0M187.4 579.9a2.6 2.6 0 1 0 5.2 0a2.6 2.6 0 1 0 -5.2 0M131.6 584.0a2.6 2.6 0 1 0 5.2 0a2.6 2.6 0 1 0 -5.2 0M136.7 584.0a2.6 2.6 0 1 0 5.2 0a2.6 2.6 0 1 0 -5.2 0M143.9 586.0a2.6 2.6 0 1 0 5.2 0a2.6 2.6 0 1 0 -5.2 0M147.2 585.7a2.6 2.6 0 1 0 5.2 0a2.6 2.6 0 1 0 -5.2 0M155.4 584.3a2.6 2.6 0 1 0 5.2 0a2.6 2.6 0 1 0 -5.2 0M160.4 585.6a2.6 2.6 0 1 0 5.2 0a2.6 2.6 0 1 0 -5.2 0M164.6 587.1a2.6 2.6 0 1 0 5.2 0a2.6 2.6 0 1 0 -5.2 0M169.6 585.8a2.6 2.6 0 1 0 5.2 0a2.6 2.6 0 1 0 -5.2 0M176.1 587.6a2.6 2.6 0 1 0 5.2 0a2.6 2.6 0 1 0 -5.2 0M180.2 587.1a2.6 2.6 0 1 0 5.2 0a2.6 2.6 0 1 0 -5.2 0M187.0 586.3a2.6 2.6 0 1 0 5.2 0a2.6 2.6 0 1 0 -5.2 0M191.2 585.2a2.6 2.6 0 1 0 5.2 0a2.6 2.6 0 1 0 -5.2 0M136.3 591.1a2.6 2.6 0 1 0 5.2 0a2.6 2.6 0 1 0 -5.2 0M139.5 589.5a2.6 2.6 0 1 0 5.2 0a2.6 2.6 0 1 0 -5.2 0M144.9 590.3a2.6 2.6 0 1 0 5.2 0a2.6 2.6 0 1 0 -5.2 0M149.8 590.3a2.6 2.6 0 1 0 5.2 0a2.6 2.6 0 1 0 -5.2 0M155.6 592.2a2.6 2.6 0 1 0 5.2 0a2.6 2.6 0 1 0 -5.2 0M163.7 590.7a2.6 2.6 0 1 0 5.2 0a2.6 2.6 0 1 0 -5.2 0M166.3 592.3a2.6 2.6 0 1 0 5.2 0a2.6 2.6 0 1 0 -5.2 0M172.0 590.0a2.6 2.6 0 1 0 5.2 0a2.6 2.6 0 1 0 -5.2 0M176.2 590.0a2.6 2.6 0 1 0 5.2 0a2.6 2.6 0 1 0 -5.2 0M183.4 590.5a2.6 2.6 0 1 0 5.2 0a2.6 2.6 0 1 0 -5.2 0M187.8 590.5a2.6 2.6 0 1 0 5.2 0a2.6 2.6 0 1 0 -5.2 0M192.4 589.6a2.6 2.6 0 1 0 5.2 0a2.6 2.6 0 1 0 -5.2 0M138.5 595.8a2.6 2.6 0 1 0 5.2 0a2.6 2.6 0 1 0 -5.2 0M143.8 596.6a2.6 2.6 0 1 0 5.2 0a2.6 2.6 0 1 0 -5.2 0M148.0 594.5a2.6 2.6 0 1 0 5.2 0a2.6 2.6 0 1 0 -5.2 0M155.6 593.8a2.6 2.6 0 1 0 5.2 0a2.6 2.6 0 1 0 -5.2 0M160.0 595.7a2.6 2.6 0 1 0 5.2 0a2.6 2.6 0 1 0 -5.2 0M162.9 596.4a2.6 2.6 0 1 0 5.2 0a2.6 2.6 0 1 0 -5.2 0M171.5 595.7a2.6 2.6 0 1 0 5.2 0a2.6 2.6 0 1 0 -5.2 0M176.3 596.3a2.6 2.6 0 1 0 5.2 0a2.6 2.6 0 1 0 -5.2 0M179.4 595.3a2.6 2.6 0 1 0 5.2 0a2.6 2.6 0 1 0 -5.2 0M186.2 596.4a2.6 2.6 0 1 0 5.2 0a2.6 2.6 0 1 0 -5.2 0M192.8 596.4a2.6 2.6 0 1 0 5.2 0a2.6 2.6 0 1 0 -5.2 0M197.3 596.7a2.6 2.6 0 1 0 5.2 0a2.6 2.6 0 1 0 -5.2 0M140.5 600.3a2.6 2.6 0 1 0 5.2 0a2.6 2.6 0 1 0 -5.2 0M146.2 600.5a2.6 2.6 0 1 0 5.2 0a2.6 2.6 0 1 0 -5.2 0M151.1 598.0a2.6 2.6 0 1 0 5.2 0a2.6 2.6 0 1 0 -5.2 0M157.6 600.8a2.6 2.6 0 1 0 5.2 0a2.6 2.6 0 1 0 -5.2 0M161.9 600.0a2.6 2.6 0 1 0 5.2 0a2.6 2.6 0 1 0 -5.2 0M167.9 598.2a2.6 2.6 0 1 0 5.2 0a2.6 2.6 0 1 0 -5.2 0M173.6 598.9a2.6 2.6 0 1 0 5.2 0a2.6 2.6 0 1 0 -5.2 0M176.5 599.0a2.6 2.6 0 1 0 5.2 0a2.6 2.6 0 1 0 -5.2 0M184.4 598.7a2.6 2.6 0 1 0 5.2 0a2.6 2.6 0 1 0 -5.2 0M189.8 601.6a2.6 2.6 0 1 0 5.2 0a2.6 2.6 0 1 0 -5.2 0M194.3 599.4a2.6 2.6 0 1 0 5.2 0a2.6 2.6 0 1 0 -5.2 0M199.6 600.5a2.6 2.6 0 1 0 5.2 0a2.6 2.6 0 1 0 -5.2 0M138.5 603.8a2.6 2.6 0 1 0 5.2 0a2.6 2.6 0 1 0 -5.2 0M143.3 602.7a2.6 2.6 0 1 0 5.2 0a2.6 2.6 0 1 0 -5.2 0M146.7 603.6a2.6 2.6 0 1 0 5.2 0a2.6 2.6 0 1 0 -5.2 0M154.5 605.2a2.6 2.6 0 1 0 5.2 0a2.6 2.6 0 1 0 -5.2 0M159.9 603.7a2.6 2.6 0 1 0 5.2 0a2.6 2.6 0 1 0 -5.2 0M164.7 604.4a2.6 2.6 0 1 0 5.2 0a2.6 2.6 0 1 0 -5.2 0M169.9 603.1a2.6 2.6 0 1 0 5.2 0a2.6 2.6 0 1 0 -5.2 0M176.9 603.4a2.6 2.6 0 1 0 5.2 0a2.6 2.6 0 1 0 -5.2 0M182.6 606.2a2.6 2.6 0 1 0 5.2 0a2.6 2.6 0 1 0 -5.2 0M184.4 604.4a2.6 2.6 0 1 0 5.2 0a2.6 2.6 0 1 0 -5.2 0M192.8 606.3a2.6 2.6 0 1 0 5.2 0a2.6 2.6 0 1 0 -5.2 0M196.8 603.6a2.6 2.6 0 1 0 5.2 0a2.6 2.6 0 1 0 -5.2 0M201.3 606.2a2.6 2.6 0 1 0 5.2 0a2.6 2.6 0 1 0 -5.2 0M136.6 607.8a2.6 2.6 0 1 0 5.2 0a2.6 2.6 0 1 0 -5.2 0M141.5 609.2a2.6 2.6 0 1 0 5.2 0a2.6 2.6 0 1 0 -5.2 0M147.2 610.0a2.6 2.6 0 1 0 5.2 0a2.6 2.6 0 1 0 -5.2 0M150.1 610.7a2.6 2.6 0 1 0 5.2 0a2.6 2.6 0 1 0 -5.2 0M156.4 607.4a2.6 2.6 0 1 0 5.2 0a2.6 2.6 0 1 0 -5.2 0M160.0 609.2a2.6 2.6 0 1 0 5.2 0a2.6 2.6 0 1 0 -5.2 0M167.1 608.5a2.6 2.6 0 1 0 5.2 0a2.6 2.6 0 1 0 -5.2 0M171.3 608.6a2.6 2.6 0 1 0 5.2 0a2.6 2.6 0 1 0 -5.2 0M177.4 610.5a2.6 2.6 0 1 0 5.2 0a2.6 2.6 0 1 0 -5.2 0M181.6 610.1a2.6 2.6 0 1 0 5.2 0a2.6 2.6 0 1 0 -5.2 0M190.2 607.8a2.6 2.6 0 1 0 5.2 0a2.6 2.6 0 1 0 -5.2 0M195.9 610.0a2.6 2.6 0 1 0 5.2 0a2.6 2.6 0 1 0 -5.2 0M201.2 608.4a2.6 2.6 0 1 0 5.2 0a2.6 2.6 0 1 0 -5.2 0M141.5 615.1a2.6 2.6 0 1 0 5.2 0a2.6 2.6 0 1 0 -5.2 0M147.6 615.5a2.6 2.6 0 1 0 5.2 0a2.6 2.6 0 1 0 -5.2 0M152.9 613.0a2.6 2.6 0 1 0 5.2 0a2.6 2.6 0 1 0 -5.2 0M159.2 612.7a2.6 2.6 0 1 0 5.2 0a2.6 2.6 0 1 0 -5.2 0M164.1 615.6a2.6 2.6 0 1 0 5.2 0a2.6 2.6 0 1 0 -5.2 0M171.5 615.1a2.6 2.6 0 1 0 5.2 0a2.6 2.6 0 1 0 -5.2 0M175.9 615.4a2.6 2.6 0 1 0 5.2 0a2.6 2.6 0 1 0 -5.2 0M182.5 614.1a2.6 2.6 0 1 0 5.2 0a2.6 2.6 0 1 0 -5.2 0M187.0 612.2a2.6 2.6 0 1 0 5.2 0a2.6 2.6 0 1 0 -5.2 0M192.5 613.7a2.6 2.6 0 1 0 5.2 0a2.6 2.6 0 1 0 -5.2 0M198.0 614.4a2.6 2.6 0 1 0 5.2 0a2.6 2.6 0 1 0 -5.2 0M201.6 612.2a2.6 2.6 0 1 0 5.2 0a2.6 2.6 0 1 0 -5.2 0M142.1 617.6a2.6 2.6 0 1 0 5.2 0a2.6 2.6 0 1 0 -5.2 0M146.3 617.8a2.6 2.6 0 1 0 5.2 0a2.6 2.6 0 1 0 -5.2 0M151.3 618.2a2.6 2.6 0 1 0 5.2 0a2.6 2.6 0 1 0 -5.2 0M155.2 617.3a2.6 2.6 0 1 0 5.2 0a2.6 2.6 0 1 0 -5.2 0M160.8 620.1a2.6 2.6 0 1 0 5.2 0a2.6 2.6 0 1 0 -5.2 0M167.3 617.5a2.6 2.6 0 1 0 5.2 0a2.6 2.6 0 1 0 -5.2 0M174.2 620.4a2.6 2.6 0 1 0 5.2 0a2.6 2.6 0 1 0 -5.2 0M177.9 617.2a2.6 2.6 0 1 0 5.2 0a2.6 2.6 0 1 0 -5.2 0M182.3 617.0a2.6 2.6 0 1 0 5.2 0a2.6 2.6 0 1 0 -5.2 0M188.3 617.0a2.6 2.6 0 1 0 5.2 0a2.6 2.6 0 1 0 -5.2 0M193.3 617.6a2.6 2.6 0 1 0 5.2 0a2.6 2.6 0 1 0 -5.2 0M200.0 620.0a2.6 2.6 0 1 0 5.2 0a2.6 2.6 0 1 0 -5.2 0M144.8 621.8a2.6 2.6 0 1 0 5.2 0a2.6 2.6 0 1 0 -5.2 0M148.4 623.7a2.6 2.6 0 1 0 5.2 0a2.6 2.6 0 1 0 -5.2 0M155.2 622.2a2.6 2.6 0 1 0 5.2 0a2.6 2.6 0 1 0 -5.2 0M158.3 622.3a2.6 2.6 0 1 0 5.2 0a2.6 2.6 0 1 0 -5.2 0M164.2 623.0a2.6 2.6 0 1 0 5.2 0a2.6 2.6 0 1 0 -5.2 0M171.7 624.5a2.6 2.6 0 1 0 5.2 0a2.6 2.6 0 1 0 -5.2 0M176.8 621.4a2.6 2.6 0 1 0 5.2 0a2.6 2.6 0 1 0 -5.2 0M179.0 624.0a2.6 2.6 0 1 0 5.2 0a2.6 2.6 0 1 0 -5.2 0M187.7 623.1a2.6 2.6 0 1 0 5.2 0a2.6 2.6 0 1 0 -5.2 0M191.9 621.3a2.6 2.6 0 1 0 5.2 0a2.6 2.6 0 1 0 -5.2 0M196.6 624.8a2.6 2.6 0 1 0 5.2 0a2.6 2.6 0 1 0 -5.2 0M203.6 624.6a2.6 2.6 0 1 0 5.2 0a2.6 2.6 0 1 0 -5.2 0M142.0 628.7a2.6 2.6 0 1 0 5.2 0a2.6 2.6 0 1 0 -5.2 0M146.3 628.9a2.6 2.6 0 1 0 5.2 0a2.6 2.6 0 1 0 -5.2 0M150.9 628.1a2.6 2.6 0 1 0 5.2 0a2.6 2.6 0 1 0 -5.2 0M154.8 629.0a2.6 2.6 0 1 0 5.2 0a2.6 2.6 0 1 0 -5.2 0M160.9 629.5a2.6 2.6 0 1 0 5.2 0a2.6 2.6 0 1 0 -5.2 0M167.9 627.2a2.6 2.6 0 1 0 5.2 0a2.6 2.6 0 1 0 -5.2 0M171.3 627.0a2.6 2.6 0 1 0 5.2 0a2.6 2.6 0 1 0 -5.2 0M178.6 628.7a2.6 2.6 0 1 0 5.2 0a2.6 2.6 0 1 0 -5.2 0M182.0 626.3a2.6 2.6 0 1 0 5.2 0a2.6 2.6 0 1 0 -5.2 0M189.0 628.2a2.6 2.6 0 1 0 5.2 0a2.6 2.6 0 1 0 -5.2 0M193.9 626.9a2.6 2.6 0 1 0 5.2 0a2.6 2.6 0 1 0 -5.2 0M200.1 626.1a2.6 2.6 0 1 0 5.2 0a2.6 2.6 0 1 0 -5.2 0M204.3 627.8a2.6 2.6 0 1 0 5.2 0a2.6 2.6 0 1 0 -5.2 0M147.7 630.8a2.6 2.6 0 1 0 5.2 0a2.6 2.6 0 1 0 -5.2 0M153.8 633.2a2.6 2.6 0 1 0 5.2 0a2.6 2.6 0 1 0 -5.2 0M158.9 631.7a2.6 2.6 0 1 0 5.2 0a2.6 2.6 0 1 0 -5.2 0M165.2 634.2a2.6 2.6 0 1 0 5.2 0a2.6 2.6 0 1 0 -5.2 0M169.0 630.8a2.6 2.6 0 1 0 5.2 0a2.6 2.6 0 1 0 -5.2 0M174.8 632.3a2.6 2.6 0 1 0 5.2 0a2.6 2.6 0 1 0 -5.2 0M181.5 631.4a2.6 2.6 0 1 0 5.2 0a2.6 2.6 0 1 0 -5.2 0M187.3 633.5a2.6 2.6 0 1 0 5.2 0a2.6 2.6 0 1 0 -5.2 0M191.6 631.5a2.6 2.6 0 1 0 5.2 0a2.6 2.6 0 1 0 -5.2 0M198.8 631.9a2.6 2.6 0 1 0 5.2 0a2.6 2.6 0 1 0 -5.2 0M203.6 631.6a2.6 2.6 0 1 0 5.2 0a2.6 2.6 0 1 0 -5.2 0M160.5 635.6a2.6 2.6 0 1 0 5.2 0a2.6 2.6 0 1 0 -5.2 0M165.6 636.9a2.6 2.6 0 1 0 5.2 0a2.6 2.6 0 1 0 -5.2 0M185.1 636.6a2.6 2.6 0 1 0 5.2 0a2.6 2.6 0 1 0 -5.2 0M187.7 638.9a2.6 2.6 0 1 0 5.2 0a2.6 2.6 0 1 0 -5.2 0M195.2 635.5a2.6 2.6 0 1 0 5.2 0a2.6 2.6 0 1 0 -5.2 0M200.3 636.8a2.6 2.6 0 1 0 5.2 0a2.6 2.6 0 1 0 -5.2 0M204.6 636.6a2.6 2.6 0 1 0 5.2 0a2.6 2.6 0 1 0 -5.2 0M189.8 640.3a2.6 2.6 0 1 0 5.2 0a2.6 2.6 0 1 0 -5.2 0M198.6 641.0a2.6 2.6 0 1 0 5.2 0a2.6 2.6 0 1 0 -5.2 0" fill="#008000"/>
<path d="M49.60,458.82 L50.40,461.54 L51.19,464.25 L51.99,466.93 L52.79,469.58 L53.59,472.22 L54.38,474.83 L55.18,477.42 L55.98,479.99 L56.77,482.54 L57.57,485.07 L58.37,487.58 L59.17,490.07 L59.96,492.54 L60.76,494.99 L61.56,497.43 L62.35,499.85 L63.15,502.25 L63.95,504.63 L64.75,507.00 L65.54,509.35 L69.53,520.88 L73.51,532.04 L77.50,542.87 L81.49,553.41 L85.47,563.66 L89.46,573.65 L93.44,583.40 L97.43,592.92 L101.41,602.24 L105.40,611.36 L109.39,620.29 L113.37,629.05 L117.36,637.64 L121.34,646.07 L125.33,654.36 L129.31,662.50 L133.30,670.51 L137.29,678.39 L141.27,686.15 L145.26,693.79 L149.24,701.31 L153.23,708.72 L157.21,716.03 L161.20,723.24 L165.19,730.34 L169.17,737.35 L173.16,744.27 L177.14,751.09 L181.13,757.82 L185.11,764.47 L189.10,771.03 L193.09,777.51 L197.07,783.90 L201.06,790.20 L205.04,796.43 L209.03,802.57 L213.01,808.63 L217.00,814.60 L220.99,820.50 L224.97,826.31 L228.96,832.04 L232.94,837.68 L236.93,843.23 L240.91,848.70 L244.90,854.08 L248.89,859.38 L252.87,864.58 L256.86,869.68 L260.84,874.70 L264.83,879.62 L268.81,884.44 L272.80,889.16 L276.79,893.79 L280.77,898.31 L284.76,902.73 L288.74,907.05 L292.73,911.26 L296.71,915.36 L300.70,919.37 L304.69,923.26 L308.67,927.05 L312.66,930.73 L316.64,934.31 L320.63,937.79 L324.61,941.16 L328.60,944.42 L332.59,947.59 L336.57,950.65 L340.56,952.20 L344.54,952.92 L348.53,953.63 L352.51,954.32 L356.50,955.00 L360.49,955.66 L364.47,956.30 L368.46,956.93 L372.44,957.55 L376.43,958.15 L380.41,958.74 L384.40,959.31 L388.39,959.88 L392.37,960.43 L396.36,960.96 L400.34,961.49 L404.33,962.00 L408.31,962.51 L412.30,963.00 L416.29,963.48 L420.27,963.95 L424.26,964.41 L428.24,964.86 L432.23,965.30 L436.21,965.73 L440.20,966.15 L444.19,966.56 L448.17,966.96 L452.16,967.36 L456.14,967.74 L460.13,968.12 L464.11,968.49 L468.10,968.85 L472.09,969.20 L476.07,969.54 L480.06,969.87 L484.04,970.20 L488.03,970.52 L492.01,970.83 L496.00,971.14 L499.99,971.44 L503.97,971.73 L507.96,972.01 L511.94,972.29 L515.93,972.56 L519.91,972.82 L523.90,973.08 L527.89,973.33" stroke="#348ABD" stroke-width="1.6" fill="none" stroke-linejoin="round" stroke-linecap="butt"/>
<path d="M49.60,458.82 L50.40,460.44 L51.19,462.05 L51.99,463.66 L52.79,465.26 L53.59,466.86 L54.38,468.45 L55.18,470.04 L55.98,471.62 L56.77,473.19 L57.57,474.76 L58.37,476.32 L59.17,477.88 L59.96,479.44 L60.76,480.99 L61.56,482.53 L62.35,484.07 L63.15,485.60 L63.95,487.13 L64.75,488.66 L65.54,490.18 L69.53,497.71 L73.51,505.13 L77.50,512.46 L81.49,519.69 L85.47,526.83 L89.46,533.89 L93.44,540.87 L97.43,547.78 L101.41,554.61 L105.40,561.39 L109.39,568.10 L113.37,574.75 L117.36,581.34 L121.34,587.89 L125.33,594.38 L129.31,600.82 L133.30,607.22 L137.29,613.58 L141.27,619.89 L145.26,626.17 L149.24,632.40 L153.23,638.60 L157.21,644.77 L161.20,650.90 L165.19,657.00 L169.17,663.07 L173.16,669.11 L177.14,675.11 L181.13,681.09 L185.11,687.04 L189.10,692.96 L193.09,698.86 L197.07,704.73 L201.06,710.57 L205.04,716.38 L209.03,722.17 L213.01,727.93 L217.00,733.66 L220.99,739.36 L224.97,745.04 L228.96,750.69 L232.94,756.31 L236.93,761.90 L240.91,767.46 L244.90,772.98 L248.89,778.48 L252.87,783.94 L256.86,789.36 L260.84,794.75 L264.83,800.10 L268.81,805.41 L272.80,810.68 L276.79,815.90 L280.77,821.09 L284.76,826.22 L288.74,831.31 L292.73,836.34 L296.71,841.32 L300.70,846.25 L304.69,851.12 L308.67,855.94 L312.66,860.69 L316.64,865.38 L320.63,870.00 L324.61,874.56 L328.60,879.04 L332.59,883.46 L336.57,887.80 L340.56,892.06 L344.54,896.25 L348.53,900.36 L352.51,904.39 L356.50,908.34 L360.49,912.20 L364.47,915.99 L368.46,919.68 L372.44,923.29 L376.43,926.82 L380.41,930.26 L384.40,933.61 L388.39,936.88 L392.37,940.06 L396.36,943.15 L400.34,946.16 L404.33,949.08 L408.31,951.92 L412.30,954.68 L416.29,957.36 L420.27,959.95 L424.26,962.47 L428.24,964.78 L432.23,965.30 L436.21,965.73 L440.20,966.15 L444.19,966.56 L448.17,966.96 L452.16,967.36 L456.14,967.74 L460.13,968.12 L464.11,968.49 L468.10,968.85 L472.09,969.20 L476.07,969.54 L480.06,969.87 L484.04,970.20 L488.03,970.52 L492.01,970.83 L496.00,971.14 L499.99,971.44 L503.97,971.73 L507.96,972.01 L511.94,972.29 L515.93,972.56 L519.91,972.82 L523.90,973.08 L527.89,973.33" stroke="#A60628" stroke-width="1.6" fill="none" stroke-linejoin="round" stroke-linecap="butt"/>
<path d="M49.60,458.82 L50.40,459.99 L51.19,461.17 L51.99,462.34 L52.79,463.51 L53.59,464.68 L54.38,465.85 L55.18,467.01 L55.98,468.17 L56.77,469.34 L57.57,470.50 L58.37,471.65 L59.17,472.81 L59.96,473.97 L60.76,475.12 L61.56,476.27 L62.35,477.42 L63.15,478.57 L63.95,479.72 L64.75,480.86 L65.54,482.01 L69.53,487.70 L73.51,493.37 L77.50,499.00 L81.49,504.60 L85.47,510.17 L89.46,515.71 L93.44,521.24 L97.43,526.74 L101.41,532.21 L105.40,537.67 L109.39,543.11 L113.37,548.54 L117.36,553.95 L121.34,559.35 L125.33,564.73 L129.31,570.10 L133.30,575.47 L137.29,580.83 L141.27,586.17 L145.26,591.52 L149.24,596.85 L153.23,602.19 L157.21,607.52 L161.20,612.84 L165.19,618.17 L169.17,623.49 L173.16,628.82 L177.14,634.14 L181.13,639.47 L185.11,644.80 L189.10,650.13 L193.09,655.46 L197.07,660.79 L201.06,666.13 L205.04,671.47 L209.03,676.82 L213.01,682.17 L217.00,687.53 L220.99,692.88 L224.97,698.25 L228.96,703.61 L232.94,708.98 L236.93,714.35 L240.91,719.73 L244.90,725.11 L248.89,730.49 L252.87,735.87 L256.86,741.25 L260.84,746.63 L264.83,752.00 L268.81,757.38 L272.80,762.74 L276.79,768.10 L280.77,773.46 L284.76,778.80 L288.74,784.13 L292.73,789.44 L296.71,794.74 L300.70,800.02 L304.69,805.28 L308.67,810.51 L312.66,815.71 L316.64,820.88 L320.63,826.02 L324.61,831.13 L328.60,836.19 L332.59,841.21 L336.57,846.18 L340.56,851.11 L344.54,855.98 L348.53,860.79 L352.51,865.54 L356.50,870.23 L360.49,874.85 L364.47,879.40 L368.46,883.88 L372.44,888.29 L376.43,892.62 L380.41,896.87 L384.40,901.03 L388.39,905.12 L392.37,909.11 L396.36,913.02 L400.34,916.84 L404.33,920.57 L408.31,924.22 L412.30,927.77 L416.29,931.23 L420.27,934.60 L424.26,937.88 L428.24,941.07 L432.23,944.17 L436.21,947.18 L440.20,950.10 L444.19,952.94 L448.17,955.69 L452.16,958.36 L456.14,960.95 L460.13,963.45 L464.11,965.88 L468.10,968.23 L472.09,969.20 L476.07,969.54 L480.06,969.87 L484.04,970.20 L488.03,970.52 L492.01,970.83 L496.00,971.14 L499.99,971.44 L503.97,971.73 L507.96,972.01 L511.94,972.29 L515.93,972.56 L519.91,972.82 L523.90,973.08 L527.89,973.33" stroke="#7A68A6" stroke-width="1.6" fill="none" stroke-linejoin="round" stroke-linecap="butt"/>
<path d="M49.60,458.82 L50.40,459.76 L51.19,460.70 L51.99,461.64 L52.79,462.58 L53.59,463.52 L54.38,464.46 L55.18,465.40 L55.98,466.33 L56.77,467.27 L57.57,468.21 L58.37,469.14 L59.17,470.08 L59.96,471.02 L60.76,471.95 L61.56,472.89 L62.35,473.82 L63.15,474.76 L63.95,475.69 L64.75,476.63 L65.54,477.56 L69.53,482.22 L73.51,486.88 L77.50,491.53 L81.49,496.18 L85.47,500.82 L89.46,505.46 L93.44,510.09 L97.43,514.73 L101.41,519.37 L105.40,524.01 L109.39,528.65 L113.37,533.29 L117.36,537.93 L121.34,542.58 L125.33,547.24 L129.31,551.90 L133.30,556.57 L137.29,561.24 L141.27,565.93 L145.26,570.62 L149.24,575.32 L153.23,580.04 L157.21,584.76 L161.20,589.50 L165.19,594.25 L169.17,599.01 L173.16,603.79 L177.14,608.58 L181.13,613.38 L185.11,618.21 L189.10,623.05 L193.09,627.90 L197.07,632.78 L201.06,637.67 L205.04,642.58 L209.03,647.51 L213.01,652.46 L217.00,657.43 L220.99,662.42 L224.97,667.44 L228.96,672.47 L232.94,677.52 L236.93,682.60 L240.91,687.70 L244.90,692.82 L248.89,697.96 L252.87,703.12 L256.86,708.30 L260.84,713.51 L264.83,718.73 L268.81,723.98 L272.80,729.24 L276.79,734.53 L280.77,739.83 L284.76,745.15 L288.74,750.48 L292.73,755.83 L296.71,761.19 L300.70,766.57 L304.69,771.95 L308.67,777.34 L312.66,782.73 L316.64,788.12 L320.63,793.51 L324.61,798.90 L328.60,804.27 L332.59,809.64 L336.57,814.99 L340.56,820.32 L344.54,825.63 L348.53,830.91 L352.51,836.15 L356.50,841.36 L360.49,846.52 L364.47,851.64 L368.46,856.71 L372.44,861.71 L376.43,866.66 L380.41,871.54 L384.40,876.34 L388.39,881.07 L392.37,885.73 L396.36,890.29 L400.34,894.78 L404.33,899.17 L408.31,903.47 L412.30,907.67 L416.29,911.78 L420.27,915.78 L424.26,919.69 L428.24,923.50 L432.23,927.20 L436.21,930.80 L440.20,934.30 L444.19,937.70 L448.17,941.00 L452.16,944.20 L456.14,947.30 L460.13,950.31 L464.11,953.22 L468.10,956.04 L472.09,958.77 L476.07,961.40 L480.06,963.95 L484.04,966.42 L488.03,968.80 L492.01,970.82 L496.00,971.14 L499.99,971.44 L503.97,971.73 L507.96,972.01 L511.94,972.29 L515.93,972.56 L519.91,972.82 L523.90,973.08 L527.89,973.33" stroke="#467821" stroke-width="1.6" fill="none" stroke-linejoin="round" stroke-linecap="butt"/>
<path d="M49.60,458.82 L50.40,459.52 L51.19,460.23 L51.99,460.94 L52.79,461.65 L53.59,462.36 L54.38,463.06 L55.18,463.77 L55.98,464.48 L56.77,465.19 L57.57,465.90 L58.37,466.62 L59.17,467.33 L59.96,468.04 L60.76,468.75 L61.56,469.46 L62.35,470.18 L63.15,470.89 L63.95,471.61 L64.75,472.32 L65.54,473.04 L69.53,476.62 L73.51,480.22 L77.50,483.82 L81.49,487.45 L85.47,491.08 L89.46,494.73 L93.44,498.40 L97.43,502.08 L101.41,505.77 L105.40,509.48 L109.39,513.21 L113.37,516.96 L117.36,520.72 L121.34,524.50 L125.33,528.30 L129.31,532.12 L133.30,535.96 L137.29,539.82 L141.27,543.70 L145.26,547.60 L149.24,551.52 L153.23,555.47 L157.21,559.43 L161.20,563.43 L165.19,567.44 L169.17,571.48 L173.16,575.55 L177.14,579.64 L181.13,583.76 L185.11,587.91 L189.10,592.08 L193.09,596.28 L197.07,600.52 L201.06,604.78 L205.04,609.07 L209.03,613.39 L213.01,617.75 L217.00,622.14 L220.99,626.56 L224.97,631.02 L228.96,635.51 L232.94,640.03 L236.93,644.59 L240.91,649.19 L244.90,653.83 L248.89,658.50 L252.87,663.21 L256.86,667.97 L260.84,672.76 L264.83,677.59 L268.81,682.46 L272.80,687.38 L276.79,692.33 L280.77,697.33 L284.76,702.38 L288.74,707.46 L292.73,712.59 L296.71,717.76 L300.70,722.97 L304.69,728.23 L308.67,733.53 L312.66,738.87 L316.64,744.25 L320.63,749.67 L324.61,755.14 L328.60,760.64 L332.59,766.17 L336.57,771.74 L340.56,777.34 L344.54,782.97 L348.53,788.63 L352.51,794.30 L356.50,800.00 L360.49,805.71 L364.47,811.42 L368.46,817.14 L372.44,822.86 L376.43,828.56 L380.41,834.25 L384.40,839.92 L388.39,845.55 L392.37,851.14 L396.36,856.68 L400.34,862.17 L404.33,867.59 L408.31,872.94 L412.30,878.20 L416.29,883.37 L420.27,888.45 L424.26,893.43 L428.24,898.29 L432.23,903.04 L436.21,907.67 L440.20,912.17 L444.19,916.55 L448.17,920.80 L452.16,924.93 L456.14,928.92 L460.13,932.78 L464.11,936.51 L468.10,940.12 L472.09,943.59 L476.07,946.95 L480.06,950.18 L484.04,953.30 L488.03,956.30 L492.01,959.19 L496.00,961.97 L499.99,964.65 L503.97,967.22 L507.96,969.70 L511.94,972.06 L515.93,972.56 L519.91,972.82 L523.90,973.08 L527.89,973.33" stroke="#D55E00" stroke-width="1.6" fill="none" stroke-linejoin="round" stroke-linecap="butt"/>
<path d="M49.60,458.82 L50.40,459.42 L51.19,460.01 L51.99,460.61 L52.79,461.22 L53.59,461.82 L54.38,462.42 L55.18,463.02 L55.98,463.62 L56.77,464.23 L57.57,464.83 L58.37,465.44 L59.17,466.04 L59.96,466.65 L60.76,467.26 L61.56,467.87 L62.35,468.48 L63.15,469.08 L63.95,469.70 L64.75,470.31 L65.54,470.92 L69.53,473.99 L73.51,477.07 L77.50,480.18 L81.49,483.30 L85.47,486.44 L89.46,489.60 L93.44,492.78 L97.43,495.98 L101.41,499.21 L105.40,502.45 L109.39,505.71 L113.37,509.00 L117.36,512.30 L121.34,515.63 L125.33,518.99 L129.31,522.36 L133.30,525.76 L137.29,529.19 L141.27,532.64 L145.26,536.11 L149.24,539.62 L153.23,543.14 L157.21,546.70 L161.20,550.28 L165.19,553.89 L169.17,557.53 L173.16,561.20 L177.14,564.89 L181.13,568.62 L185.11,572.38 L189.10,576.17 L193.09,580.00 L197.07,583.85 L201.06,587.74 L205.04,591.67 L209.03,595.63 L213.01,599.62 L217.00,603.65 L220.99,607.72 L224.97,611.83 L228.96,615.98 L232.94,620.16 L236.93,624.39 L240.91,628.66 L244.90,632.97 L248.89,637.32 L252.87,641.72 L256.86,646.16 L260.84,650.65 L264.83,655.18 L268.81,659.77 L272.80,664.40 L276.79,669.07 L280.77,673.80 L284.76,678.59 L288.74,683.42 L292.73,688.30 L296.71,693.24 L300.70,698.24 L304.69,703.28 L308.67,708.39 L312.66,713.55 L316.64,718.76 L320.63,724.04 L324.61,729.37 L328.60,734.76 L332.59,740.20 L336.57,745.70 L340.56,751.26 L344.54,756.88 L348.53,762.55 L352.51,768.27 L356.50,774.04 L360.49,779.86 L364.47,785.73 L368.46,791.64 L372.44,797.58 L376.43,803.57 L380.41,809.58 L384.40,815.61 L388.39,821.65 L392.37,827.70 L396.36,833.75 L400.34,839.79 L404.33,845.81 L408.31,851.79 L412.30,857.73 L416.29,863.62 L420.27,869.44 L424.26,875.17 L428.24,880.82 L432.23,886.36 L436.21,891.79 L440.20,897.09 L444.19,902.26 L448.17,907.29 L452.16,912.17 L456.14,916.91 L460.13,921.48 L464.11,925.90 L468.10,930.17 L472.09,934.27 L476.07,938.22 L480.06,942.01 L484.04,945.66 L488.03,949.15 L492.01,952.51 L496.00,955.72 L499.99,958.80 L503.97,961.76 L507.96,964.58 L511.94,967.29 L515.93,969.89 L519.91,972.37 L523.90,973.08 L527.89,973.33" stroke="#CC79A7" stroke-width="1.6" fill="none" stroke-linejoin="round" stroke-linecap="butt"/>
<path d="M49.60,458.82 L50.40,459.36 L51.19,459.90 L51.99,460.45 L52.79,460.99 L53.59,461.54 L54.38,462.08 L55.18,462.63 L55.98,463.18 L56.77,463.72 L57.57,464.27 L58.37,464.82 L59.17,465.37 L59.96,465.93 L60.76,466.48 L61.56,467.03 L62.35,467.58 L63.15,468.14 L63.95,468.69 L64.75,469.25 L65.54,469.81 L69.53,472.60 L73.51,475.42 L77.50,478.25 L81.49,481.11 L85.47,483.99 L89.46,486.88 L93.44,489.80 L97.43,492.74 L101.41,495.71 L105.40,498.69 L109.39,501.70 L113.37,504.74 L117.36,507.79 L121.34,510.87 L125.33,513.98 L129.31,517.11 L133.30,520.26 L137.29,523.45 L141.27,526.66 L145.26,529.89 L149.24,533.15 L153.23,536.45 L157.21,539.76 L161.20,543.11 L165.19,546.49 L169.17,549.90 L173.16,553.34 L177.14,556.81 L181.13,560.31 L185.11,563.85 L189.10,567.41 L193.09,571.02 L197.07,574.65 L201.06,578.32 L205.04,582.03 L209.03,585.77 L213.01,589.56 L217.00,593.37 L220.99,597.23 L224.97,601.13 L228.96,605.07 L232.94,609.05 L236.93,613.07 L240.91,617.14 L244.90,621.24 L248.89,625.40 L252.87,629.60 L256.86,633.84 L260.84,638.14 L264.83,642.48 L268.81,646.87 L272.80,651.32 L276.79,655.81 L280.77,660.36 L284.76,664.96 L288.74,669.62 L292.73,674.33 L296.71,679.11 L300.70,683.93 L304.69,688.82 L308.67,693.77 L312.66,698.78 L316.64,703.86 L320.63,708.99 L324.61,714.20 L328.60,719.46 L332.59,724.80 L336.57,730.20 L340.56,735.66 L344.54,741.19 L348.53,746.80 L352.51,752.46 L356.50,758.20 L360.49,764.00 L364.47,769.86 L368.46,775.79 L372.44,781.78 L376.43,787.82 L380.41,793.92 L384.40,800.07 L388.39,806.27 L392.37,812.50 L396.36,818.77 L400.34,825.05 L404.33,831.36 L408.31,837.66 L412.30,843.96 L416.29,850.24 L420.27,856.48 L424.26,862.68 L428.24,868.81 L432.23,874.87 L436.21,880.83 L440.20,886.68 L444.19,892.41 L448.17,898.00 L452.16,903.45 L456.14,908.73 L460.13,913.86 L464.11,918.81 L468.10,923.58 L472.09,928.17 L476.07,932.59 L480.06,936.82 L484.04,940.88 L488.03,944.76 L492.01,948.47 L496.00,952.02 L499.99,955.41 L503.97,958.64 L507.96,961.73 L511.94,964.68 L515.93,967.50 L519.91,970.18 L523.90,972.73 L527.89,973.33" stroke="#56B4E9" stroke-width="1.6" fill="none" stroke-linejoin="round" stroke-linecap="butt"/>
<path d="M49.60,446.94 L52.00,448.12 L54.41,449.29 L56.81,450.46 L59.21,451.63 L61.62,452.80 L64.02,453.97 L66.42,455.14 L68.83,456.31 L71.23,457.48 L73.63,458.64 L76.04,459.81 L78.44,460.98 L80.84,462.14 L83.25,463.31 L85.65,464.48 L88.06,465.64 L90.46,466.80 L92.86,467.97 L95.27,469.13 L97.67,470.29 L100.07,471.45 L102.48,472.62 L104.88,473.78 L107.28,474.94 L109.69,476.10 L112.09,477.26 L114.49,478.41 L116.90,479.57 L119.30,480.73 L121.70,481.89 L124.11,483.04 L126.51,484.20 L128.91,485.35 L131.32,486.51 L133.72,487.66 L136.12,488.82 L138.53,489.97 L140.93,491.12 L143.33,492.28 L145.74,493.43 L148.14,494.58 L150.54,495.73 L152.95,496.88 L155.35,498.03 L157.76,499.18 L160.16,500.33 L162.56,501.47 L164.97,502.62 L167.37,503.77 L169.77,504.92 L172.18,506.06 L174.58,507.21 L176.98,508.35 L179.39,509.50 L181.79,510.64 L184.19,511.78 L186.60,512.93 L189.00,514.07 L191.40,515.21 L193.81,516.35 L196.21,517.49 L198.61,518.63 L201.02,519.77 L203.42,520.91 L205.82,522.05 L208.23,523.19 L210.63,524.32 L213.03,525.46 L215.44,526.60 L217.84,527.73 L220.24,528.87 L222.65,530.00 L225.05,531.14 L227.45,532.27 L229.86,533.40 L232.26,534.54 L234.67,535.67 L237.07,536.80 L239.47,537.93 L241.88,539.06 L244.28,540.19 L246.68,541.32 L249.09,542.45 L251.49,543.58 L253.89,544.71 L256.30,545.83 L258.70,546.96 L261.10,548.09 L263.51,549.21 L265.91,550.34 L268.31,551.46 L270.72,552.59 L273.12,553.71 L275.52,554.83 L277.93,555.95 L280.33,557.08 L282.73,558.20 L285.14,559.32 L287.54,560.44 L289.94,561.56 L292.35,562.68 L294.75,563.80 L297.15,564.92 L299.56,566.03 L301.96,567.15 L304.37,568.27 L306.77,569.38 L309.17,570.50 L311.58,571.61 L313.98,572.73 L316.38,573.84 L318.79,574.96 L321.19,576.07 L323.59,577.18 L326.00,578.29 L328.40,579.40 L330.80,580.52 L333.21,581.63 L335.61,582.74 L338.01,583.84 L340.42,584.95 L342.82,586.06 L345.22,587.17 L347.63,588.28 L350.03,589.38 L352.43,590.49 L354.84,591.59 L357.24,592.70 L359.64,593.80 L362.05,594.91 L364.45,596.01 L366.85,597.11 L369.26,598.22 L371.66,599.32 L374.07,600.42 L376.47,601.52 L378.87,602.62 L381.28,603.72 L383.68,604.82 L386.08,605.92 L388.49,607.02 L390.89,608.11 L393.29,609.21 L395.70,610.31 L398.10,611.40 L400.50,612.50 L402.91,613.59 L405.31,614.69 L407.71,615.78 L410.12,616.87 L412.52,617.97 L414.92,619.06 L417.33,620.15 L419.73,621.24 L422.13,622.33 L424.54,623.42 L426.94,624.51 L429.34,625.60 L431.75,626.69 L434.15,627.78 L436.55,628.87 L438.96,629.95 L441.36,631.04 L443.77,632.12 L446.17,633.21 L448.57,634.29 L450.98,635.38 L453.38,636.46 L455.78,637.55 L458.19,638.63 L460.59,639.71 L462.99,640.79 L465.40,641.87 L467.80,642.95 L470.20,644.03 L472.61,645.11 L475.01,646.19 L477.41,647.27 L479.82,648.35 L482.22,649.43 L484.62,650.50 L487.03,651.58 L489.43,652.65 L491.83,653.73 L494.24,654.80 L496.64,655.88 L499.04,656.95 L501.45,658.03 L503.85,659.10 L506.25,660.17 L508.66,661.24 L511.06,662.31 L513.47,663.38 L515.87,664.45 L518.27,665.52 L520.68,666.59 L523.08,667.66 L525.48,668.73 L527.89,669.79" stroke="#ff0000" stroke-width="1.6" fill="none" stroke-linejoin="round" stroke-linecap="butt" stroke-dasharray="5.1 2.2"/>
<path d="M49.60,458.32 L50.56,461.97 L51.35,493.28 L52.63,545.46 L54.62,602.34 L57.17,659.84 L59.56,681.13 L63.95,703.04 L65.54,707.22" stroke="#000000" stroke-width="1.6" fill="none" stroke-linejoin="round" stroke-linecap="butt" stroke-dasharray="5.1 2.2"/>
<path d="M48.00 452.94a1.6 1.6 0 1 0 3.2 0a1.6 1.6 0 1 0 -3.2 0M52.83 453.75a1.6 1.6 0 1 0 3.2 0a1.6 1.6 0 1 0 -3.2 0M57.66 454.56a1.6 1.6 0 1 0 3.2 0a1.6 1.6 0 1 0 -3.2 0M62.49 455.39a1.6 1.6 0 1 0 3.2 0a1.6 1.6 0 1 0 -3.2 0M67.32 456.21a1.6 1.6 0 1 0 3.2 0a1.6 1.6 0 1 0 -3.2 0M72.16 457.05a1.6 1.6 0 1 0 3.2 0a1.6 1.6 0 1 0 -3.2 0M76.99 457.89a1.6 1.6 0 1 0 3.2 0a1.6 1.6 0 1 0 -3.2 0M81.82 458.74a1.6 1.6 0 1 0 3.2 0a1.6 1.6 0 1 0 -3.2 0M86.65 459.59a1.6 1.6 0 1 0 3.2 0a1.6 1.6 0 1 0 -3.2 0M91.48 460.46a1.6 1.6 0 1 0 3.2 0a1.6 1.6 0 1 0 -3.2 0M96.31 461.33a1.6 1.6 0 1 0 3.2 0a1.6 1.6 0 1 0 -3.2 0M101.14 462.21a1.6 1.6 0 1 0 3.2 0a1.6 1.6 0 1 0 -3.2 0M105.97 463.09a1.6 1.6 0 1 0 3.2 0a1.6 1.6 0 1 0 -3.2 0M110.81 463.99a1.6 1.6 0 1 0 3.2 0a1.6 1.6 0 1 0 -3.2 0M115.64 464.89a1.6 1.6 0 1 0 3.2 0a1.6 1.6 0 1 0 -3.2 0M120.47 465.80a1.6 1.6 0 1 0 3.2 0a1.6 1.6 0 1 0 -3.2 0M125.30 466.71a1.6 1.6 0 1 0 3.2 0a1.6 1.6 0 1 0 -3.2 0M130.13 467.64a1.6 1.6 0 1 0 3.2 0a1.6 1.6 0 1 0 -3.2 0M134.96 468.57a1.6 1.6 0 1 0 3.2 0a1.6 1.6 0 1 0 -3.2 0M139.79 469.52a1.6 1.6 0 1 0 3.2 0a1.6 1.6 0 1 0 -3.2 0M144.62 470.47a1.6 1.6 0 1 0 3.2 0a1.6 1.6 0 1 0 -3.2 0M149.45 471.43a1.6 1.6 0 1 0 3.2 0a1.6 1.6 0 1 0 -3.2 0M154.29 472.40a1.6 1.6 0 1 0 3.2 0a1.6 1.6 0 1 0 -3.2 0M159.12 473.37a1.6 1.6 0 1 0 3.2 0a1.6 1.6 0 1 0 -3.2 0M163.95 474.36a1.6 1.6 0 1 0 3.2 0a1.6 1.6 0 1 0 -3.2 0M168.78 475.36a1.6 1.6 0 1 0 3.2 0a1.6 1.6 0 1 0 -3.2 0M173.61 476.36a1.6 1.6 0 1 0 3.2 0a1.6 1.6 0 1 0 -3.2 0M178.44 477.38a1.6 1.6 0 1 0 3.2 0a1.6 1.6 0 1 0 -3.2 0M183.27 478.40a1.6 1.6 0 1 0 3.2 0a1.6 1.6 0 1 0 -3.2 0M188.10 479.43a1.6 1.6 0 1 0 3.2 0a1.6 1.6 0 1 0 -3.2 0M192.94 480.48a1.6 1.6 0 1 0 3.2 0a1.6 1.6 0 1 0 -3.2 0M197.77 481.53a1.6 1.6 0 1 0 3.2 0a1.6 1.6 0 1 0 -3.2 0M202.60 482.60a1.6 1.6 0 1 0 3.2 0a1.6 1.6 0 1 0 -3.2 0M207.43 483.67a1.6 1.6 0 1 0 3.2 0a1.6 1.6 0 1 0 -3.2 0M212.26 484.75a1.6 1.6 0 1 0 3.2 0a1.6 1.6 0 1 0 -3.2 0M217.09 485.85a1.6 1.6 0 1 0 3.2 0a1.6 1.6 0 1 0 -3.2 0M221.92 486.96a1.6 1.6 0 1 0 3.2 0a1.6 1.6 0 1 0 -3.2 0M226.75 488.07a1.6 1.6 0 1 0 3.2 0a1.6 1.6 0 1 0 -3.2 0M231.58 489.20a1.6 1.6 0 1 0 3.2 0a1.6 1.6 0 1 0 -3.2 0M236.42 490.34a1.6 1.6 0 1 0 3.2 0a1.6 1.6 0 1 0 -3.2 0M241.25 491.49a1.6 1.6 0 1 0 3.2 0a1.6 1.6 0 1 0 -3.2 0M246.08 492.65a1.6 1.6 0 1 0 3.2 0a1.6 1.6 0 1 0 -3.2 0M250.91 493.83a1.6 1.6 0 1 0 3.2 0a1.6 1.6 0 1 0 -3.2 0M255.74 495.01a1.6 1.6 0 1 0 3.2 0a1.6 1.6 0 1 0 -3.2 0M260.57 496.21a1.6 1.6 0 1 0 3.2 0a1.6 1.6 0 1 0 -3.2 0M265.40 497.42a1.6 1.6 0 1 0 3.2 0a1.6 1.6 0 1 0 -3.2 0M270.23 498.65a1.6 1.6 0 1 0 3.2 0a1.6 1.6 0 1 0 -3.2 0M275.06 499.88a1.6 1.6 0 1 0 3.2 0a1.6 1.6 0 1 0 -3.2 0M279.90 501.13a1.6 1.6 0 1 0 3.2 0a1.6 1.6 0 1 0 -3.2 0M284.73 502.39a1.6 1.6 0 1 0 3.2 0a1.6 1.6 0 1 0 -3.2 0M289.56 503.67a1.6 1.6 0 1 0 3.2 0a1.6 1.6 0 1 0 -3.2 0M294.39 504.96a1.6 1.6 0 1 0 3.2 0a1.6 1.6 0 1 0 -3.2 0M299.22 506.26a1.6 1.6 0 1 0 3.2 0a1.6 1.6 0 1 0 -3.2 0M304.05 507.58a1.6 1.6 0 1 0 3.2 0a1.6 1.6 0 1 0 -3.2 0M308.88 508.91a1.6 1.6 0 1 0 3.2 0a1.6 1.6 0 1 0 -3.2 0M313.71 510.26a1.6 1.6 0 1 0 3.2 0a1.6 1.6 0 1 0 -3.2 0M318.55 511.62a1.6 1.6 0 1 0 3.2 0a1.6 1.6 0 1 0 -3.2 0M323.38 513.00a1.6 1.6 0 1 0 3.2 0a1.6 1.6 0 1 0 -3.2 0M328.21 514.39a1.6 1.6 0 1 0 3.2 0a1.6 1.6 0 1 0 -3.2 0M333.04 515.80a1.6 1.6 0 1 0 3.2 0a1.6 1.6 0 1 0 -3.2 0M337.87 517.22a1.6 1.6 0 1 0 3.2 0a1.6 1.6 0 1 0 -3.2 0M342.70 518.66a1.6 1.6 0 1 0 3.2 0a1.6 1.6 0 1 0 -3.2 0M347.53 520.12a1.6 1.6 0 1 0 3.2 0a1.6 1.6 0 1 0 -3.2 0M352.36 521.59a1.6 1.6 0 1 0 3.2 0a1.6 1.6 0 1 0 -3.2 0M357.19 523.08a1.6 1.6 0 1 0 3.2 0a1.6 1.6 0 1 0 -3.2 0M362.03 524.59a1.6 1.6 0 1 0 3.2 0a1.6 1.6 0 1 0 -3.2 0M366.86 526.11a1.6 1.6 0 1 0 3.2 0a1.6 1.6 0 1 0 -3.2 0M371.69 527.66a1.6 1.6 0 1 0 3.2 0a1.6 1.6 0 1 0 -3.2 0M376.52 529.22a1.6 1.6 0 1 0 3.2 0a1.6 1.6 0 1 0 -3.2 0M381.35 530.80a1.6 1.6 0 1 0 3.2 0a1.6 1.6 0 1 0 -3.2 0M386.18 532.40a1.6 1.6 0 1 0 3.2 0a1.6 1.6 0 1 0 -3.2 0M391.01 534.02a1.6 1.6 0 1 0 3.2 0a1.6 1.6 0 1 0 -3.2 0M395.84 535.66a1.6 1.6 0 1 0 3.2 0a1.6 1.6 0 1 0 -3.2 0M400.68 537.32a1.6 1.6 0 1 0 3.2 0a1.6 1.6 0 1 0 -3.2 0M405.51 539.00a1.6 1.6 0 1 0 3.2 0a1.6 1.6 0 1 0 -3.2 0M410.34 540.70a1.6 1.6 0 1 0 3.2 0a1.6 1.6 0 1 0 -3.2 0M415.17 542.42a1.6 1.6 0 1 0 3.2 0a1.6 1.6 0 1 0 -3.2 0M420.00 544.17a1.6 1.6 0 1 0 3.2 0a1.6 1.6 0 1 0 -3.2 0M424.83 545.94a1.6 1.6 0 1 0 3.2 0a1.6 1.6 0 1 0 -3.2 0M429.66 547.73a1.6 1.6 0 1 0 3.2 0a1.6 1.6 0 1 0 -3.2 0M434.49 549.54a1.6 1.6 0 1 0 3.2 0a1.6 1.6 0 1 0 -3.2 0M439.32 551.38a1.6 1.6 0 1 0 3.2 0a1.6 1.6 0 1 0 -3.2 0M444.16 553.24a1.6 1.6 0 1 0 3.2 0a1.6 1.6 0 1 0 -3.2 0M448.99 555.12a1.6 1.6 0 1 0 3.2 0a1.6 1.6 0 1 0 -3.2 0M453.82 557.04a1.6 1.6 0 1 0 3.2 0a1.6 1.6 0 1 0 -3.2 0M458.65 558.97a1.6 1.6 0 1 0 3.2 0a1.6 1.6 0 1 0 -3.2 0M463.48 560.94a1.6 1.6 0 1 0 3.2 0a1.6 1.6 0 1 0 -3.2 0M468.31 562.93a1.6 1.6 0 1 0 3.2 0a1.6 1.6 0 1 0 -3.2 0M473.14 564.95a1.6 1.6 0 1 0 3.2 0a1.6 1.6 0 1 0 -3.2 0M477.97 566.99a1.6 1.6 0 1 0 3.2 0a1.6 1.6 0 1 0 -3.2 0M482.81 569.07a1.6 1.6 0 1 0 3.2 0a1.6 1.6 0 1 0 -3.2 0M487.64 571.18a1.6 1.6 0 1 0 3.2 0a1.6 1.6 0 1 0 -3.2 0M492.47 573.31a1.6 1.6 0 1 0 3.2 0a1.6 1.6 0 1 0 -3.2 0M497.30 575.48a1.6 1.6 0 1 0 3.2 0a1.6 1.6 0 1 0 -3.2 0M502.13 577.68a1.6 1.6 0 1 0 3.2 0a1.6 1.6 0 1 0 -3.2 0M506.96 579.91a1.6 1.6 0 1 0 3.2 0a1.6 1.6 0 1 0 -3.2 0M511.79 582.17a1.6 1.6 0 1 0 3.2 0a1.6 1.6 0 1 0 -3.2 0M516.62 584.47a1.6 1.6 0 1 0 3.2 0a1.6 1.6 0 1 0 -3.2 0M521.45 586.80a1.6 1.6 0 1 0 3.2 0a1.6 1.6 0 1 0 -3.2 0M526.29 589.17a1.6 1.6 0 1 0 3.2 0a1.6 1.6 0 1 0 -3.2 0" fill="#0000ff"/>
<path d="M48.00 462.39a1.6 1.6 0 1 0 3.2 0a1.6 1.6 0 1 0 -3.2 0M52.83 661.72a1.6 1.6 0 1 0 3.2 0a1.6 1.6 0 1 0 -3.2 0M57.66 690.58a1.6 1.6 0 1 0 3.2 0a1.6 1.6 0 1 0 -3.2 0M62.49 714.44a1.6 1.6 0 1 0 3.2 0a1.6 1.6 0 1 0 -3.2 0M67.32 734.57a1.6 1.6 0 1 0 3.2 0a1.6 1.6 0 1 0 -3.2 0M72.16 751.85a1.6 1.6 0 1 0 3.2 0a1.6 1.6 0 1 0 -3.2 0M76.99 766.89a1.6 1.6 0 1 0 3.2 0a1.6 1.6 0 1 0 -3.2 0M81.82 780.13a1.6 1.6 0 1 0 3.2 0a1.6 1.6 0 1 0 -3.2 0M86.65 791.89a1.6 1.6 0 1 0 3.2 0a1.6 1.6 0 1 0 -3.2 0M91.48 802.43a1.6 1.6 0 1 0 3.2 0a1.6 1.6 0 1 0 -3.2 0M96.31 811.95a1.6 1.6 0 1 0 3.2 0a1.6 1.6 0 1 0 -3.2 0M101.14 820.59a1.6 1.6 0 1 0 3.2 0a1.6 1.6 0 1 0 -3.2 0M105.97 828.49a1.6 1.6 0 1 0 3.2 0a1.6 1.6 0 1 0 -3.2 0M110.81 835.73a1.6 1.6 0 1 0 3.2 0a1.6 1.6 0 1 0 -3.2 0M115.64 842.41a1.6 1.6 0 1 0 3.2 0a1.6 1.6 0 1 0 -3.2 0M120.47 848.58a1.6 1.6 0 1 0 3.2 0a1.6 1.6 0 1 0 -3.2 0M125.30 854.32a1.6 1.6 0 1 0 3.2 0a1.6 1.6 0 1 0 -3.2 0M130.13 859.67a1.6 1.6 0 1 0 3.2 0a1.6 1.6 0 1 0 -3.2 0M134.96 864.66a1.6 1.6 0 1 0 3.2 0a1.6 1.6 0 1 0 -3.2 0M139.79 869.34a1.6 1.6 0 1 0 3.2 0a1.6 1.6 0 1 0 -3.2 0M144.62 873.74a1.6 1.6 0 1 0 3.2 0a1.6 1.6 0 1 0 -3.2 0M149.45 877.87a1.6 1.6 0 1 0 3.2 0a1.6 1.6 0 1 0 -3.2 0M154.29 881.77a1.6 1.6 0 1 0 3.2 0a1.6 1.6 0 1 0 -3.2 0M159.12 885.46a1.6 1.6 0 1 0 3.2 0a1.6 1.6 0 1 0 -3.2 0M163.95 888.95a1.6 1.6 0 1 0 3.2 0a1.6 1.6 0 1 0 -3.2 0M168.78 892.27a1.6 1.6 0 1 0 3.2 0a1.6 1.6 0 1 0 -3.2 0M173.61 895.41a1.6 1.6 0 1 0 3.2 0a1.6 1.6 0 1 0 -3.2 0M178.44 898.40a1.6 1.6 0 1 0 3.2 0a1.6 1.6 0 1 0 -3.2 0M183.27 901.25a1.6 1.6 0 1 0 3.2 0a1.6 1.6 0 1 0 -3.2 0M188.10 903.97a1.6 1.6 0 1 0 3.2 0a1.6 1.6 0 1 0 -3.2 0M192.94 906.57a1.6 1.6 0 1 0 3.2 0a1.6 1.6 0 1 0 -3.2 0M197.77 909.05a1.6 1.6 0 1 0 3.2 0a1.6 1.6 0 1 0 -3.2 0M202.60 911.43a1.6 1.6 0 1 0 3.2 0a1.6 1.6 0 1 0 -3.2 0M207.43 913.70a1.6 1.6 0 1 0 3.2 0a1.6 1.6 0 1 0 -3.2 0M212.26 915.88a1.6 1.6 0 1 0 3.2 0a1.6 1.6 0 1 0 -3.2 0M217.09 917.98a1.6 1.6 0 1 0 3.2 0a1.6 1.6 0 1 0 -3.2 0M221.92 919.99a1.6 1.6 0 1 0 3.2 0a1.6 1.6 0 1 0 -3.2 0M226.75 921.92a1.6 1.6 0 1 0 3.2 0a1.6 1.6 0 1 0 -3.2 0M231.58 923.78a1.6 1.6 0 1 0 3.2 0a1.6 1.6 0 1 0 -3.2 0M236.42 925.58a1.6 1.6 0 1 0 3.2 0a1.6 1.6 0 1 0 -3.2 0M241.25 927.30a1.6 1.6 0 1 0 3.2 0a1.6 1.6 0 1 0 -3.2 0M246.08 928.97a1.6 1.6 0 1 0 3.2 0a1.6 1.6 0 1 0 -3.2 0M250.91 930.57a1.6 1.6 0 1 0 3.2 0a1.6 1.6 0 1 0 -3.2 0M255.74 932.12a1.6 1.6 0 1 0 3.2 0a1.6 1.6 0 1 0 -3.2 0M260.57 933.62a1.6 1.6 0 1 0 3.2 0a1.6 1.6 0 1 0 -3.2 0M265.40 935.06a1.6 1.6 0 1 0 3.2 0a1.6 1.6 0 1 0 -3.2 0M270.23 936.46a1.6 1.6 0 1 0 3.2 0a1.6 1.6 0 1 0 -3.2 0M275.06 937.81a1.6 1.6 0 1 0 3.2 0a1.6 1.6 0 1 0 -3.2 0M279.90 939.12a1.6 1.6 0 1 0 3.2 0a1.6 1.6 0 1 0 -3.2 0M284.73 940.39a1.6 1.6 0 1 0 3.2 0a1.6 1.6 0 1 0 -3.2 0M289.56 941.61a1.6 1.6 0 1 0 3.2 0a1.6 1.6 0 1 0 -3.2 0M294.39 942.80a1.6 1.6 0 1 0 3.2 0a1.6 1.6 0 1 0 -3.2 0M299.22 943.95a1.6 1.6 0 1 0 3.2 0a1.6 1.6 0 1 0 -3.2 0M304.05 945.07a1.6 1.6 0 1 0 3.2 0a1.6 1.6 0 1 0 -3.2 0M308.88 946.15a1.6 1.6 0 1 0 3.2 0a1.6 1.6 0 1 0 -3.2 0M313.71 947.20a1.6 1.6 0 1 0 3.2 0a1.6 1.6 0 1 0 -3.2 0M318.55 948.22a1.6 1.6 0 1 0 3.2 0a1.6 1.6 0 1 0 -3.2 0M323.38 949.21a1.6 1.6 0 1 0 3.2 0a1.6 1.6 0 1 0 -3.2 0M328.21 950.17a1.6 1.6 0 1 0 3.2 0a1.6 1.6 0 1 0 -3.2 0M333.04 951.11a1.6 1.6 0 1 0 3.2 0a1.6 1.6 0 1 0 -3.2 0M337.87 952.01a1.6 1.6 0 1 0 3.2 0a1.6 1.6 0 1 0 -3.2 0M342.70 952.89a1.6 1.6 0 1 0 3.2 0a1.6 1.6 0 1 0 -3.2 0M347.53 953.75a1.6 1.6 0 1 0 3.2 0a1.6 1.6 0 1 0 -3.2 0M352.36 954.58a1.6 1.6 0 1 0 3.2 0a1.6 1.6 0 1 0 -3.2 0M357.19 955.39a1.6 1.6 0 1 0 3.2 0a1.6 1.6 0 1 0 -3.2 0M362.03 956.18a1.6 1.6 0 1 0 3.2 0a1.6 1.6 0 1 0 -3.2 0M366.86 956.94a1.6 1.6 0 1 0 3.2 0a1.6 1.6 0 1 0 -3.2 0M371.69 957.69a1.6 1.6 0 1 0 3.2 0a1.6 1.6 0 1 0 -3.2 0M376.52 958.41a1.6 1.6 0 1 0 3.2 0a1.6 1.6 0 1 0 -3.2 0M381.35 959.12a1.6 1.6 0 1 0 3.2 0a1.6 1.6 0 1 0 -3.2 0M386.18 959.80a1.6 1.6 0 1 0 3.2 0a1.6 1.6 0 1 0 -3.2 0M391.01 960.47a1.6 1.6 0 1 0 3.2 0a1.6 1.6 0 1 0 -3.2 0M395.84 961.12a1.6 1.6 0 1 0 3.2 0a1.6 1.6 0 1 0 -3.2 0M400.68 961.75a1.6 1.6 0 1 0 3.2 0a1.6 1.6 0 1 0 -3.2 0M405.51 962.37a1.6 1.6 0 1 0 3.2 0a1.6 1.6 0 1 0 -3.2 0M410.34 962.96a1.6 1.6 0 1 0 3.2 0a1.6 1.6 0 1 0 -3.2 0M415.17 963.55a1.6 1.6 0 1 0 3.2 0a1.6 1.6 0 1 0 -3.2 0M420.00 964.11a1.6 1.6 0 1 0 3.2 0a1.6 1.6 0 1 0 -3.2 0M424.83 964.67a1.6 1.6 0 1 0 3.2 0a1.6 1.6 0 1 0 -3.2 0M429.66 965.20a1.6 1.6 0 1 0 3.2 0a1.6 1.6 0 1 0 -3.2 0M434.49 965.73a1.6 1.6 0 1 0 3.2 0a1.6 1.6 0 1 0 -3.2 0M439.32 966.24a1.6 1.6 0 1 0 3.2 0a1.6 1.6 0 1 0 -3.2 0M444.16 966.73a1.6 1.6 0 1 0 3.2 0a1.6 1.6 0 1 0 -3.2 0M448.99 967.21a1.6 1.6 0 1 0 3.2 0a1.6 1.6 0 1 0 -3.2 0M453.82 967.68a1.6 1.6 0 1 0 3.2 0a1.6 1.6 0 1 0 -3.2 0M458.65 968.14a1.6 1.6 0 1 0 3.2 0a1.6 1.6 0 1 0 -3.2 0M463.48 968.58a1.6 1.6 0 1 0 3.2 0a1.6 1.6 0 1 0 -3.2 0M468.31 969.01a1.6 1.6 0 1 0 3.2 0a1.6 1.6 0 1 0 -3.2 0M473.14 969.43a1.6 1.6 0 1 0 3.2 0a1.6 1.6 0 1 0 -3.2 0M477.97 969.84a1.6 1.6 0 1 0 3.2 0a1.6 1.6 0 1 0 -3.2 0M482.81 970.24a1.6 1.6 0 1 0 3.2 0a1.6 1.6 0 1 0 -3.2 0M487.64 970.62a1.6 1.6 0 1 0 3.2 0a1.6 1.6 0 1 0 -3.2 0M492.47 971.00a1.6 1.6 0 1 0 3.2 0a1.6 1.6 0 1 0 -3.2 0M497.30 971.36a1.6 1.6 0 1 0 3.2 0a1.6 1.6 0 1 0 -3.2 0M502.13 971.72a1.6 1.6 0 1 0 3.2 0a1.6 1.6 0 1 0 -3.2 0M506.96 972.06a1.6 1.6 0 1 0 3.2 0a1.6 1.6 0 1 0 -3.2 0M511.79 972.39a1.6 1.6 0 1 0 3.2 0a1.6 1.6 0 1 0 -3.2 0M516.62 972.72a1.6 1.6 0 1 0 3.2 0a1.6 1.6 0 1 0 -3.2 0M521.45 973.03a1.6 1.6 0 1 0 3.2 0a1.6 1.6 0 1 0 -3.2 0M526.29 973.33a1.6 1.6 0 1 0 3.2 0a1.6 1.6 0 1 0 -3.2 0" fill="#bf00bf"/>
</g>
<rect x="49.6" y="441.1" width="279.00" height="260.90" fill="none" stroke="#bcbcbc" stroke-width="1"/>
<path d="M89.46 702.0v-3M129.31 702.0v-3M169.17 702.0v-3M209.03 702.0v-3M248.89 702.0v-3M288.74 702.0v-3M49.6 649.82h3M49.6 597.64h3M49.6 545.46h3M49.6 493.28h3" stroke="#222" stroke-width="0.7" fill="none"/>
<text x="49.60" y="713.10" font-size="10.6" font-family='"Liberation Sans", sans-serif' text-anchor="middle" fill="#000" textLength="23.16" lengthAdjust="spacingAndGlyphs" class="s">0.00</text>
<text x="89.46" y="713.10" font-size="10.6" font-family='"Liberation Sans", sans-serif' text-anchor="middle" fill="#000" textLength="23.16" lengthAdjust="spacingAndGlyphs" class="s">0.05</text>
<text x="129.31" y="713.10" font-size="10.6" font-family='"Liberation Sans", sans-serif' text-anchor="middle" fill="#000" textLength="23.16" lengthAdjust="spacingAndGlyphs" class="s">0.10</text>
<text x="169.17" y="713.10" font-size="10.6" font-family='"Liberation Sans", sans-serif' text-anchor="middle" fill="#000" textLength="23.16" lengthAdjust="spacingAndGlyphs" class="s">0.15</text>
<text x="209.03" y="713.10" font-size="10.6" font-family='"Liberation Sans", sans-serif' text-anchor="middle" fill="#000" textLength="23.16" lengthAdjust="spacingAndGlyphs" class="s">0.20</text>
<text x="248.89" y="713.10" font-size="10.6" font-family='"Liberation Sans", sans-serif' text-anchor="middle" fill="#000" textLength="23.16" lengthAdjust="spacingAndGlyphs" class="s">0.25</text>
<text x="288.74" y="713.10" font-size="10.6" font-family='"Liberation Sans", sans-serif' text-anchor="middle" fill="#000" textLength="23.16" lengthAdjust="spacingAndGlyphs" class="s">0.30</text>
<text x="328.60" y="713.10" font-size="10.6" font-family='"Liberation Sans", sans-serif' text-anchor="middle" fill="#000" textLength="23.16" lengthAdjust="spacingAndGlyphs" class="s">0.35</text>
<text x="46.10" y="706.20" font-size="10.6" font-family='"Liberation Sans", sans-serif' text-anchor="end" fill="#000" textLength="26.47" lengthAdjust="spacingAndGlyphs" class="s">4000</text>
<text x="46.10" y="654.02" font-size="10.6" font-family='"Liberation Sans", sans-serif' text-anchor="end" fill="#000" textLength="26.47" lengthAdjust="spacingAndGlyphs" class="s">4500</text>
<text x="46.10" y="601.84" font-size="10.6" font-family='"Liberation Sans", sans-serif' text-anchor="end" fill="#000" textLength="26.47" lengthAdjust="spacingAndGlyphs" class="s">5000</text>
<text x="46.10" y="549.66" font-size="10.6" font-family='"Liberation Sans", sans-serif' text-anchor="end" fill="#000" textLength="26.47" lengthAdjust="spacingAndGlyphs" class="s">5500</text>
<text x="46.10" y="497.48" font-size="10.6" font-family='"Liberation Sans", sans-serif' text-anchor="end" fill="#000" textLength="26.47" lengthAdjust="spacingAndGlyphs" class="s">6000</text>
<text x="46.10" y="445.30" font-size="10.6" font-family='"Liberation Sans", sans-serif' text-anchor="end" fill="#000" textLength="26.47" lengthAdjust="spacingAndGlyphs" class="s">6500</text>
<rect x="212.6" y="444.7" width="112.40" height="232.50" rx="2" ry="2" fill="#eeeeee" fill-opacity="0.8" stroke="#cccccc" stroke-opacity="0.8" stroke-width="0.8"/>
<path d="M214.90 451.20H232.10" stroke="#348ABD" stroke-width="1.6"/>
<text x="237.70" y="453.50" font-size="7.95" font-family='"Liberation Sans", sans-serif' text-anchor="start" fill="#000" textLength="17.43" lengthAdjust="spacingAndGlyphs" class="s">0.05</text>
<path d="M214.90 462.75H232.10" stroke="#A60628" stroke-width="1.6"/>
<text x="237.70" y="465.05" font-size="7.95" font-family='"Liberation Sans", sans-serif' text-anchor="start" fill="#000" textLength="12.45" lengthAdjust="spacingAndGlyphs" class="s">0.1</text>
<path d="M214.90 474.30H232.10" stroke="#7A68A6" stroke-width="1.6"/>
<text x="237.70" y="476.60" font-size="7.95" font-family='"Liberation Sans", sans-serif' text-anchor="start" fill="#000" textLength="17.43" lengthAdjust="spacingAndGlyphs" class="s">0.15</text>
<path d="M214.90 485.85H232.10" stroke="#467821" stroke-width="1.6"/>
<text x="237.70" y="488.15" font-size="7.95" font-family='"Liberation Sans", sans-serif' text-anchor="start" fill="#000" textLength="12.45" lengthAdjust="spacingAndGlyphs" class="s">0.2</text>
<path d="M214.90 497.40H232.10" stroke="#D55E00" stroke-width="1.6"/>
<text x="237.70" y="499.70" font-size="7.95" font-family='"Liberation Sans", sans-serif' text-anchor="start" fill="#000" textLength="12.45" lengthAdjust="spacingAndGlyphs" class="s">0.3</text>
<path d="M214.90 508.95H232.10" stroke="#CC79A7" stroke-width="1.6"/>
<text x="237.70" y="511.25" font-size="7.95" font-family='"Liberation Sans", sans-serif' text-anchor="start" fill="#000" textLength="12.45" lengthAdjust="spacingAndGlyphs" class="s">0.4</text>
<path d="M214.90 520.50H232.10" stroke="#56B4E9" stroke-width="1.6"/>
<text x="237.70" y="522.80" font-size="7.95" font-family='"Liberation Sans", sans-serif' text-anchor="start" fill="#000" textLength="12.45" lengthAdjust="spacingAndGlyphs" class="s">0.5</text>
<path d="M215.70 532.05h5.85M223.85 532.05h5.85" stroke="#ff0000" stroke-width="1.6"/>
<text x="237.70" y="534.35" font-size="7.95" font-family='"Liberation Sans", sans-serif' text-anchor="start" fill="#000" textLength="69.52" lengthAdjust="spacingAndGlyphs" class="s">Upper bound - HS</text>
<path d="M215.70 543.60h5.85M223.85 543.60h5.85" stroke="#000000" stroke-width="1.6"/>
<text x="237.70" y="545.90" font-size="7.95" font-family='"Liberation Sans", sans-serif' text-anchor="start" fill="#000" textLength="69.26" lengthAdjust="spacingAndGlyphs" class="s">Lower bound - HS</text>
<circle cx="223.50" cy="555.15" r="1.5" fill="#0000ff"/>
<text x="237.70" y="557.45" font-size="7.95" font-family='"Liberation Sans", sans-serif' text-anchor="start" fill="#000" textLength="46.90" lengthAdjust="spacingAndGlyphs" class="s">Voigt bound</text>
<circle cx="223.50" cy="566.70" r="1.5" fill="#bf00bf"/>
<text x="237.70" y="569.00" font-size="7.95" font-family='"Liberation Sans", sans-serif' text-anchor="start" fill="#000" textLength="50.17" lengthAdjust="spacingAndGlyphs" class="s">Reuss bound</text>
<path d="M223.50,575.05 L224.31,577.54 L226.92,577.54 L224.81,579.07 L225.62,581.56 L223.50,580.03 L221.38,581.56 L222.19,579.07 L220.08,577.54 L222.69,577.54Z" fill="#ff0000"/>
<text x="237.70" y="580.55" font-size="7.95" font-family='"Liberation Sans", sans-serif' text-anchor="start" fill="#000" textLength="80.94" lengthAdjust="spacingAndGlyphs" class="s">4991.4048 (well log)</text>
<path d="M223.50,586.60 L224.31,589.09 L226.92,589.09 L224.81,590.62 L225.62,593.11 L223.50,591.58 L221.38,593.11 L222.19,590.62 L220.08,589.09 L222.69,589.09Z" fill="#0000ff"/>
<text x="237.70" y="592.10" font-size="7.95" font-family='"Liberation Sans", sans-serif' text-anchor="start" fill="#000" textLength="83.91" lengthAdjust="spacingAndGlyphs" class="s">4991.4 (core sample)</text>
<path d="M223.50,598.05 L220.20,604.65 L226.80,604.65Z" fill="#ff0000"/>
<text x="237.70" y="603.65" font-size="7.95" font-family='"Liberation Sans", sans-serif' text-anchor="start" fill="#000" textLength="42.34" lengthAdjust="spacingAndGlyphs" class="s">5034.2292</text>
<path d="M223.50,609.60 L220.20,616.20 L226.80,616.20Z" fill="#0000ff"/>
<text x="237.70" y="615.20" font-size="7.95" font-family='"Liberation Sans", sans-serif' text-anchor="start" fill="#000" textLength="27.40" lengthAdjust="spacingAndGlyphs" class="s">5034.2</text>
<path d="M223.50,621.45 L226.64,623.73 L225.44,627.42 L221.56,627.42 L220.36,623.73Z" fill="#ff0000"/>
<text x="237.70" y="626.75" font-size="7.95" font-family='"Liberation Sans", sans-serif' text-anchor="start" fill="#000" textLength="42.34" lengthAdjust="spacingAndGlyphs" class="s">5061.8136</text>
<path d="M223.50,633.00 L226.64,635.28 L225.44,638.97 L221.56,638.97 L220.36,635.28Z" fill="#0000ff"/>
<text x="237.70" y="638.30" font-size="7.95" font-family='"Liberation Sans", sans-serif' text-anchor="start" fill="#000" textLength="27.40" lengthAdjust="spacingAndGlyphs" class="s">5061.8</text>
<path d="M223.50,642.95 L228.10,647.55 L223.50,652.15 L218.90,647.55Z" fill="#ff0000"/>
<text x="237.70" y="649.85" font-size="7.95" font-family='"Liberation Sans", sans-serif' text-anchor="start" fill="#000" textLength="42.34" lengthAdjust="spacingAndGlyphs" class="s">5072.4816</text>
<path d="M223.50,654.50 L228.10,659.10 L223.50,663.70 L218.90,659.10Z" fill="#0000ff"/>
<text x="237.70" y="661.40" font-size="7.95" font-family='"Liberation Sans", sans-serif' text-anchor="start" fill="#000" textLength="27.40" lengthAdjust="spacingAndGlyphs" class="s">5072.5</text>
<path d="M223.50,666.05 L228.10,670.65 L223.50,675.25 L218.90,670.65Z" fill="#000000"/>
<text x="237.70" y="672.95" font-size="7.95" font-family='"Liberation Sans", sans-serif' text-anchor="start" fill="#000" textLength="74.58" lengthAdjust="spacingAndGlyphs" class="s">5072.5 (from mCT)</text>
<g clip-path="url(#cBL)">
<path d="M144.30,645.90 L145.11,648.39 L147.72,648.39 L145.61,649.92 L146.42,652.41 L144.30,650.88 L142.18,652.41 L142.99,649.92 L140.88,648.39 L143.49,648.39Z" fill="#ff0000"/>
<path d="M126.90,695.00 L127.71,697.49 L130.32,697.49 L128.21,699.02 L129.02,701.51 L126.90,699.98 L124.78,701.51 L125.59,699.02 L123.48,697.49 L126.09,697.49Z" fill="#0000ff"/>
<path d="M129.90,556.00 L126.60,562.60 L133.20,562.60Z" fill="#ff0000"/>
<path d="M114.00,627.90 L110.70,634.50 L117.30,634.50Z" fill="#0000ff"/>
<path d="M234.40,611.60 L237.54,613.88 L236.34,617.57 L232.46,617.57 L231.26,613.88Z" fill="#ff0000"/>
<path d="M115.70,544.90 L118.84,547.18 L117.64,550.87 L113.76,550.87 L112.56,547.18Z" fill="#0000ff"/>
<path d="M131.80,586.90 L136.40,591.50 L131.80,596.10 L127.20,591.50Z" fill="#ff0000"/>
<path d="M169.60,659.40 L174.20,664.00 L169.60,668.60 L165.00,664.00Z" fill="#0000ff"/>
<path d="M109.65,469.90 L114.25,474.50 L109.65,479.10 L105.05,474.50Z" fill="#000000"/>
</g>
<clipPath id="cBR"><rect x="384.6" y="441.3" width="278.80" height="260.40"/></clipPath>
<rect x="384.6" y="441.3" width="278.80" height="260.40" fill="#eeeeee"/>
<path d="M424.43 441.3V701.7M464.26 441.3V701.7M504.09 441.3V701.7M543.91 441.3V701.7M583.74 441.3V701.7M623.57 441.3V701.7M384.6 671.06H663.4M384.6 640.43H663.4M384.6 609.79H663.4M384.6 579.16H663.4M384.6 548.52H663.4M384.6 517.89H663.4M384.6 487.25H663.4M384.6 456.62H663.4" stroke="#b4b4b4" stroke-width="0.7" stroke-dasharray="1.5 0.6" fill="none"/>
<g clip-path="url(#cBR)">
<path d="M476.2 585.2a2.6 2.6 0 1 0 5.2 0a2.6 2.6 0 1 0 -5.2 0M484.4 590.3a2.6 2.6 0 1 0 5.2 0a2.6 2.6 0 1 0 -5.2 0M489.5 590.3a2.6 2.6 0 1 0 5.2 0a2.6 2.6 0 1 0 -5.2 0M488.5 596.4a2.6 2.6 0 1 0 5.2 0a2.6 2.6 0 1 0 -5.2 0M496.7 591.3a2.6 2.6 0 1 0 5.2 0a2.6 2.6 0 1 0 -5.2 0M495.6 600.5a2.6 2.6 0 1 0 5.2 0a2.6 2.6 0 1 0 -5.2 0M499.7 602.6a2.6 2.6 0 1 0 5.2 0a2.6 2.6 0 1 0 -5.2 0M502.8 595.4a2.6 2.6 0 1 0 5.2 0a2.6 2.6 0 1 0 -5.2 0M505.9 591.3a2.6 2.6 0 1 0 5.2 0a2.6 2.6 0 1 0 -5.2 0M504.8 597.4a2.6 2.6 0 1 0 5.2 0a2.6 2.6 0 1 0 -5.2 0M510.0 599.5a2.6 2.6 0 1 0 5.2 0a2.6 2.6 0 1 0 -5.2 0M513.0 607.7a2.6 2.6 0 1 0 5.2 0a2.6 2.6 0 1 0 -5.2 0M511.0 610.7a2.6 2.6 0 1 0 5.2 0a2.6 2.6 0 1 0 -5.2 0M517.1 612.8a2.6 2.6 0 1 0 5.2 0a2.6 2.6 0 1 0 -5.2 0M521.2 610.7a2.6 2.6 0 1 0 5.2 0a2.6 2.6 0 1 0 -5.2 0M525.3 609.7a2.6 2.6 0 1 0 5.2 0a2.6 2.6 0 1 0 -5.2 0M519.1 602.6a2.6 2.6 0 1 0 5.2 0a2.6 2.6 0 1 0 -5.2 0M524.3 613.8a2.6 2.6 0 1 0 5.2 0a2.6 2.6 0 1 0 -5.2 0M526.3 615.8a2.6 2.6 0 1 0 5.2 0a2.6 2.6 0 1 0 -5.2 0M531.4 607.7a2.6 2.6 0 1 0 5.2 0a2.6 2.6 0 1 0 -5.2 0M533.5 610.7a2.6 2.6 0 1 0 5.2 0a2.6 2.6 0 1 0 -5.2 0M537.5 607.7a2.6 2.6 0 1 0 5.2 0a2.6 2.6 0 1 0 -5.2 0M535.5 613.8a2.6 2.6 0 1 0 5.2 0a2.6 2.6 0 1 0 -5.2 0M532.4 617.9a2.6 2.6 0 1 0 5.2 0a2.6 2.6 0 1 0 -5.2 0M537.5 618.9a2.6 2.6 0 1 0 5.2 0a2.6 2.6 0 1 0 -5.2 0M536.5 623.0a2.6 2.6 0 1 0 5.2 0a2.6 2.6 0 1 0 -5.2 0M518.1 622.0a2.6 2.6 0 1 0 5.2 0a2.6 2.6 0 1 0 -5.2 0M521.2 623.0a2.6 2.6 0 1 0 5.2 0a2.6 2.6 0 1 0 -5.2 0M513.0 618.9a2.6 2.6 0 1 0 5.2 0a2.6 2.6 0 1 0 -5.2 0M492.6 609.7a2.6 2.6 0 1 0 5.2 0a2.6 2.6 0 1 0 -5.2 0M500.8 610.7a2.6 2.6 0 1 0 5.2 0a2.6 2.6 0 1 0 -5.2 0M481.3 618.9a2.6 2.6 0 1 0 5.2 0a2.6 2.6 0 1 0 -5.2 0M489.5 623.0a2.6 2.6 0 1 0 5.2 0a2.6 2.6 0 1 0 -5.2 0M487.5 634.2a2.6 2.6 0 1 0 5.2 0a2.6 2.6 0 1 0 -5.2 0M500.8 633.2a2.6 2.6 0 1 0 5.2 0a2.6 2.6 0 1 0 -5.2 0M512.0 633.2a2.6 2.6 0 1 0 5.2 0a2.6 2.6 0 1 0 -5.2 0M516.1 630.1a2.6 2.6 0 1 0 5.2 0a2.6 2.6 0 1 0 -5.2 0M536.5 633.2a2.6 2.6 0 1 0 5.2 0a2.6 2.6 0 1 0 -5.2 0M518.1 642.4a2.6 2.6 0 1 0 5.2 0a2.6 2.6 0 1 0 -5.2 0M518.1 647.5a2.6 2.6 0 1 0 5.2 0a2.6 2.6 0 1 0 -5.2 0M521.2 648.5a2.6 2.6 0 1 0 5.2 0a2.6 2.6 0 1 0 -5.2 0M528.3 643.4a2.6 2.6 0 1 0 5.2 0a2.6 2.6 0 1 0 -5.2 0M533.5 642.4a2.6 2.6 0 1 0 5.2 0a2.6 2.6 0 1 0 -5.2 0M539.6 647.5a2.6 2.6 0 1 0 5.2 0a2.6 2.6 0 1 0 -5.2 0M542.7 644.4a2.6 2.6 0 1 0 5.2 0a2.6 2.6 0 1 0 -5.2 0M548.8 645.5a2.6 2.6 0 1 0 5.2 0a2.6 2.6 0 1 0 -5.2 0M544.7 652.6a2.6 2.6 0 1 0 5.2 0a2.6 2.6 0 1 0 -5.2 0M549.8 650.6a2.6 2.6 0 1 0 5.2 0a2.6 2.6 0 1 0 -5.2 0M504.8 647.5a2.6 2.6 0 1 0 5.2 0a2.6 2.6 0 1 0 -5.2 0M548.8 601.5a2.6 2.6 0 1 0 5.2 0a2.6 2.6 0 1 0 -5.2 0M547.8 607.7a2.6 2.6 0 1 0 5.2 0a2.6 2.6 0 1 0 -5.2 0M554.9 605.6a2.6 2.6 0 1 0 5.2 0a2.6 2.6 0 1 0 -5.2 0M551.8 585.2a2.6 2.6 0 1 0 5.2 0a2.6 2.6 0 1 0 -5.2 0M550.8 591.3a2.6 2.6 0 1 0 5.2 0a2.6 2.6 0 1 0 -5.2 0M561.0 580.1a2.6 2.6 0 1 0 5.2 0a2.6 2.6 0 1 0 -5.2 0M565.1 584.2a2.6 2.6 0 1 0 5.2 0a2.6 2.6 0 1 0 -5.2 0M558.0 598.5a2.6 2.6 0 1 0 5.2 0a2.6 2.6 0 1 0 -5.2 0M561.0 599.5a2.6 2.6 0 1 0 5.2 0a2.6 2.6 0 1 0 -5.2 0M564.1 604.6a2.6 2.6 0 1 0 5.2 0a2.6 2.6 0 1 0 -5.2 0M560.0 608.7a2.6 2.6 0 1 0 5.2 0a2.6 2.6 0 1 0 -5.2 0M562.1 613.8a2.6 2.6 0 1 0 5.2 0a2.6 2.6 0 1 0 -5.2 0M559.0 615.8a2.6 2.6 0 1 0 5.2 0a2.6 2.6 0 1 0 -5.2 0M566.2 617.9a2.6 2.6 0 1 0 5.2 0a2.6 2.6 0 1 0 -5.2 0M570.2 622.0a2.6 2.6 0 1 0 5.2 0a2.6 2.6 0 1 0 -5.2 0M555.9 622.0a2.6 2.6 0 1 0 5.2 0a2.6 2.6 0 1 0 -5.2 0M554.9 627.1a2.6 2.6 0 1 0 5.2 0a2.6 2.6 0 1 0 -5.2 0M576.4 629.1a2.6 2.6 0 1 0 5.2 0a2.6 2.6 0 1 0 -5.2 0M576.4 605.6a2.6 2.6 0 1 0 5.2 0a2.6 2.6 0 1 0 -5.2 0M543.7 609.7a2.6 2.6 0 1 0 5.2 0a2.6 2.6 0 1 0 -5.2 0M540.6 592.3a2.6 2.6 0 1 0 5.2 0a2.6 2.6 0 1 0 -5.2 0M562.2 579.8a2.6 2.6 0 1 0 5.2 0a2.6 2.6 0 1 0 -5.2 0M567.2 583.8a2.6 2.6 0 1 0 5.2 0a2.6 2.6 0 1 0 -5.2 0M552.3 585.4a2.6 2.6 0 1 0 5.2 0a2.6 2.6 0 1 0 -5.2 0M551.3 591.3a2.6 2.6 0 1 0 5.2 0a2.6 2.6 0 1 0 -5.2 0M562.2 590.7a2.6 2.6 0 1 0 5.2 0a2.6 2.6 0 1 0 -5.2 0M540.4 592.7a2.6 2.6 0 1 0 5.2 0a2.6 2.6 0 1 0 -5.2 0M538.4 595.7a2.6 2.6 0 1 0 5.2 0a2.6 2.6 0 1 0 -5.2 0M558.2 598.7a2.6 2.6 0 1 0 5.2 0a2.6 2.6 0 1 0 -5.2 0M562.2 599.3a2.6 2.6 0 1 0 5.2 0a2.6 2.6 0 1 0 -5.2 0M548.3 601.7a2.6 2.6 0 1 0 5.2 0a2.6 2.6 0 1 0 -5.2 0M549.3 603.6a2.6 2.6 0 1 0 5.2 0a2.6 2.6 0 1 0 -5.2 0M555.3 605.6a2.6 2.6 0 1 0 5.2 0a2.6 2.6 0 1 0 -5.2 0M565.2 604.6a2.6 2.6 0 1 0 5.2 0a2.6 2.6 0 1 0 -5.2 0M576.1 605.2a2.6 2.6 0 1 0 5.2 0a2.6 2.6 0 1 0 -5.2 0M539.4 606.6a2.6 2.6 0 1 0 5.2 0a2.6 2.6 0 1 0 -5.2 0M545.3 608.6a2.6 2.6 0 1 0 5.2 0a2.6 2.6 0 1 0 -5.2 0M563.2 608.6a2.6 2.6 0 1 0 5.2 0a2.6 2.6 0 1 0 -5.2 0M561.2 611.6a2.6 2.6 0 1 0 5.2 0a2.6 2.6 0 1 0 -5.2 0M541.4 610.6a2.6 2.6 0 1 0 5.2 0a2.6 2.6 0 1 0 -5.2 0M537.4 613.6a2.6 2.6 0 1 0 5.2 0a2.6 2.6 0 1 0 -5.2 0M559.2 615.5a2.6 2.6 0 1 0 5.2 0a2.6 2.6 0 1 0 -5.2 0M563.2 616.5a2.6 2.6 0 1 0 5.2 0a2.6 2.6 0 1 0 -5.2 0M567.2 619.5a2.6 2.6 0 1 0 5.2 0a2.6 2.6 0 1 0 -5.2 0M571.1 622.5a2.6 2.6 0 1 0 5.2 0a2.6 2.6 0 1 0 -5.2 0M556.2 622.5a2.6 2.6 0 1 0 5.2 0a2.6 2.6 0 1 0 -5.2 0M555.3 627.4a2.6 2.6 0 1 0 5.2 0a2.6 2.6 0 1 0 -5.2 0M577.1 629.4a2.6 2.6 0 1 0 5.2 0a2.6 2.6 0 1 0 -5.2 0M537.4 633.4a2.6 2.6 0 1 0 5.2 0a2.6 2.6 0 1 0 -5.2 0M583.0 646.3a2.6 2.6 0 1 0 5.2 0a2.6 2.6 0 1 0 -5.2 0M542.4 644.9a2.6 2.6 0 1 0 5.2 0a2.6 2.6 0 1 0 -5.2 0M549.3 645.3a2.6 2.6 0 1 0 5.2 0a2.6 2.6 0 1 0 -5.2 0M539.4 648.3a2.6 2.6 0 1 0 5.2 0a2.6 2.6 0 1 0 -5.2 0M545.3 652.8a2.6 2.6 0 1 0 5.2 0a2.6 2.6 0 1 0 -5.2 0M550.3 650.9a2.6 2.6 0 1 0 5.2 0a2.6 2.6 0 1 0 -5.2 0M588.6 668.5a2.6 2.6 0 1 0 5.2 0a2.6 2.6 0 1 0 -5.2 0M598.9 683.4a2.6 2.6 0 1 0 5.2 0a2.6 2.6 0 1 0 -5.2 0M600.5 690.9a2.6 2.6 0 1 0 5.2 0a2.6 2.6 0 1 0 -5.2 0M562.2 690.5a2.6 2.6 0 1 0 5.2 0a2.6 2.6 0 1 0 -5.2 0M579.7 694.3a2.6 2.6 0 1 0 5.2 0a2.6 2.6 0 1 0 -5.2 0M589.4 694.3a2.6 2.6 0 1 0 5.2 0a2.6 2.6 0 1 0 -5.2 0M493.0 688.5a2.6 2.6 0 1 0 5.2 0a2.6 2.6 0 1 0 -5.2 0M512.6 693.6a2.6 2.6 0 1 0 5.2 0a2.6 2.6 0 1 0 -5.2 0M523.8 694.3a2.6 2.6 0 1 0 5.2 0a2.6 2.6 0 1 0 -5.2 0M521.5 700.9a2.6 2.6 0 1 0 5.2 0a2.6 2.6 0 1 0 -5.2 0M502.8 699.0a2.6 2.6 0 1 0 5.2 0a2.6 2.6 0 1 0 -5.2 0M562.4 690.3a2.6 2.6 0 1 0 5.2 0a2.6 2.6 0 1 0 -5.2 0M579.9 693.6a2.6 2.6 0 1 0 5.2 0a2.6 2.6 0 1 0 -5.2 0M589.2 693.6a2.6 2.6 0 1 0 5.2 0a2.6 2.6 0 1 0 -5.2 0M527.3 671.0a2.6 2.6 0 1 0 5.2 0a2.6 2.6 0 1 0 -5.2 0M528.5 681.5a2.6 2.6 0 1 0 5.2 0a2.6 2.6 0 1 0 -5.2 0M514.0 686.8a2.6 2.6 0 1 0 5.2 0a2.6 2.6 0 1 0 -5.2 0M458.5 544.8a2.6 2.6 0 1 0 5.2 0a2.6 2.6 0 1 0 -5.2 0M464.0 544.5a2.6 2.6 0 1 0 5.2 0a2.6 2.6 0 1 0 -5.2 0M454.5 546.9a2.6 2.6 0 1 0 5.2 0a2.6 2.6 0 1 0 -5.2 0M456.6 547.3a2.6 2.6 0 1 0 5.2 0a2.6 2.6 0 1 0 -5.2 0M461.2 547.6a2.6 2.6 0 1 0 5.2 0a2.6 2.6 0 1 0 -5.2 0M466.2 548.0a2.6 2.6 0 1 0 5.2 0a2.6 2.6 0 1 0 -5.2 0M468.7 547.8a2.6 2.6 0 1 0 5.2 0a2.6 2.6 0 1 0 -5.2 0M456.2 549.4a2.6 2.6 0 1 0 5.2 0a2.6 2.6 0 1 0 -5.2 0M459.8 551.8a2.6 2.6 0 1 0 5.2 0a2.6 2.6 0 1 0 -5.2 0M464.2 551.1a2.6 2.6 0 1 0 5.2 0a2.6 2.6 0 1 0 -5.2 0M466.3 550.3a2.6 2.6 0 1 0 5.2 0a2.6 2.6 0 1 0 -5.2 0M469.6 551.3a2.6 2.6 0 1 0 5.2 0a2.6 2.6 0 1 0 -5.2 0M474.2 551.3a2.6 2.6 0 1 0 5.2 0a2.6 2.6 0 1 0 -5.2 0M477.3 549.9a2.6 2.6 0 1 0 5.2 0a2.6 2.6 0 1 0 -5.2 0M482.1 551.8a2.6 2.6 0 1 0 5.2 0a2.6 2.6 0 1 0 -5.2 0M462.7 553.4a2.6 2.6 0 1 0 5.2 0a2.6 2.6 0 1 0 -5.2 0M464.8 554.8a2.6 2.6 0 1 0 5.2 0a2.6 2.6 0 1 0 -5.2 0M469.3 552.9a2.6 2.6 0 1 0 5.2 0a2.6 2.6 0 1 0 -5.2 0M471.3 552.8a2.6 2.6 0 1 0 5.2 0a2.6 2.6 0 1 0 -5.2 0M476.9 554.5a2.6 2.6 0 1 0 5.2 0a2.6 2.6 0 1 0 -5.2 0M478.6 554.5a2.6 2.6 0 1 0 5.2 0a2.6 2.6 0 1 0 -5.2 0M484.3 554.1a2.6 2.6 0 1 0 5.2 0a2.6 2.6 0 1 0 -5.2 0M486.3 553.8a2.6 2.6 0 1 0 5.2 0a2.6 2.6 0 1 0 -5.2 0M462.8 556.9a2.6 2.6 0 1 0 5.2 0a2.6 2.6 0 1 0 -5.2 0M467.0 557.5a2.6 2.6 0 1 0 5.2 0a2.6 2.6 0 1 0 -5.2 0M469.5 557.0a2.6 2.6 0 1 0 5.2 0a2.6 2.6 0 1 0 -5.2 0M473.5 556.3a2.6 2.6 0 1 0 5.2 0a2.6 2.6 0 1 0 -5.2 0M478.4 556.8a2.6 2.6 0 1 0 5.2 0a2.6 2.6 0 1 0 -5.2 0M481.4 557.5a2.6 2.6 0 1 0 5.2 0a2.6 2.6 0 1 0 -5.2 0M485.9 556.7a2.6 2.6 0 1 0 5.2 0a2.6 2.6 0 1 0 -5.2 0M488.8 556.8a2.6 2.6 0 1 0 5.2 0a2.6 2.6 0 1 0 -5.2 0M492.1 557.3a2.6 2.6 0 1 0 5.2 0a2.6 2.6 0 1 0 -5.2 0M465.1 559.5a2.6 2.6 0 1 0 5.2 0a2.6 2.6 0 1 0 -5.2 0M467.9 559.5a2.6 2.6 0 1 0 5.2 0a2.6 2.6 0 1 0 -5.2 0M472.8 558.7a2.6 2.6 0 1 0 5.2 0a2.6 2.6 0 1 0 -5.2 0M476.0 559.8a2.6 2.6 0 1 0 5.2 0a2.6 2.6 0 1 0 -5.2 0M478.3 559.5a2.6 2.6 0 1 0 5.2 0a2.6 2.6 0 1 0 -5.2 0M483.4 560.0a2.6 2.6 0 1 0 5.2 0a2.6 2.6 0 1 0 -5.2 0M485.6 561.2a2.6 2.6 0 1 0 5.2 0a2.6 2.6 0 1 0 -5.2 0M491.0 561.1a2.6 2.6 0 1 0 5.2 0a2.6 2.6 0 1 0 -5.2 0M492.9 559.4a2.6 2.6 0 1 0 5.2 0a2.6 2.6 0 1 0 -5.2 0M496.3 560.6a2.6 2.6 0 1 0 5.2 0a2.6 2.6 0 1 0 -5.2 0M462.3 562.2a2.6 2.6 0 1 0 5.2 0a2.6 2.6 0 1 0 -5.2 0M465.8 562.3a2.6 2.6 0 1 0 5.2 0a2.6 2.6 0 1 0 -5.2 0M470.0 562.6a2.6 2.6 0 1 0 5.2 0a2.6 2.6 0 1 0 -5.2 0M474.7 562.5a2.6 2.6 0 1 0 5.2 0a2.6 2.6 0 1 0 -5.2 0M477.7 562.3a2.6 2.6 0 1 0 5.2 0a2.6 2.6 0 1 0 -5.2 0M480.9 561.8a2.6 2.6 0 1 0 5.2 0a2.6 2.6 0 1 0 -5.2 0M484.3 561.8a2.6 2.6 0 1 0 5.2 0a2.6 2.6 0 1 0 -5.2 0M489.1 563.2a2.6 2.6 0 1 0 5.2 0a2.6 2.6 0 1 0 -5.2 0M491.3 563.0a2.6 2.6 0 1 0 5.2 0a2.6 2.6 0 1 0 -5.2 0M496.8 562.1a2.6 2.6 0 1 0 5.2 0a2.6 2.6 0 1 0 -5.2 0M500.1 562.9a2.6 2.6 0 1 0 5.2 0a2.6 2.6 0 1 0 -5.2 0M502.9 563.9a2.6 2.6 0 1 0 5.2 0a2.6 2.6 0 1 0 -5.2 0M466.3 566.3a2.6 2.6 0 1 0 5.2 0a2.6 2.6 0 1 0 -5.2 0M468.0 567.4a2.6 2.6 0 1 0 5.2 0a2.6 2.6 0 1 0 -5.2 0M471.8 565.8a2.6 2.6 0 1 0 5.2 0a2.6 2.6 0 1 0 -5.2 0M474.6 565.9a2.6 2.6 0 1 0 5.2 0a2.6 2.6 0 1 0 -5.2 0M479.4 566.2a2.6 2.6 0 1 0 5.2 0a2.6 2.6 0 1 0 -5.2 0M482.3 566.2a2.6 2.6 0 1 0 5.2 0a2.6 2.6 0 1 0 -5.2 0M485.4 565.6a2.6 2.6 0 1 0 5.2 0a2.6 2.6 0 1 0 -5.2 0M489.3 565.9a2.6 2.6 0 1 0 5.2 0a2.6 2.6 0 1 0 -5.2 0M492.7 565.0a2.6 2.6 0 1 0 5.2 0a2.6 2.6 0 1 0 -5.2 0M497.0 565.5a2.6 2.6 0 1 0 5.2 0a2.6 2.6 0 1 0 -5.2 0M501.3 566.3a2.6 2.6 0 1 0 5.2 0a2.6 2.6 0 1 0 -5.2 0M505.3 566.6a2.6 2.6 0 1 0 5.2 0a2.6 2.6 0 1 0 -5.2 0M508.8 567.1a2.6 2.6 0 1 0 5.2 0a2.6 2.6 0 1 0 -5.2 0M470.6 569.6a2.6 2.6 0 1 0 5.2 0a2.6 2.6 0 1 0 -5.2 0M474.4 569.8a2.6 2.6 0 1 0 5.2 0a2.6 2.6 0 1 0 -5.2 0M477.7 568.0a2.6 2.6 0 1 0 5.2 0a2.6 2.6 0 1 0 -5.2 0M482.0 569.9a2.6 2.6 0 1 0 5.2 0a2.6 2.6 0 1 0 -5.2 0M484.9 569.4a2.6 2.6 0 1 0 5.2 0a2.6 2.6 0 1 0 -5.2 0M488.9 568.2a2.6 2.6 0 1 0 5.2 0a2.6 2.6 0 1 0 -5.2 0M492.7 568.7a2.6 2.6 0 1 0 5.2 0a2.6 2.6 0 1 0 -5.2 0M494.6 568.7a2.6 2.6 0 1 0 5.2 0a2.6 2.6 0 1 0 -5.2 0M499.9 568.6a2.6 2.6 0 1 0 5.2 0a2.6 2.6 0 1 0 -5.2 0M503.5 570.5a2.6 2.6 0 1 0 5.2 0a2.6 2.6 0 1 0 -5.2 0M506.5 569.0a2.6 2.6 0 1 0 5.2 0a2.6 2.6 0 1 0 -5.2 0M510.0 569.8a2.6 2.6 0 1 0 5.2 0a2.6 2.6 0 1 0 -5.2 0M472.2 571.8a2.6 2.6 0 1 0 5.2 0a2.6 2.6 0 1 0 -5.2 0M475.2 573.5a2.6 2.6 0 1 0 5.2 0a2.6 2.6 0 1 0 -5.2 0M478.8 572.6a2.6 2.6 0 1 0 5.2 0a2.6 2.6 0 1 0 -5.2 0M482.2 572.5a2.6 2.6 0 1 0 5.2 0a2.6 2.6 0 1 0 -5.2 0M487.8 571.5a2.6 2.6 0 1 0 5.2 0a2.6 2.6 0 1 0 -5.2 0M491.1 572.4a2.6 2.6 0 1 0 5.2 0a2.6 2.6 0 1 0 -5.2 0M494.9 572.9a2.6 2.6 0 1 0 5.2 0a2.6 2.6 0 1 0 -5.2 0M496.8 573.4a2.6 2.6 0 1 0 5.2 0a2.6 2.6 0 1 0 -5.2 0M501.0 571.2a2.6 2.6 0 1 0 5.2 0a2.6 2.6 0 1 0 -5.2 0M503.4 572.4a2.6 2.6 0 1 0 5.2 0a2.6 2.6 0 1 0 -5.2 0M508.2 571.9a2.6 2.6 0 1 0 5.2 0a2.6 2.6 0 1 0 -5.2 0M511.0 572.0a2.6 2.6 0 1 0 5.2 0a2.6 2.6 0 1 0 -5.2 0M515.0 573.3a2.6 2.6 0 1 0 5.2 0a2.6 2.6 0 1 0 -5.2 0M517.8 573.0a2.6 2.6 0 1 0 5.2 0a2.6 2.6 0 1 0 -5.2 0M482.4 575.7a2.6 2.6 0 1 0 5.2 0a2.6 2.6 0 1 0 -5.2 0M485.4 574.4a2.6 2.6 0 1 0 5.2 0a2.6 2.6 0 1 0 -5.2 0M489.1 575.4a2.6 2.6 0 1 0 5.2 0a2.6 2.6 0 1 0 -5.2 0M492.7 575.9a2.6 2.6 0 1 0 5.2 0a2.6 2.6 0 1 0 -5.2 0M495.1 574.4a2.6 2.6 0 1 0 5.2 0a2.6 2.6 0 1 0 -5.2 0M500.4 574.6a2.6 2.6 0 1 0 5.2 0a2.6 2.6 0 1 0 -5.2 0M502.8 575.1a2.6 2.6 0 1 0 5.2 0a2.6 2.6 0 1 0 -5.2 0M506.0 576.1a2.6 2.6 0 1 0 5.2 0a2.6 2.6 0 1 0 -5.2 0M511.3 574.9a2.6 2.6 0 1 0 5.2 0a2.6 2.6 0 1 0 -5.2 0M514.1 575.0a2.6 2.6 0 1 0 5.2 0a2.6 2.6 0 1 0 -5.2 0M517.4 575.3a2.6 2.6 0 1 0 5.2 0a2.6 2.6 0 1 0 -5.2 0M520.0 574.7a2.6 2.6 0 1 0 5.2 0a2.6 2.6 0 1 0 -5.2 0M523.7 576.6a2.6 2.6 0 1 0 5.2 0a2.6 2.6 0 1 0 -5.2 0M484.0 577.9a2.6 2.6 0 1 0 5.2 0a2.6 2.6 0 1 0 -5.2 0M486.1 578.0a2.6 2.6 0 1 0 5.2 0a2.6 2.6 0 1 0 -5.2 0M490.0 578.5a2.6 2.6 0 1 0 5.2 0a2.6 2.6 0 1 0 -5.2 0M495.0 579.5a2.6 2.6 0 1 0 5.2 0a2.6 2.6 0 1 0 -5.2 0M498.4 577.4a2.6 2.6 0 1 0 5.2 0a2.6 2.6 0 1 0 -5.2 0M499.9 579.2a2.6 2.6 0 1 0 5.2 0a2.6 2.6 0 1 0 -5.2 0M505.7 578.6a2.6 2.6 0 1 0 5.2 0a2.6 2.6 0 1 0 -5.2 0M508.5 577.4a2.6 2.6 0 1 0 5.2 0a2.6 2.6 0 1 0 -5.2 0M511.6 579.7a2.6 2.6 0 1 0 5.2 0a2.6 2.6 0 1 0 -5.2 0M516.3 579.5a2.6 2.6 0 1 0 5.2 0a2.6 2.6 0 1 0 -5.2 0M520.3 578.0a2.6 2.6 0 1 0 5.2 0a2.6 2.6 0 1 0 -5.2 0M521.7 577.8a2.6 2.6 0 1 0 5.2 0a2.6 2.6 0 1 0 -5.2 0M526.3 579.1a2.6 2.6 0 1 0 5.2 0a2.6 2.6 0 1 0 -5.2 0M531.0 579.2a2.6 2.6 0 1 0 5.2 0a2.6 2.6 0 1 0 -5.2 0M486.0 582.1a2.6 2.6 0 1 0 5.2 0a2.6 2.6 0 1 0 -5.2 0M489.5 581.7a2.6 2.6 0 1 0 5.2 0a2.6 2.6 0 1 0 -5.2 0M491.4 581.1a2.6 2.6 0 1 0 5.2 0a2.6 2.6 0 1 0 -5.2 0M496.8 582.3a2.6 2.6 0 1 0 5.2 0a2.6 2.6 0 1 0 -5.2 0M498.8 580.6a2.6 2.6 0 1 0 5.2 0a2.6 2.6 0 1 0 -5.2 0M502.9 582.2a2.6 2.6 0 1 0 5.2 0a2.6 2.6 0 1 0 -5.2 0M506.3 581.2a2.6 2.6 0 1 0 5.2 0a2.6 2.6 0 1 0 -5.2 0M510.5 582.8a2.6 2.6 0 1 0 5.2 0a2.6 2.6 0 1 0 -5.2 0M513.0 580.6a2.6 2.6 0 1 0 5.2 0a2.6 2.6 0 1 0 -5.2 0M516.9 581.6a2.6 2.6 0 1 0 5.2 0a2.6 2.6 0 1 0 -5.2 0M521.3 581.0a2.6 2.6 0 1 0 5.2 0a2.6 2.6 0 1 0 -5.2 0M525.2 582.4a2.6 2.6 0 1 0 5.2 0a2.6 2.6 0 1 0 -5.2 0M528.1 581.0a2.6 2.6 0 1 0 5.2 0a2.6 2.6 0 1 0 -5.2 0M532.9 581.3a2.6 2.6 0 1 0 5.2 0a2.6 2.6 0 1 0 -5.2 0M494.5 583.7a2.6 2.6 0 1 0 5.2 0a2.6 2.6 0 1 0 -5.2 0M497.9 584.6a2.6 2.6 0 1 0 5.2 0a2.6 2.6 0 1 0 -5.2 0M500.8 584.5a2.6 2.6 0 1 0 5.2 0a2.6 2.6 0 1 0 -5.2 0M503.9 583.6a2.6 2.6 0 1 0 5.2 0a2.6 2.6 0 1 0 -5.2 0M507.7 584.5a2.6 2.6 0 1 0 5.2 0a2.6 2.6 0 1 0 -5.2 0M513.0 583.9a2.6 2.6 0 1 0 5.2 0a2.6 2.6 0 1 0 -5.2 0M516.7 584.1a2.6 2.6 0 1 0 5.2 0a2.6 2.6 0 1 0 -5.2 0M518.7 585.7a2.6 2.6 0 1 0 5.2 0a2.6 2.6 0 1 0 -5.2 0M523.5 584.7a2.6 2.6 0 1 0 5.2 0a2.6 2.6 0 1 0 -5.2 0M525.1 584.8a2.6 2.6 0 1 0 5.2 0a2.6 2.6 0 1 0 -5.2 0M499.0 587.4a2.6 2.6 0 1 0 5.2 0a2.6 2.6 0 1 0 -5.2 0M502.7 588.0a2.6 2.6 0 1 0 5.2 0a2.6 2.6 0 1 0 -5.2 0M507.6 587.2a2.6 2.6 0 1 0 5.2 0a2.6 2.6 0 1 0 -5.2 0M510.8 588.6a2.6 2.6 0 1 0 5.2 0a2.6 2.6 0 1 0 -5.2 0M514.5 588.7a2.6 2.6 0 1 0 5.2 0a2.6 2.6 0 1 0 -5.2 0M517.6 587.6a2.6 2.6 0 1 0 5.2 0a2.6 2.6 0 1 0 -5.2 0M520.4 587.7a2.6 2.6 0 1 0 5.2 0a2.6 2.6 0 1 0 -5.2 0M525.2 586.9a2.6 2.6 0 1 0 5.2 0a2.6 2.6 0 1 0 -5.2 0M504.7 590.4a2.6 2.6 0 1 0 5.2 0a2.6 2.6 0 1 0 -5.2 0M509.1 591.5a2.6 2.6 0 1 0 5.2 0a2.6 2.6 0 1 0 -5.2 0M513.1 590.1a2.6 2.6 0 1 0 5.2 0a2.6 2.6 0 1 0 -5.2 0M515.4 591.9a2.6 2.6 0 1 0 5.2 0a2.6 2.6 0 1 0 -5.2 0M519.9 592.2a2.6 2.6 0 1 0 5.2 0a2.6 2.6 0 1 0 -5.2 0M521.5 590.6a2.6 2.6 0 1 0 5.2 0a2.6 2.6 0 1 0 -5.2 0M525.3 590.3a2.6 2.6 0 1 0 5.2 0a2.6 2.6 0 1 0 -5.2 0M520.5 593.5a2.6 2.6 0 1 0 5.2 0a2.6 2.6 0 1 0 -5.2 0M525.1 593.5a2.6 2.6 0 1 0 5.2 0a2.6 2.6 0 1 0 -5.2 0M526.8 595.3a2.6 2.6 0 1 0 5.2 0a2.6 2.6 0 1 0 -5.2 0M530.5 596.2a2.6 2.6 0 1 0 5.2 0a2.6 2.6 0 1 0 -5.2 0M537.3 597.5a2.6 2.6 0 1 0 5.2 0a2.6 2.6 0 1 0 -5.2 0M530.6 600.1a2.6 2.6 0 1 0 5.2 0a2.6 2.6 0 1 0 -5.2 0M535.9 599.6a2.6 2.6 0 1 0 5.2 0a2.6 2.6 0 1 0 -5.2 0" fill="#008000"/>
<path d="M384.60,451.07 L385.40,452.89 L386.19,454.71 L386.99,456.52 L387.79,458.33 L388.58,460.14 L389.38,461.94 L390.18,463.74 L390.97,465.54 L391.77,467.34 L392.57,469.13 L393.36,470.92 L394.16,472.71 L394.96,474.49 L395.75,476.27 L396.55,478.05 L397.35,479.82 L398.14,481.59 L398.94,483.36 L399.73,485.12 L400.53,486.88 L404.51,495.64 L408.50,504.32 L412.48,512.92 L416.46,521.44 L420.45,529.88 L424.43,538.25 L428.41,546.54 L432.39,554.77 L436.38,562.92 L440.36,571.00 L444.34,579.01 L448.33,586.96 L452.31,594.84 L456.29,602.66 L460.27,610.42 L464.26,618.13 L468.24,625.77 L472.22,633.37 L476.21,640.91 L480.19,648.40 L484.17,655.83 L488.15,663.22 L492.14,670.57 L496.12,677.87 L500.10,685.12 L504.09,692.33 L508.07,699.51 L512.05,706.64 L516.03,713.73 L520.02,720.78 L524.00,727.79 L527.98,734.77 L531.97,741.71 L535.95,748.61 L539.93,755.48 L543.91,762.32 L547.90,769.12 L551.88,775.89 L555.86,782.62 L559.85,789.32 L563.83,795.98 L567.81,802.62 L571.79,809.22 L575.78,815.79 L579.76,822.33 L583.74,828.84 L587.73,835.32 L591.71,841.77 L595.69,848.20 L599.67,854.61 L603.66,860.99 L607.64,867.36 L611.62,873.72 L615.61,880.08 L619.59,886.45 L623.57,892.83 L627.55,899.24 L631.54,905.70 L635.52,912.23 L639.50,918.86 L643.49,925.62 L647.47,932.58 L651.45,939.81 L655.43,947.43 L659.42,955.64 L663.40,964.78 L667.38,975.71 L671.37,991.70 L675.35,1007.78 L679.33,1007.88 L683.31,1007.92 L687.30,1007.94 L691.28,1007.95 L695.26,1007.95 L699.25,1007.95 L703.23,1007.95 L707.21,1007.95 L711.19,1007.95 L715.18,1007.95 L719.16,1007.95 L723.14,1007.96 L727.13,1007.96 L731.11,1007.96 L735.09,1007.96 L739.07,1007.96 L743.06,1007.96 L747.04,1007.96 L751.02,1007.96 L755.01,1007.96 L758.99,1007.96 L762.97,1007.96 L766.95,1007.96 L770.94,1007.96 L774.92,1007.96 L778.90,1007.96 L782.89,1007.96 L786.87,1007.96 L790.85,1007.96 L794.83,1007.96 L798.82,1007.96 L802.80,1007.96 L806.78,1007.96 L810.77,1007.96 L814.75,1007.96 L818.73,1007.96 L822.71,1007.96 L826.70,1007.96 L830.68,1007.96 L834.66,1007.96 L838.65,1007.96 L842.63,1007.96 L846.61,1007.96 L850.59,1007.96 L854.58,1007.96 L858.56,1007.96 L862.54,1007.96" stroke="#348ABD" stroke-width="1.6" fill="none" stroke-linejoin="round" stroke-linecap="butt"/>
<path d="M384.60,451.07 L385.40,452.12 L386.19,453.17 L386.99,454.22 L387.79,455.27 L388.58,456.32 L389.38,457.37 L390.18,458.42 L390.97,459.47 L391.77,460.52 L392.57,461.57 L393.36,462.62 L394.16,463.68 L394.96,464.73 L395.75,465.78 L396.55,466.84 L397.35,467.89 L398.14,468.95 L398.94,470.00 L399.73,471.06 L400.53,472.12 L404.51,477.40 L408.50,482.70 L412.48,488.01 L416.46,493.32 L420.45,498.64 L424.43,503.98 L428.41,509.32 L432.39,514.67 L436.38,520.03 L440.36,525.40 L444.34,530.77 L448.33,536.16 L452.31,541.55 L456.29,546.96 L460.27,552.37 L464.26,557.79 L468.24,563.22 L472.22,568.66 L476.21,574.11 L480.19,579.57 L484.17,585.04 L488.15,590.52 L492.14,596.00 L496.12,601.50 L500.10,607.01 L504.09,612.53 L508.07,618.06 L512.05,623.60 L516.03,629.14 L520.02,634.70 L524.00,640.27 L527.98,645.85 L531.97,651.44 L535.95,657.03 L539.93,662.64 L543.91,668.25 L547.90,673.87 L551.88,679.50 L555.86,685.14 L559.85,690.79 L563.83,696.44 L567.81,702.09 L571.79,707.75 L575.78,713.42 L579.76,719.09 L583.74,724.76 L587.73,730.43 L591.71,736.11 L595.69,741.78 L599.67,747.45 L603.66,753.12 L607.64,758.78 L611.62,764.44 L615.61,770.10 L619.59,775.74 L623.57,781.38 L627.55,787.01 L631.54,792.63 L635.52,798.23 L639.50,803.82 L643.49,809.40 L647.47,814.96 L651.45,820.51 L655.43,826.04 L659.42,831.55 L663.40,837.04 L667.38,842.52 L671.37,847.98 L675.35,853.42 L679.33,858.85 L683.31,864.27 L687.30,869.67 L691.28,875.07 L695.26,880.46 L699.25,885.85 L703.23,891.25 L707.21,896.66 L711.19,902.10 L715.18,907.57 L719.16,913.09 L723.14,918.68 L727.13,924.36 L731.11,930.17 L735.09,936.14 L739.07,942.33 L743.06,948.84 L747.04,955.79 L751.02,963.40 L755.01,972.12 L758.99,983.11 L762.97,1003.15 L766.95,1007.82 L770.94,1007.88 L774.92,1007.91 L778.90,1007.93 L782.89,1007.95 L786.87,1007.95 L790.85,1007.95 L794.83,1007.95 L798.82,1007.95 L802.80,1007.95 L806.78,1007.95 L810.77,1007.95 L814.75,1007.95 L818.73,1007.95 L822.71,1007.95 L826.70,1007.95 L830.68,1007.95 L834.66,1007.95 L838.65,1007.95 L842.63,1007.95 L846.61,1007.95 L850.59,1007.95 L854.58,1007.95 L858.56,1007.95 L862.54,1007.95" stroke="#A60628" stroke-width="1.6" fill="none" stroke-linejoin="round" stroke-linecap="butt"/>
<path d="M384.60,451.07 L385.40,451.85 L386.19,452.63 L386.99,453.41 L387.79,454.19 L388.58,454.97 L389.38,455.75 L390.18,456.53 L390.97,457.31 L391.77,458.10 L392.57,458.88 L393.36,459.67 L394.16,460.45 L394.96,461.24 L395.75,462.03 L396.55,462.82 L397.35,463.61 L398.14,464.40 L398.94,465.19 L399.73,465.98 L400.53,466.78 L404.51,470.75 L408.50,474.75 L412.48,478.77 L416.46,482.81 L420.45,486.87 L424.43,490.96 L428.41,495.06 L432.39,499.19 L436.38,503.34 L440.36,507.51 L444.34,511.71 L448.33,515.93 L452.31,520.17 L456.29,524.43 L460.27,528.72 L464.26,533.03 L468.24,537.37 L472.22,541.73 L476.21,546.12 L480.19,550.54 L484.17,554.97 L488.15,559.44 L492.14,563.93 L496.12,568.45 L500.10,573.00 L504.09,577.57 L508.07,582.17 L512.05,586.80 L516.03,591.46 L520.02,596.15 L524.00,600.87 L527.98,605.61 L531.97,610.39 L535.95,615.20 L539.93,620.03 L543.91,624.90 L547.90,629.79 L551.88,634.72 L555.86,639.68 L559.85,644.66 L563.83,649.68 L567.81,654.73 L571.79,659.81 L575.78,664.91 L579.76,670.05 L583.74,675.22 L587.73,680.41 L591.71,685.64 L595.69,690.89 L599.67,696.17 L603.66,701.47 L607.64,706.80 L611.62,712.15 L615.61,717.53 L619.59,722.93 L623.57,728.34 L627.55,733.78 L631.54,739.24 L635.52,744.70 L639.50,750.19 L643.49,755.68 L647.47,761.18 L651.45,766.70 L655.43,772.21 L659.42,777.73 L663.40,783.25 L667.38,788.77 L671.37,794.29 L675.35,799.80 L679.33,805.30 L683.31,810.79 L687.30,816.27 L691.28,821.74 L695.26,827.19 L699.25,832.62 L703.23,838.04 L707.21,843.44 L711.19,848.82 L715.18,854.18 L719.16,859.52 L723.14,864.85 L727.13,870.16 L731.11,875.46 L735.09,880.75 L739.07,886.04 L743.06,891.33 L747.04,896.63 L751.02,901.95 L755.01,907.29 L758.99,912.68 L762.97,918.13 L766.95,923.67 L770.94,929.31 L774.92,935.11 L778.90,941.11 L782.89,947.38 L786.87,954.04 L790.85,961.28 L794.83,969.42 L798.82,979.28 L802.80,994.12 L806.78,1007.76 L810.77,1007.87 L814.75,1007.90 L818.73,1007.92 L822.71,1007.94 L826.70,1007.95 L830.68,1007.95 L834.66,1007.95 L838.65,1007.95 L842.63,1007.95 L846.61,1007.95 L850.59,1007.95 L854.58,1007.95 L858.56,1007.95 L862.54,1007.95" stroke="#7A68A6" stroke-width="1.6" fill="none" stroke-linejoin="round" stroke-linecap="butt"/>
<path d="M384.60,451.07 L385.40,451.71 L386.19,452.36 L386.99,453.00 L387.79,453.64 L388.58,454.29 L389.38,454.93 L390.18,455.58 L390.97,456.23 L391.77,456.88 L392.57,457.52 L393.36,458.18 L394.16,458.83 L394.96,459.48 L395.75,460.13 L396.55,460.78 L397.35,461.44 L398.14,462.09 L398.94,462.75 L399.73,463.41 L400.53,464.06 L404.51,467.37 L408.50,470.69 L412.48,474.04 L416.46,477.41 L420.45,480.81 L424.43,484.23 L428.41,487.67 L432.39,491.14 L436.38,494.63 L440.36,498.15 L444.34,501.69 L448.33,505.26 L452.31,508.85 L456.29,512.47 L460.27,516.12 L464.26,519.80 L468.24,523.50 L472.22,527.24 L476.21,531.00 L480.19,534.79 L484.17,538.61 L488.15,542.46 L492.14,546.34 L496.12,550.26 L500.10,554.20 L504.09,558.18 L508.07,562.19 L512.05,566.23 L516.03,570.31 L520.02,574.43 L524.00,578.57 L527.98,582.76 L531.97,586.98 L535.95,591.23 L539.93,595.53 L543.91,599.86 L547.90,604.23 L551.88,608.64 L555.86,613.09 L559.85,617.58 L563.83,622.11 L567.81,626.68 L571.79,631.29 L575.78,635.94 L579.76,640.64 L583.74,645.37 L587.73,650.15 L591.71,654.98 L595.69,659.84 L599.67,664.75 L603.66,669.70 L607.64,674.70 L611.62,679.74 L615.61,684.82 L619.59,689.94 L623.57,695.10 L627.55,700.31 L631.54,705.56 L635.52,710.84 L639.50,716.16 L643.49,721.52 L647.47,726.92 L651.45,732.35 L655.43,737.81 L659.42,743.30 L663.40,748.82 L667.38,754.36 L671.37,759.93 L675.35,765.52 L679.33,771.12 L683.31,776.73 L687.30,782.36 L691.28,788.00 L695.26,793.63 L699.25,799.27 L703.23,804.91 L707.21,810.53 L711.19,816.15 L715.18,821.76 L719.16,827.35 L723.14,832.92 L727.13,838.48 L731.11,844.01 L735.09,849.52 L739.07,855.01 L743.06,860.48 L747.04,865.92 L751.02,871.34 L755.01,876.75 L758.99,882.14 L762.97,887.53 L766.95,892.91 L770.94,898.30 L774.92,903.70 L778.90,909.14 L782.89,914.62 L786.87,920.16 L790.85,925.79 L794.83,931.55 L798.82,937.47 L802.80,943.62 L806.78,950.09 L810.77,957.02 L814.75,964.65 L818.73,973.46 L822.71,984.80 L826.70,1005.69 L830.68,1007.82 L834.66,1007.88 L838.65,1007.91 L842.63,1007.93 L846.61,1007.94 L850.59,1007.94 L854.58,1007.95 L858.56,1007.95 L862.54,1007.95" stroke="#467821" stroke-width="1.6" fill="none" stroke-linejoin="round" stroke-linecap="butt"/>
<path d="M384.60,451.07 L385.40,451.58 L386.19,452.09 L386.99,452.60 L387.79,453.12 L388.58,453.63 L389.38,454.14 L390.18,454.66 L390.97,455.17 L391.77,455.69 L392.57,456.21 L393.36,456.72 L394.16,457.24 L394.96,457.76 L395.75,458.28 L396.55,458.80 L397.35,459.32 L398.14,459.85 L398.94,460.37 L399.73,460.90 L400.53,461.42 L404.51,464.06 L408.50,466.72 L412.48,469.41 L416.46,472.12 L420.45,474.85 L424.43,477.60 L428.41,480.37 L432.39,483.18 L436.38,486.00 L440.36,488.85 L444.34,491.73 L448.33,494.63 L452.31,497.55 L456.29,500.51 L460.27,503.49 L464.26,506.50 L468.24,509.53 L472.22,512.60 L476.21,515.69 L480.19,518.82 L484.17,521.97 L488.15,525.16 L492.14,528.37 L496.12,531.62 L500.10,534.90 L504.09,538.22 L508.07,541.56 L512.05,544.95 L516.03,548.36 L520.02,551.82 L524.00,555.31 L527.98,558.83 L531.97,562.40 L535.95,566.00 L539.93,569.64 L543.91,573.33 L547.90,577.05 L551.88,580.82 L555.86,584.63 L559.85,588.48 L563.83,592.38 L567.81,596.32 L571.79,600.31 L575.78,604.35 L579.76,608.43 L583.74,612.57 L587.73,616.75 L591.71,620.99 L595.69,625.27 L599.67,629.62 L603.66,634.01 L607.64,638.46 L611.62,642.96 L615.61,647.53 L619.59,652.15 L623.57,656.82 L627.55,661.56 L631.54,666.36 L635.52,671.22 L639.50,676.14 L643.49,681.12 L647.47,686.17 L651.45,691.27 L655.43,696.44 L659.42,701.68 L663.40,706.97 L667.38,712.33 L671.37,717.75 L675.35,723.23 L679.33,728.77 L683.31,734.37 L687.30,740.02 L691.28,745.73 L695.26,751.49 L699.25,757.30 L703.23,763.15 L707.21,769.05 L711.19,774.98 L715.18,780.94 L719.16,786.93 L723.14,792.94 L727.13,798.96 L731.11,805.00 L735.09,811.04 L739.07,817.08 L743.06,823.11 L747.04,829.12 L751.02,835.12 L755.01,841.10 L758.99,847.05 L762.97,852.97 L766.95,858.85 L770.94,864.71 L774.92,870.53 L778.90,876.32 L782.89,882.09 L786.87,887.83 L790.85,893.56 L794.83,899.28 L798.82,905.00 L802.80,910.75 L806.78,916.54 L810.77,922.40 L814.75,928.35 L818.73,934.45 L822.71,940.75 L826.70,947.32 L830.68,954.31 L834.66,961.93 L838.65,970.58 L842.63,981.29 L846.61,999.61 L850.59,1007.79 L854.58,1007.87 L858.56,1007.91 L862.54,1007.93" stroke="#D55E00" stroke-width="1.6" fill="none" stroke-linejoin="round" stroke-linecap="butt"/>
<path d="M384.60,451.07 L385.40,451.52 L386.19,451.97 L386.99,452.42 L387.79,452.87 L388.58,453.33 L389.38,453.78 L390.18,454.23 L390.97,454.69 L391.77,455.14 L392.57,455.60 L393.36,456.06 L394.16,456.52 L394.96,456.97 L395.75,457.43 L396.55,457.89 L397.35,458.36 L398.14,458.82 L398.94,459.28 L399.73,459.74 L400.53,460.21 L404.51,462.54 L408.50,464.90 L412.48,467.28 L416.46,469.68 L420.45,472.10 L424.43,474.54 L428.41,477.01 L432.39,479.49 L436.38,482.01 L440.36,484.54 L444.34,487.10 L448.33,489.69 L452.31,492.30 L456.29,494.94 L460.27,497.60 L464.26,500.29 L468.24,503.00 L472.22,505.75 L476.21,508.52 L480.19,511.32 L484.17,514.15 L488.15,517.01 L492.14,519.90 L496.12,522.82 L500.10,525.77 L504.09,528.75 L508.07,531.77 L512.05,534.82 L516.03,537.90 L520.02,541.02 L524.00,544.18 L527.98,547.37 L531.97,550.60 L535.95,553.86 L539.93,557.17 L543.91,560.51 L547.90,563.89 L551.88,567.32 L555.86,570.79 L559.85,574.30 L563.83,577.85 L567.81,581.45 L571.79,585.10 L575.78,588.79 L579.76,592.53 L583.74,596.32 L587.73,600.16 L591.71,604.05 L595.69,607.99 L599.67,611.99 L603.66,616.04 L607.64,620.15 L611.62,624.32 L615.61,628.54 L619.59,632.83 L623.57,637.17 L627.55,641.58 L631.54,646.06 L635.52,650.60 L639.50,655.20 L643.49,659.88 L647.47,664.62 L651.45,669.44 L655.43,674.33 L659.42,679.29 L663.40,684.32 L667.38,689.44 L671.37,694.63 L675.35,699.89 L679.33,705.23 L683.31,710.66 L687.30,716.16 L691.28,721.74 L695.26,727.40 L699.25,733.13 L703.23,738.94 L707.21,744.83 L711.19,750.79 L715.18,756.81 L719.16,762.91 L723.14,769.06 L727.13,775.27 L731.11,781.54 L735.09,787.85 L739.07,794.20 L743.06,800.58 L747.04,806.98 L751.02,813.40 L755.01,819.82 L758.99,826.25 L762.97,832.66 L766.95,839.05 L770.94,845.42 L774.92,851.76 L778.90,858.07 L782.89,864.33 L786.87,870.55 L790.85,876.74 L794.83,882.88 L798.82,888.99 L802.80,895.08 L806.78,901.15 L810.77,907.23 L814.75,913.32 L818.73,919.45 L822.71,925.66 L826.70,931.99 L830.68,938.50 L834.66,945.27 L838.65,952.41 L842.63,960.15 L846.61,968.86 L850.59,979.47 L854.58,996.34 L858.56,1007.78 L862.54,1007.87" stroke="#CC79A7" stroke-width="1.6" fill="none" stroke-linejoin="round" stroke-linecap="butt"/>
<path d="M384.60,451.07 L385.40,451.49 L386.19,451.91 L386.99,452.33 L387.79,452.75 L388.58,453.17 L389.38,453.59 L390.18,454.01 L390.97,454.44 L391.77,454.86 L392.57,455.28 L393.36,455.71 L394.16,456.14 L394.96,456.56 L395.75,456.99 L396.55,457.42 L397.35,457.85 L398.14,458.28 L398.94,458.71 L399.73,459.14 L400.53,459.57 L404.51,461.75 L408.50,463.94 L412.48,466.16 L416.46,468.39 L420.45,470.65 L424.43,472.93 L428.41,475.23 L432.39,477.56 L436.38,479.90 L440.36,482.27 L444.34,484.67 L448.33,487.09 L452.31,489.53 L456.29,491.99 L460.27,494.49 L464.26,497.01 L468.24,499.55 L472.22,502.12 L476.21,504.72 L480.19,507.35 L484.17,510.00 L488.15,512.69 L492.14,515.40 L496.12,518.14 L500.10,520.92 L504.09,523.72 L508.07,526.56 L512.05,529.43 L516.03,532.33 L520.02,535.27 L524.00,538.24 L527.98,541.25 L531.97,544.29 L535.95,547.37 L539.93,550.49 L543.91,553.65 L547.90,556.84 L551.88,560.08 L555.86,563.35 L559.85,566.67 L563.83,570.03 L567.81,573.44 L571.79,576.89 L575.78,580.39 L579.76,583.93 L583.74,587.52 L587.73,591.17 L591.71,594.86 L595.69,598.60 L599.67,602.40 L603.66,606.25 L607.64,610.16 L611.62,614.12 L615.61,618.15 L619.59,622.23 L623.57,626.38 L627.55,630.58 L631.54,634.86 L635.52,639.19 L639.50,643.60 L643.49,648.08 L647.47,652.62 L651.45,657.24 L655.43,661.94 L659.42,666.71 L663.40,671.56 L667.38,676.49 L671.37,681.49 L675.35,686.59 L679.33,691.77 L683.31,697.03 L687.30,702.38 L691.28,707.82 L695.26,713.35 L699.25,718.96 L703.23,724.67 L707.21,730.47 L711.19,736.36 L715.18,742.34 L719.16,748.41 L723.14,754.56 L727.13,760.80 L731.11,767.11 L735.09,773.50 L739.07,779.96 L743.06,786.49 L747.04,793.07 L751.02,799.70 L755.01,806.36 L758.99,813.06 L762.97,819.78 L766.95,826.50 L770.94,833.22 L774.92,839.93 L778.90,846.61 L782.89,853.27 L786.87,859.89 L790.85,866.46 L794.83,872.99 L798.82,879.48 L802.80,885.92 L806.78,892.32 L810.77,898.69 L814.75,905.05 L818.73,911.41 L822.71,917.81 L826.70,924.26 L830.68,930.83 L834.66,937.55 L838.65,944.54 L842.63,951.90 L846.61,959.86 L850.59,968.83 L854.58,979.79 L858.56,997.86 L862.54,1007.79" stroke="#56B4E9" stroke-width="1.6" fill="none" stroke-linejoin="round" stroke-linecap="butt"/>
<path d="M384.60,442.37 L387.00,443.31 L389.40,444.26 L391.81,445.20 L394.21,446.14 L396.61,447.08 L399.01,448.03 L401.41,448.97 L403.81,449.91 L406.22,450.85 L408.62,451.79 L411.02,452.74 L413.42,453.68 L415.82,454.62 L418.22,455.56 L420.63,456.50 L423.03,457.45 L425.43,458.39 L427.83,459.33 L430.23,460.27 L432.63,461.22 L435.04,462.16 L437.44,463.10 L439.84,464.04 L442.24,464.98 L444.64,465.93 L447.04,466.87 L449.45,467.81 L451.85,468.75 L454.25,469.69 L456.65,470.64 L459.05,471.58 L461.46,472.52 L463.86,473.46 L466.26,474.41 L468.66,475.35 L471.06,476.29 L473.46,477.23 L475.87,478.17 L478.27,479.12 L480.67,480.06 L483.07,481.00 L485.47,481.94 L487.87,482.88 L490.28,483.83 L492.68,484.77 L495.08,485.71 L497.48,486.65 L499.88,487.60 L502.28,488.54 L504.69,489.48 L507.09,490.42 L509.49,491.36 L511.89,492.31 L514.29,493.25 L516.69,494.19 L519.10,495.13 L521.50,496.07 L523.90,497.02 L526.30,497.96 L528.70,498.90 L531.11,499.84 L533.51,500.79 L535.91,501.73 L538.31,502.67 L540.71,503.61 L543.11,504.55 L545.52,505.50 L547.92,506.44 L550.32,507.38 L552.72,508.32 L555.12,509.26 L557.52,510.21 L559.93,511.15 L562.33,512.09 L564.73,513.03 L567.13,513.98 L569.53,514.92 L571.93,515.86 L574.34,516.80 L576.74,517.74 L579.14,518.69 L581.54,519.63 L583.94,520.57 L586.34,521.51 L588.75,522.46 L591.15,523.40 L593.55,524.34 L595.95,525.28 L598.35,526.22 L600.76,527.17 L603.16,528.11 L605.56,529.05 L607.96,529.99 L610.36,530.93 L612.76,531.88 L615.17,532.82 L617.57,533.76 L619.97,534.70 L622.37,535.65 L624.77,536.59 L627.17,537.53 L629.58,538.47 L631.98,539.41 L634.38,540.36 L636.78,541.30 L639.18,542.24 L641.58,543.18 L643.99,544.12 L646.39,545.07 L648.79,546.01 L651.19,546.95 L653.59,547.89 L655.99,548.84 L658.40,549.78 L660.80,550.72 L663.20,551.66 L665.60,552.60 L668.00,553.55 L670.41,554.49 L672.81,555.43 L675.21,556.37 L677.61,557.31 L680.01,558.26 L682.41,559.20 L684.82,560.14 L687.22,561.08 L689.62,562.03 L692.02,562.97 L694.42,563.91 L696.82,564.85 L699.23,565.79 L701.63,566.74 L704.03,567.68 L706.43,568.62 L708.83,569.56 L711.23,570.50 L713.64,571.45 L716.04,572.39 L718.44,573.33 L720.84,574.27 L723.24,575.22 L725.64,576.16 L728.05,577.10 L730.45,578.04 L732.85,578.98 L735.25,579.93 L737.65,580.87 L740.05,581.81 L742.46,582.75 L744.86,583.69 L747.26,584.64 L749.66,585.58 L752.06,586.52 L754.47,587.46 L756.87,588.41 L759.27,589.35 L761.67,590.29 L764.07,591.23 L766.47,592.17 L768.88,593.12 L771.28,594.06 L773.68,595.00 L776.08,595.94 L778.48,596.88 L780.88,597.83 L783.29,598.77 L785.69,599.71 L788.09,600.65 L790.49,601.60 L792.89,602.54 L795.29,603.48 L797.70,604.42 L800.10,605.36 L802.50,606.31 L804.90,607.25 L807.30,608.19 L809.70,609.13 L812.11,610.08 L814.51,611.02 L816.91,611.96 L819.31,612.90 L821.71,613.84 L824.12,614.79 L826.52,615.73 L828.92,616.67 L831.32,617.61 L833.72,618.55 L836.12,619.50 L838.53,620.44 L840.93,621.38 L843.33,622.32 L845.73,623.27 L848.13,624.21 L850.53,625.15 L852.94,626.09 L855.34,627.03 L857.74,627.98 L860.14,628.92 L862.54,629.86" stroke="#ff0000" stroke-width="1.6" fill="none" stroke-linejoin="round" stroke-linecap="butt" stroke-dasharray="5.1 2.2"/>
<path d="M384.60,447.43 L385.24,456.62 L386.99,569.97 L388.90,701.70 L389.38,717.02" stroke="#000000" stroke-width="1.6" fill="none" stroke-linejoin="round" stroke-linecap="butt" stroke-dasharray="5.1 2.2"/>
<path d="M383.00 443.28a1.6 1.6 0 1 0 3.2 0a1.6 1.6 0 1 0 -3.2 0M387.83 444.00a1.6 1.6 0 1 0 3.2 0a1.6 1.6 0 1 0 -3.2 0M392.66 444.73a1.6 1.6 0 1 0 3.2 0a1.6 1.6 0 1 0 -3.2 0M397.48 445.46a1.6 1.6 0 1 0 3.2 0a1.6 1.6 0 1 0 -3.2 0M402.31 446.19a1.6 1.6 0 1 0 3.2 0a1.6 1.6 0 1 0 -3.2 0M407.14 446.93a1.6 1.6 0 1 0 3.2 0a1.6 1.6 0 1 0 -3.2 0M411.97 447.68a1.6 1.6 0 1 0 3.2 0a1.6 1.6 0 1 0 -3.2 0M416.79 448.44a1.6 1.6 0 1 0 3.2 0a1.6 1.6 0 1 0 -3.2 0M421.62 449.20a1.6 1.6 0 1 0 3.2 0a1.6 1.6 0 1 0 -3.2 0M426.45 449.97a1.6 1.6 0 1 0 3.2 0a1.6 1.6 0 1 0 -3.2 0M431.28 450.74a1.6 1.6 0 1 0 3.2 0a1.6 1.6 0 1 0 -3.2 0M436.10 451.52a1.6 1.6 0 1 0 3.2 0a1.6 1.6 0 1 0 -3.2 0M440.93 452.31a1.6 1.6 0 1 0 3.2 0a1.6 1.6 0 1 0 -3.2 0M445.76 453.11a1.6 1.6 0 1 0 3.2 0a1.6 1.6 0 1 0 -3.2 0M450.59 453.91a1.6 1.6 0 1 0 3.2 0a1.6 1.6 0 1 0 -3.2 0M455.42 454.72a1.6 1.6 0 1 0 3.2 0a1.6 1.6 0 1 0 -3.2 0M460.24 455.54a1.6 1.6 0 1 0 3.2 0a1.6 1.6 0 1 0 -3.2 0M465.07 456.36a1.6 1.6 0 1 0 3.2 0a1.6 1.6 0 1 0 -3.2 0M469.90 457.19a1.6 1.6 0 1 0 3.2 0a1.6 1.6 0 1 0 -3.2 0M474.73 458.03a1.6 1.6 0 1 0 3.2 0a1.6 1.6 0 1 0 -3.2 0M479.55 458.88a1.6 1.6 0 1 0 3.2 0a1.6 1.6 0 1 0 -3.2 0M484.38 459.73a1.6 1.6 0 1 0 3.2 0a1.6 1.6 0 1 0 -3.2 0M489.21 460.59a1.6 1.6 0 1 0 3.2 0a1.6 1.6 0 1 0 -3.2 0M494.04 461.46a1.6 1.6 0 1 0 3.2 0a1.6 1.6 0 1 0 -3.2 0M498.86 462.34a1.6 1.6 0 1 0 3.2 0a1.6 1.6 0 1 0 -3.2 0M503.69 463.23a1.6 1.6 0 1 0 3.2 0a1.6 1.6 0 1 0 -3.2 0M508.52 464.13a1.6 1.6 0 1 0 3.2 0a1.6 1.6 0 1 0 -3.2 0M513.35 465.03a1.6 1.6 0 1 0 3.2 0a1.6 1.6 0 1 0 -3.2 0M518.18 465.94a1.6 1.6 0 1 0 3.2 0a1.6 1.6 0 1 0 -3.2 0M523.00 466.86a1.6 1.6 0 1 0 3.2 0a1.6 1.6 0 1 0 -3.2 0M527.83 467.79a1.6 1.6 0 1 0 3.2 0a1.6 1.6 0 1 0 -3.2 0M532.66 468.73a1.6 1.6 0 1 0 3.2 0a1.6 1.6 0 1 0 -3.2 0M537.49 469.68a1.6 1.6 0 1 0 3.2 0a1.6 1.6 0 1 0 -3.2 0M542.31 470.64a1.6 1.6 0 1 0 3.2 0a1.6 1.6 0 1 0 -3.2 0M547.14 471.60a1.6 1.6 0 1 0 3.2 0a1.6 1.6 0 1 0 -3.2 0M551.97 472.58a1.6 1.6 0 1 0 3.2 0a1.6 1.6 0 1 0 -3.2 0M556.80 473.57a1.6 1.6 0 1 0 3.2 0a1.6 1.6 0 1 0 -3.2 0M561.63 474.56a1.6 1.6 0 1 0 3.2 0a1.6 1.6 0 1 0 -3.2 0M566.45 475.57a1.6 1.6 0 1 0 3.2 0a1.6 1.6 0 1 0 -3.2 0M571.28 476.58a1.6 1.6 0 1 0 3.2 0a1.6 1.6 0 1 0 -3.2 0M576.11 477.61a1.6 1.6 0 1 0 3.2 0a1.6 1.6 0 1 0 -3.2 0M580.94 478.65a1.6 1.6 0 1 0 3.2 0a1.6 1.6 0 1 0 -3.2 0M585.76 479.69a1.6 1.6 0 1 0 3.2 0a1.6 1.6 0 1 0 -3.2 0M590.59 480.75a1.6 1.6 0 1 0 3.2 0a1.6 1.6 0 1 0 -3.2 0M595.42 481.82a1.6 1.6 0 1 0 3.2 0a1.6 1.6 0 1 0 -3.2 0M600.25 482.90a1.6 1.6 0 1 0 3.2 0a1.6 1.6 0 1 0 -3.2 0M605.07 483.99a1.6 1.6 0 1 0 3.2 0a1.6 1.6 0 1 0 -3.2 0M609.90 485.10a1.6 1.6 0 1 0 3.2 0a1.6 1.6 0 1 0 -3.2 0M614.73 486.21a1.6 1.6 0 1 0 3.2 0a1.6 1.6 0 1 0 -3.2 0M619.56 487.34a1.6 1.6 0 1 0 3.2 0a1.6 1.6 0 1 0 -3.2 0M624.39 488.48a1.6 1.6 0 1 0 3.2 0a1.6 1.6 0 1 0 -3.2 0M629.21 489.63a1.6 1.6 0 1 0 3.2 0a1.6 1.6 0 1 0 -3.2 0M634.04 490.80a1.6 1.6 0 1 0 3.2 0a1.6 1.6 0 1 0 -3.2 0M638.87 491.97a1.6 1.6 0 1 0 3.2 0a1.6 1.6 0 1 0 -3.2 0M643.70 493.16a1.6 1.6 0 1 0 3.2 0a1.6 1.6 0 1 0 -3.2 0M648.52 494.37a1.6 1.6 0 1 0 3.2 0a1.6 1.6 0 1 0 -3.2 0M653.35 495.58a1.6 1.6 0 1 0 3.2 0a1.6 1.6 0 1 0 -3.2 0M658.18 496.81a1.6 1.6 0 1 0 3.2 0a1.6 1.6 0 1 0 -3.2 0M663.01 498.06a1.6 1.6 0 1 0 3.2 0a1.6 1.6 0 1 0 -3.2 0M667.83 499.32a1.6 1.6 0 1 0 3.2 0a1.6 1.6 0 1 0 -3.2 0M672.66 500.59a1.6 1.6 0 1 0 3.2 0a1.6 1.6 0 1 0 -3.2 0M677.49 501.88a1.6 1.6 0 1 0 3.2 0a1.6 1.6 0 1 0 -3.2 0M682.32 503.18a1.6 1.6 0 1 0 3.2 0a1.6 1.6 0 1 0 -3.2 0M687.15 504.50a1.6 1.6 0 1 0 3.2 0a1.6 1.6 0 1 0 -3.2 0M691.97 505.83a1.6 1.6 0 1 0 3.2 0a1.6 1.6 0 1 0 -3.2 0M696.80 507.18a1.6 1.6 0 1 0 3.2 0a1.6 1.6 0 1 0 -3.2 0M701.63 508.54a1.6 1.6 0 1 0 3.2 0a1.6 1.6 0 1 0 -3.2 0M706.46 509.92a1.6 1.6 0 1 0 3.2 0a1.6 1.6 0 1 0 -3.2 0M711.28 511.32a1.6 1.6 0 1 0 3.2 0a1.6 1.6 0 1 0 -3.2 0M716.11 512.74a1.6 1.6 0 1 0 3.2 0a1.6 1.6 0 1 0 -3.2 0M720.94 514.17a1.6 1.6 0 1 0 3.2 0a1.6 1.6 0 1 0 -3.2 0M725.77 515.62a1.6 1.6 0 1 0 3.2 0a1.6 1.6 0 1 0 -3.2 0M730.59 517.09a1.6 1.6 0 1 0 3.2 0a1.6 1.6 0 1 0 -3.2 0M735.42 518.58a1.6 1.6 0 1 0 3.2 0a1.6 1.6 0 1 0 -3.2 0M740.25 520.08a1.6 1.6 0 1 0 3.2 0a1.6 1.6 0 1 0 -3.2 0M745.08 521.61a1.6 1.6 0 1 0 3.2 0a1.6 1.6 0 1 0 -3.2 0M749.91 523.15a1.6 1.6 0 1 0 3.2 0a1.6 1.6 0 1 0 -3.2 0M754.73 524.72a1.6 1.6 0 1 0 3.2 0a1.6 1.6 0 1 0 -3.2 0M759.56 526.30a1.6 1.6 0 1 0 3.2 0a1.6 1.6 0 1 0 -3.2 0M764.39 527.91a1.6 1.6 0 1 0 3.2 0a1.6 1.6 0 1 0 -3.2 0M769.22 529.53a1.6 1.6 0 1 0 3.2 0a1.6 1.6 0 1 0 -3.2 0M774.04 531.18a1.6 1.6 0 1 0 3.2 0a1.6 1.6 0 1 0 -3.2 0M778.87 532.85a1.6 1.6 0 1 0 3.2 0a1.6 1.6 0 1 0 -3.2 0M783.70 534.55a1.6 1.6 0 1 0 3.2 0a1.6 1.6 0 1 0 -3.2 0M788.53 536.26a1.6 1.6 0 1 0 3.2 0a1.6 1.6 0 1 0 -3.2 0M793.35 538.01a1.6 1.6 0 1 0 3.2 0a1.6 1.6 0 1 0 -3.2 0M798.18 539.77a1.6 1.6 0 1 0 3.2 0a1.6 1.6 0 1 0 -3.2 0M803.01 541.56a1.6 1.6 0 1 0 3.2 0a1.6 1.6 0 1 0 -3.2 0M807.84 543.37a1.6 1.6 0 1 0 3.2 0a1.6 1.6 0 1 0 -3.2 0M812.67 545.21a1.6 1.6 0 1 0 3.2 0a1.6 1.6 0 1 0 -3.2 0M817.49 547.08a1.6 1.6 0 1 0 3.2 0a1.6 1.6 0 1 0 -3.2 0M822.32 548.98a1.6 1.6 0 1 0 3.2 0a1.6 1.6 0 1 0 -3.2 0M827.15 550.90a1.6 1.6 0 1 0 3.2 0a1.6 1.6 0 1 0 -3.2 0M831.98 552.85a1.6 1.6 0 1 0 3.2 0a1.6 1.6 0 1 0 -3.2 0M836.80 554.83a1.6 1.6 0 1 0 3.2 0a1.6 1.6 0 1 0 -3.2 0M841.63 556.84a1.6 1.6 0 1 0 3.2 0a1.6 1.6 0 1 0 -3.2 0M846.46 558.88a1.6 1.6 0 1 0 3.2 0a1.6 1.6 0 1 0 -3.2 0M851.29 560.95a1.6 1.6 0 1 0 3.2 0a1.6 1.6 0 1 0 -3.2 0M856.12 563.05a1.6 1.6 0 1 0 3.2 0a1.6 1.6 0 1 0 -3.2 0M860.94 565.19a1.6 1.6 0 1 0 3.2 0a1.6 1.6 0 1 0 -3.2 0" fill="#0000ff"/>
<path d="M383.00 456.92a1.6 1.6 0 1 0 3.2 0a1.6 1.6 0 1 0 -3.2 0" fill="#bf00bf"/>
</g>
<rect x="384.6" y="441.3" width="278.80" height="260.40" fill="none" stroke="#bcbcbc" stroke-width="1"/>
<path d="M424.43 701.7v-3M464.26 701.7v-3M504.09 701.7v-3M543.91 701.7v-3M583.74 701.7v-3M623.57 701.7v-3M384.6 671.06h3M384.6 640.43h3M384.6 609.79h3M384.6 579.16h3M384.6 548.52h3M384.6 517.89h3M384.6 487.25h3M384.6 456.62h3" stroke="#222" stroke-width="0.7" fill="none"/>
<text x="384.60" y="712.80" font-size="10.6" font-family='"Liberation Sans", sans-serif' text-anchor="middle" fill="#000" textLength="23.16" lengthAdjust="spacingAndGlyphs" class="s">0.00</text>
<text x="424.43" y="712.80" font-size="10.6" font-family='"Liberation Sans", sans-serif' text-anchor="middle" fill="#000" textLength="23.16" lengthAdjust="spacingAndGlyphs" class="s">0.05</text>
<text x="464.26" y="712.80" font-size="10.6" font-family='"Liberation Sans", sans-serif' text-anchor="middle" fill="#000" textLength="23.16" lengthAdjust="spacingAndGlyphs" class="s">0.10</text>
<text x="504.09" y="712.80" font-size="10.6" font-family='"Liberation Sans", sans-serif' text-anchor="middle" fill="#000" textLength="23.16" lengthAdjust="spacingAndGlyphs" class="s">0.15</text>
<text x="543.91" y="712.80" font-size="10.6" font-family='"Liberation Sans", sans-serif' text-anchor="middle" fill="#000" textLength="23.16" lengthAdjust="spacingAndGlyphs" class="s">0.20</text>
<text x="583.74" y="712.80" font-size="10.6" font-family='"Liberation Sans", sans-serif' text-anchor="middle" fill="#000" textLength="23.16" lengthAdjust="spacingAndGlyphs" class="s">0.25</text>
<text x="623.57" y="712.80" font-size="10.6" font-family='"Liberation Sans", sans-serif' text-anchor="middle" fill="#000" textLength="23.16" lengthAdjust="spacingAndGlyphs" class="s">0.30</text>
<text x="663.40" y="712.80" font-size="10.6" font-family='"Liberation Sans", sans-serif' text-anchor="middle" fill="#000" textLength="23.16" lengthAdjust="spacingAndGlyphs" class="s">0.35</text>
<text x="381.10" y="705.90" font-size="10.6" font-family='"Liberation Sans", sans-serif' text-anchor="end" fill="#000" textLength="26.47" lengthAdjust="spacingAndGlyphs" class="s">2000</text>
<text x="381.10" y="675.26" font-size="10.6" font-family='"Liberation Sans", sans-serif' text-anchor="end" fill="#000" textLength="26.47" lengthAdjust="spacingAndGlyphs" class="s">2200</text>
<text x="381.10" y="644.63" font-size="10.6" font-family='"Liberation Sans", sans-serif' text-anchor="end" fill="#000" textLength="26.47" lengthAdjust="spacingAndGlyphs" class="s">2400</text>
<text x="381.10" y="613.99" font-size="10.6" font-family='"Liberation Sans", sans-serif' text-anchor="end" fill="#000" textLength="26.47" lengthAdjust="spacingAndGlyphs" class="s">2600</text>
<text x="381.10" y="583.36" font-size="10.6" font-family='"Liberation Sans", sans-serif' text-anchor="end" fill="#000" textLength="26.47" lengthAdjust="spacingAndGlyphs" class="s">2800</text>
<text x="381.10" y="552.72" font-size="10.6" font-family='"Liberation Sans", sans-serif' text-anchor="end" fill="#000" textLength="26.47" lengthAdjust="spacingAndGlyphs" class="s">3000</text>
<text x="381.10" y="522.09" font-size="10.6" font-family='"Liberation Sans", sans-serif' text-anchor="end" fill="#000" textLength="26.47" lengthAdjust="spacingAndGlyphs" class="s">3200</text>
<text x="381.10" y="491.45" font-size="10.6" font-family='"Liberation Sans", sans-serif' text-anchor="end" fill="#000" textLength="26.47" lengthAdjust="spacingAndGlyphs" class="s">3400</text>
<text x="381.10" y="460.82" font-size="10.6" font-family='"Liberation Sans", sans-serif' text-anchor="end" fill="#000" textLength="26.47" lengthAdjust="spacingAndGlyphs" class="s">3600</text>
<g clip-path="url(#cBR)">
<path d="M479.20,572.70 L480.01,575.19 L482.62,575.19 L480.51,576.72 L481.32,579.21 L479.20,577.68 L477.08,579.21 L477.89,576.72 L475.78,575.19 L478.39,575.19Z" fill="#ff0000"/>
<path d="M464.70,547.70 L461.40,554.30 L468.00,554.30Z" fill="#ff0000"/>
<path d="M568.90,586.90 L572.04,589.18 L570.84,592.87 L566.96,592.87 L565.76,589.18Z" fill="#ff0000"/>
<path d="M450.80,542.30 L453.94,544.58 L452.74,548.27 L448.86,548.27 L447.66,544.58Z" fill="#0000ff"/>
<path d="M466.90,558.90 L471.50,563.50 L466.90,568.10 L462.30,563.50Z" fill="#ff0000"/>
<path d="M504.50,656.50 L509.10,661.10 L504.50,665.70 L499.90,661.10Z" fill="#0000ff"/>
<path d="M444.10,453.90 L448.70,458.50 L444.10,463.10 L439.50,458.50Z" fill="#000000"/>
</g>
<text x="171.50" y="379.20" font-size="12.2" font-family='"Liberation Sans", sans-serif' text-anchor="middle" fill="#000" textLength="81.40" lengthAdjust="spacingAndGlyphs" class="s">Porosity (v/v)</text>
<text x="506.60" y="379.40" font-size="12.2" font-family='"Liberation Sans", sans-serif' text-anchor="middle" fill="#000" textLength="81.40" lengthAdjust="spacingAndGlyphs" class="s">Porosity (v/v)</text>
<text x="189.10" y="728.10" font-size="12.2" font-family='"Liberation Sans", sans-serif' text-anchor="middle" fill="#000" textLength="81.40" lengthAdjust="spacingAndGlyphs" class="s">Porosity (v/v)</text>
<text x="524.00" y="727.80" font-size="12.2" font-family='"Liberation Sans", sans-serif' text-anchor="middle" fill="#000" textLength="81.40" lengthAdjust="spacingAndGlyphs" class="s">Porosity (v/v)</text>
<text x="9.70" y="222.60" font-size="12.2" font-family='"Liberation Sans", sans-serif' text-anchor="middle" fill="#000" textLength="122.50" lengthAdjust="spacingAndGlyphs" transform="rotate(-90 9.70 222.60)" class="s">Bulk modulus (GPa)</text>
<text x="333.40" y="222.00" font-size="12.2" font-family='"Liberation Sans", sans-serif' text-anchor="middle" fill="#000" textLength="132.10" lengthAdjust="spacingAndGlyphs" transform="rotate(-90 333.40 222.00)" class="s">Shear modulus (GPa)</text>
<text class="s" x="12.5" y="572.2" font-size="12.2" font-family='"Liberation Sans", sans-serif' text-anchor="middle" transform="rotate(-90 12.5 572.2)" textLength="49.3" lengthAdjust="spacingAndGlyphs"><tspan font-style="italic">V</tspan><tspan font-size="8.5" font-style="italic" dy="2.5">P</tspan><tspan dy="-2.5"> (m/s)</tspan></text>
<text class="s" x="347.3" y="572.1" font-size="12.2" font-family='"Liberation Sans", sans-serif' text-anchor="middle" transform="rotate(-90 347.3 572.1)" textLength="48.8" lengthAdjust="spacingAndGlyphs"><tspan font-style="italic">V</tspan><tspan font-size="8.5" font-style="italic" dy="2.5">S</tspan><tspan dy="-2.5"> (m/s)</tspan></text>
</svg></body></html>
